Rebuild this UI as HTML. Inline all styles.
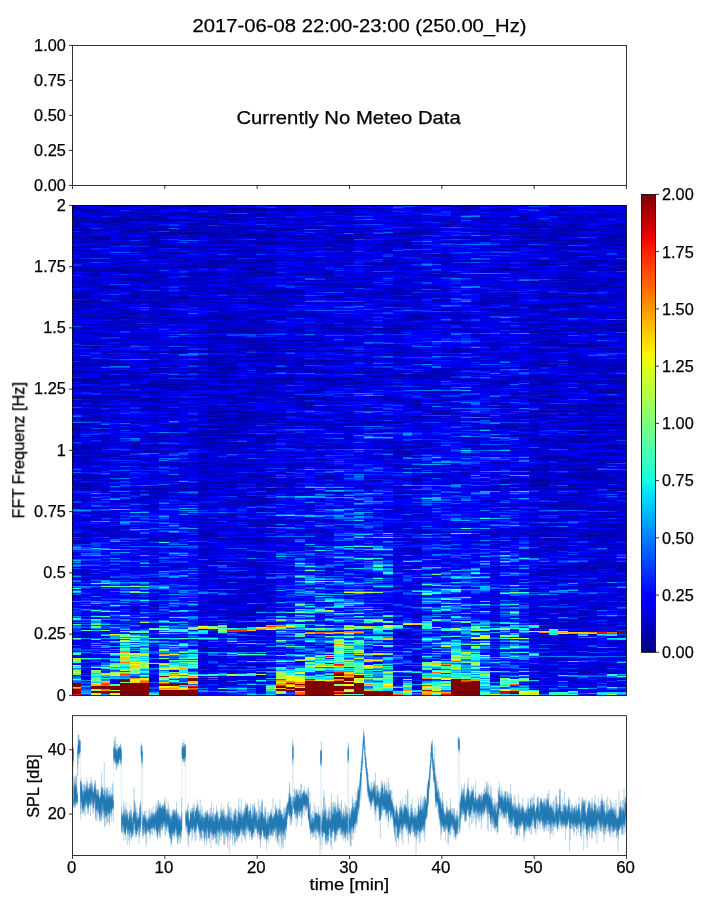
<!DOCTYPE html>
<html><head><meta charset="utf-8"><title>spectrogram</title>
<style>
html,body{margin:0;padding:0;background:#fff}
svg{display:block}
text{font-family:"Liberation Sans",sans-serif;fill:#000;stroke:#000;stroke-width:0.25px}
.ln{stroke:#000;stroke-width:0.8;fill:none}
</style></head><body>

<svg width="720" height="900" viewBox="0 0 720 900">
<rect width="720" height="900" fill="#fff"/>
<rect class="ln" x="72.5" y="45.4" width="554" height="140"/>
<path class="ln" d="M72.5 45.4h-3.5M72.5 80.4h-3.5M72.5 115.4h-3.5M72.5 150.4h-3.5M72.5 185.4h-3.5M72.5 185.4v3.5M164.833 185.4v3.5M257.167 185.4v3.5M349.5 185.4v3.5M441.833 185.4v3.5M534.167 185.4v3.5M626.5 185.4v3.5"/>
<rect x="72.5" y="205.4" width="554" height="490" fill="#0000c5"/>
<g transform="translate(71.5,205.9000) scale(9.73684,1.00000)" fill="none" stroke-width="1" shape-rendering="crispEdges">
<path stroke="#000091" d="M54 219h3M1 174h1M18 174h1M25 173h1M14 172h1M47 172h1M47 170h3M8 164h1M8 36h1M15 36h1"/>
<path stroke="#0000a2" d="M50 335h1M16 334h3M48 334h1M56 334h1M15 333h1M55 332h1M49 331h1M52 331h1M47 330h1M53 330h1M55 330h1M53 329h2M53 327h1M54 326h1M13 325h1M47 325h1M49 324h3M48 322h1M55 322h1M19 297h1M19 296h2M51 296h1M13 294h1M49 293h1M18 291h1M13 290h1M50 290h1M13 289h1M51 289h1M17 288h1M8 287h1M1 284h1M8 284h1M14 284h1M16 284h1M20 284h1M50 284h1M52 284h1M1 283h1M13 283h1M20 283h1M51 283h2M55 283h2M55 282h1M15 281h1M35 281h1M47 281h1M1 280h1M47 280h1M52 280h3M48 279h1M51 279h1M19 278h1M54 278h3M16 277h2M48 277h1M56 277h1M16 276h1M20 276h1M49 276h1M52 276h1M54 276h1M4 275h1M35 275h1M47 275h2M15 274h1M17 274h2M20 274h1M22 274h1M35 274h1M48 274h1M52 273h1M50 272h3M18 271h3M51 271h3M1 270h1M14 270h2M19 270h1M18 269h1M47 269h1M56 268h1M52 265h2M52 263h1M13 262h1M17 262h1M17 258h1M13 257h1M54 257h2M18 255h1M51 255h2M51 254h2M47 253h4M8 252h1M17 252h1M49 252h1M51 252h2M49 251h2M55 249h1M54 248h2M16 247h1M14 244h1M19 244h1M53 244h2M51 243h1M1 242h1M1 241h1M50 241h1M54 241h2M1 240h1M8 240h1M13 240h2M17 240h1M49 240h1M53 240h3M8 239h1M16 237h2M53 236h1M48 235h1M18 234h1M47 234h1M54 234h1M14 233h2M20 233h1M48 233h1M51 233h2M0 232h4M7 232h1M18 232h3M50 232h1M52 232h4M7 231h2M17 231h1M19 231h2M13 230h1M16 230h3M25 230h2M32 230h1M47 230h1M52 230h2M12 229h2M53 228h1M13 227h4M52 227h2M53 226h4M14 225h3M0 224h1M50 224h2M0 223h1M17 223h2M43 223h1M52 223h2M14 222h2M25 222h2M43 222h1M50 222h2M54 222h3M14 221h1M45 221h2M4 220h1M17 220h1M27 220h1M53 220h4M0 219h2M15 219h1M22 219h1M25 219h4M53 219h1M1 218h1M15 218h1M26 218h1M30 218h1M31 217h3M25 216h2M52 216h1M14 215h4M1 214h1M14 214h1M17 214h1M55 214h1M1 213h2M17 213h1M21 213h1M49 213h1M17 212h1M12 211h1M14 211h1M18 211h1M24 211h1M35 211h1M47 211h1M48 210h1M52 210h1M21 209h2M50 209h1M52 209h1M1 208h1M17 208h1M19 208h3M23 208h1M56 208h1M1 207h2M14 207h2M17 207h2M47 207h2M14 206h2M17 206h1M48 206h1M48 205h1M50 205h1M54 205h1M24 204h2M52 203h1M54 202h2M3 201h1M8 201h1M17 201h1M54 201h2M17 200h1M55 200h1M35 199h1M53 199h1M55 199h2M2 197h1M9 197h1M16 197h1M23 197h2M7 196h2M18 196h1M47 196h3M7 195h1M38 195h1M47 195h1M8 194h1M18 194h2M32 194h1M40 194h1M5 193h2M8 193h1M16 193h1M23 193h3M54 193h3M1 192h1M26 192h1M49 192h2M0 191h3M4 191h1M48 191h2M13 190h2M13 189h1M47 189h1M17 188h2M8 187h1M19 187h1M54 187h2M8 186h1M48 186h2M51 186h1M24 185h1M54 185h2M56 184h1M0 183h2M3 183h2M10 183h1M14 183h1M55 183h2M0 182h1M10 182h1M15 182h2M45 182h1M49 182h1M56 182h1M14 181h4M8 180h2M7 179h6M26 179h2M47 179h1M0 178h2M21 178h3M26 178h2M2 177h1M8 177h2M11 177h1M19 177h1M29 177h2M43 177h2M48 177h1M56 177h1M1 176h2M12 176h1M15 176h1M18 176h1M26 176h1M35 176h1M49 176h1M0 175h2M17 175h1M21 175h1M24 175h3M48 175h2M55 175h2M2 174h1M4 174h2M17 174h1M19 174h3M25 174h1M28 174h1M39 174h2M45 174h1M48 174h2M6 173h1M20 173h3M24 173h1M28 173h1M45 173h1M3 172h1M6 172h1M15 172h1M22 172h1M36 172h1M48 172h1M50 172h1M54 172h2M3 171h1M6 171h2M14 171h2M30 171h2M35 171h2M47 171h1M55 171h2M3 170h4M14 170h2M21 170h1M32 170h4M55 170h2M33 169h1M15 168h1M0 167h2M6 167h2M13 167h1M25 167h2M30 167h1M37 167h1M0 166h2M19 166h2M22 166h5M30 166h1M37 166h1M20 165h1M24 165h1M15 164h2M39 164h3M8 163h1M15 163h2M20 163h2M56 163h1M13 162h5M0 160h2M54 160h1M56 160h1M1 159h5M14 159h2M48 159h1M16 158h1M23 158h1M33 158h1M43 158h1M53 158h4M47 157h2M14 156h1M24 156h3M35 156h1M19 155h3M24 155h3M28 155h1M1 154h1M51 154h1M47 152h2M13 151h1M17 151h3M20 150h1M43 150h1M48 150h4M7 147h1M9 147h2M14 147h1M33 147h1M3 146h2M14 146h1M22 146h1M48 146h2M11 145h1M22 145h1M27 145h1M48 145h1M17 144h1M17 143h3M2 141h1M51 141h3M17 140h1M50 140h5M19 139h1M49 139h2M52 139h1M17 137h2M53 137h1M22 136h1M48 136h3M24 135h1M49 135h1M3 134h1M15 134h3M14 133h2M7 130h2M50 129h1M18 127h1M47 127h1M15 126h4M33 126h1M47 126h3M13 125h2M17 125h2M28 125h1M51 125h3M55 125h2M6 124h1M23 124h1M56 124h1M1 123h1M27 123h1M30 123h5M46 123h1M53 123h3M20 122h2M25 121h1M48 121h1M26 120h1M34 120h1M7 119h2M20 119h1M26 119h1M47 119h1M55 119h2M16 118h1M18 118h1M36 118h1M39 118h1M48 118h2M39 117h1M16 116h1M34 115h1M11 114h1M13 114h1M18 114h1M46 114h1M4 113h1M13 113h1M15 113h2M35 113h1M13 112h1M52 112h1M5 111h1M35 111h1M15 110h1M33 110h1M6 109h1M9 109h1M15 109h1M49 109h2M55 108h2M20 107h1M49 107h1M56 107h1M18 106h1M48 102h2M47 101h3M3 100h1M47 100h1M33 99h1M50 99h2M3 98h1M17 98h1M19 98h1M41 98h2M51 98h4M1 97h1M6 97h1M8 97h1M14 97h1M18 97h1M53 97h2M0 96h1M19 95h2M38 95h1M34 94h1M0 93h1M7 93h1M10 93h2M20 93h1M43 93h3M52 93h2M11 92h1M16 92h1M30 92h1M32 92h4M44 92h1M0 91h1M11 91h1M16 91h1M26 91h2M51 91h1M43 90h3M6 89h1M30 89h2M9 88h1M33 88h2M16 87h1M20 87h1M15 86h2M20 86h4M16 85h1M22 85h1M12 84h1M15 84h1M18 84h1M28 84h1M37 83h1M51 83h3M3 82h2M30 82h2M37 82h1M3 81h1M26 81h1M29 81h2M53 81h2M56 81h1M54 80h1M19 79h1M23 79h2M12 78h1M34 78h1M44 78h1M50 78h1M1 77h1M14 77h1M47 77h1M51 77h1M13 76h1M16 76h1M33 76h2M52 76h4M6 75h2M26 75h1M53 75h1M4 74h1M6 74h1M21 74h2M30 74h1M54 74h1M30 73h1M50 73h2M8 72h1M51 72h1M2 70h2M13 70h1M36 70h2M56 70h1M2 69h1M18 69h1M23 69h2M1 68h4M12 68h4M7 67h2M19 67h2M7 66h1M1 65h5M18 64h1M44 64h4M52 64h2M4 63h2M18 63h1M44 63h1M51 62h1M53 62h1M12 61h4M53 61h1M56 61h1M20 60h1M14 59h1M31 59h2M47 59h3M33 58h1M53 58h1M56 58h1M18 57h1M6 56h1M16 56h1M19 56h2M54 56h1M0 55h1M14 55h1M19 55h2M24 55h1M52 55h3M22 52h1M28 52h1M51 52h1M8 51h1M2 50h1M5 50h1M10 48h1M10 47h1M16 46h1M0 45h1M7 45h1M16 45h1M20 44h1M52 44h1M50 43h2M55 43h1M0 42h1M34 42h1M48 42h1M1 41h1M9 41h4M24 41h1M26 41h2M34 41h2M44 41h4M23 40h2M27 40h1M33 40h3M56 40h1M8 39h1M19 39h2M32 39h1M56 39h1M20 38h2M31 38h1M34 38h1M1 37h1M4 37h2M7 37h1M14 37h3M18 37h3M22 37h2M28 37h1M38 37h2M51 37h1M1 36h1M9 36h1M43 36h1M52 36h2M8 35h1M15 35h1M33 35h1M49 35h4M3 34h1M50 34h2M2 33h2M8 33h1M24 33h1M28 33h3M47 33h1M55 33h1M2 32h1M15 32h1M47 32h1M0 31h1M2 31h2M12 31h1M17 31h1M19 31h1M23 31h1M27 31h2M33 31h1M56 31h1M20 30h1M55 30h1M8 29h5M15 29h6M29 29h2M34 29h2M45 29h2M54 29h1M1 28h1M10 28h4M24 28h2M56 28h1M5 27h2M10 27h4M35 27h2M45 27h1M49 27h1M5 26h2M16 26h1M42 26h1M0 25h3M6 25h3M11 25h1M22 25h1M50 25h2M53 25h1M1 24h1M6 24h1M11 24h2M20 24h1M22 24h1M45 24h1M50 24h1M52 24h1M8 23h2M15 23h1M17 23h1M19 23h4M51 23h2M18 22h1M47 22h1M4 21h1M45 21h4M56 21h1M0 20h1M21 20h1M14 19h2M46 19h2M51 19h1M13 18h2M45 18h1M51 18h1M2 17h4M20 17h1M27 17h1M48 17h1M13 16h2M0 15h2M4 15h1M7 15h2M10 15h3M17 15h1M23 15h1M5 14h2M11 14h2M1 13h1M4 13h1M8 13h2M42 13h1M8 12h1M14 12h1M13 11h1M16 11h1M54 11h1M15 10h3M50 10h1M54 10h1M11 9h3M16 9h1M19 9h1M28 9h1M3 8h1M10 8h3M33 8h1M46 8h1M55 8h2M1 5h2M19 5h1M22 5h1M43 5h1M7 4h2M16 4h1M19 4h2M26 4h1M40 4h1M51 4h6M0 3h1M16 3h4M22 3h1M28 3h1M40 3h1M0 2h3M15 2h1M50 2h1M10 1h2M5 0h2"/>
<path stroke="#0000b4" d="M21 489h1M16 473h1M15 472h1M50 472h1M48 470h2M49 468h1M52 467h2M15 466h1M49 441h1M51 441h1M16 440h1M50 438h1M53 438h1M55 438h1M49 437h1M51 434h2M52 433h1M48 432h1M17 431h1M48 431h1M53 430h1M50 429h2M48 419h1M13 418h1M18 418h1M48 414h1M16 413h3M52 413h4M15 412h2M47 412h1M53 412h2M13 410h4M49 410h1M51 410h2M17 409h1M47 409h1M52 409h1M15 408h1M18 408h1M52 408h1M13 407h1M15 407h4M52 407h2M14 406h3M48 406h2M18 405h2M13 404h1M33 404h3M43 404h1M48 404h1M54 404h1M19 403h1M50 403h2M54 403h1M13 402h1M18 402h2M53 402h2M13 401h1M18 401h2M8 400h1M35 400h1M16 399h1M19 399h2M35 399h1M55 399h1M15 398h2M51 398h2M54 398h2M14 397h2M49 396h3M50 395h3M16 394h1M47 394h1M52 394h2M13 392h1M18 392h1M56 389h1M52 382h2M15 381h1M19 381h1M52 381h2M53 380h1M53 379h2M48 378h2M13 377h1M15 376h2M18 376h1M14 375h4M49 375h3M56 375h1M19 374h1M54 374h1M55 373h1M55 372h1M13 371h1M52 371h1M49 370h1M16 369h2M20 369h1M48 369h2M17 368h1M51 368h1M53 368h3M13 367h1M15 367h2M18 367h2M48 367h1M50 367h1M53 367h2M18 366h2M35 366h1M48 366h3M1 365h1M49 365h1M52 365h1M56 365h1M8 364h1M14 364h2M19 364h2M43 364h1M47 364h3M52 364h2M52 363h2M56 363h1M19 362h2M51 362h3M35 361h1M48 361h3M52 361h2M55 361h2M16 360h4M16 359h1M18 359h1M52 359h5M14 358h1M51 358h3M13 357h2M18 357h1M48 357h1M54 357h3M54 354h1M13 352h1M19 352h1M54 352h2M18 351h1M53 351h1M55 351h1M19 350h1M53 350h1M19 349h1M17 348h3M50 348h1M52 348h1M54 347h1M13 345h1M47 345h2M19 344h1M49 343h2M18 342h1M20 342h1M53 342h2M8 340h1M13 339h1M53 339h2M56 339h1M13 338h1M18 338h3M53 338h1M17 337h1M19 337h1M35 337h1M48 337h1M1 336h1M18 336h3M35 336h1M1 335h1M8 335h1M19 335h1M49 335h1M54 335h1M56 335h1M8 334h1M19 334h1M33 334h1M35 334h1M47 334h1M49 334h2M54 334h1M9 333h2M14 333h1M16 333h2M19 333h1M34 333h1M54 333h1M8 332h1M19 332h1M56 332h1M0 331h2M14 331h2M50 331h2M53 331h1M55 331h1M4 330h1M10 330h1M13 330h2M48 330h1M52 330h1M54 330h1M56 330h1M1 329h1M14 329h1M26 329h1M43 329h1M46 329h1M13 328h2M18 328h1M56 328h1M20 327h1M35 327h1M43 327h1M50 327h1M54 327h3M13 326h1M19 326h1M33 326h1M35 326h1M49 326h2M53 326h1M55 326h1M2 325h2M14 325h1M24 325h1M35 325h1M48 325h3M55 325h1M2 324h2M17 324h2M35 324h1M47 324h2M56 324h1M1 323h1M48 323h1M1 322h1M33 322h1M35 322h1M56 322h1M13 321h2M18 321h3M53 321h3M16 320h1M20 320h1M33 320h1M49 320h2M52 320h1M55 320h1M19 319h1M48 319h1M53 319h4M19 317h2M16 316h5M53 316h1M13 315h2M16 315h5M49 315h1M53 315h2M56 315h1M13 314h2M48 314h1M50 313h1M20 312h1M51 312h1M14 311h1M50 311h1M53 311h4M15 310h2M16 309h1M47 309h1M54 307h1M19 305h1M51 304h2M19 303h1M51 303h5M1 302h1M14 302h1M49 302h1M55 302h1M13 301h1M43 301h1M49 301h4M8 300h1M20 300h1M49 300h2M56 300h1M16 299h1M18 299h1M47 299h5M20 298h1M16 297h3M20 297h1M50 297h2M8 296h1M18 296h1M43 296h1M50 296h1M52 296h2M0 295h2M20 295h1M43 295h1M51 295h1M1 294h1M6 294h2M12 294h1M14 294h1M19 294h1M44 294h1M1 293h2M11 293h2M19 293h2M48 293h1M50 293h2M54 293h1M56 293h1M17 292h2M8 291h1M17 291h1M0 290h2M16 290h2M47 290h1M51 290h2M14 289h1M16 289h1M50 289h1M4 288h1M6 288h1M8 288h3M14 288h1M22 288h2M27 288h1M33 288h4M47 288h2M52 288h2M6 287h2M23 287h2M26 287h2M33 287h1M16 286h1M9 285h2M20 285h1M43 285h3M55 285h1M6 284h2M11 284h1M15 284h1M21 284h3M41 284h3M45 284h1M51 284h1M0 283h1M2 283h2M5 283h3M9 283h1M14 283h1M19 283h1M21 283h3M27 283h1M47 283h1M49 283h2M53 283h1M6 282h1M13 282h1M33 282h2M56 282h1M1 281h2M7 281h2M11 281h1M13 281h1M16 281h1M21 281h2M30 281h1M33 281h2M43 281h1M45 281h2M48 281h4M54 281h1M0 280h1M11 280h1M43 280h1M46 280h1M48 280h1M56 280h1M0 279h2M11 279h1M19 279h1M47 279h1M52 279h2M0 278h3M14 278h3M20 278h1M22 278h1M33 278h1M35 278h1M37 278h2M41 278h1M47 278h2M53 278h1M0 277h1M14 277h2M18 277h1M20 277h1M26 277h2M43 277h2M47 277h1M13 276h1M18 276h2M24 276h3M28 276h1M44 276h2M48 276h1M53 276h1M55 276h1M3 275h1M20 275h1M23 275h1M30 275h2M45 275h1M49 275h2M55 275h1M10 274h2M14 274h1M16 274h1M19 274h1M21 274h1M23 274h1M45 274h3M49 274h2M53 274h1M1 273h2M26 273h1M33 273h1M53 273h3M0 272h1M4 272h1M14 272h1M19 272h1M25 272h2M0 271h2M4 271h1M9 271h3M16 271h1M22 271h1M26 271h1M35 271h1M37 271h1M44 271h2M48 271h1M50 271h1M54 271h3M0 270h1M2 270h1M12 270h2M16 270h1M18 270h1M26 270h2M36 270h2M43 270h1M49 270h4M54 270h1M48 269h1M51 269h1M53 269h1M13 268h1M47 268h7M53 267h1M55 267h1M14 266h1M2 265h1M15 265h2M19 265h1M47 265h2M51 265h1M54 265h1M16 264h2M51 264h2M26 263h1M46 263h3M50 263h2M16 262h1M18 262h2M26 262h2M13 261h5M26 261h2M33 261h2M48 261h1M50 261h3M15 260h1M22 260h1M8 259h3M16 259h3M20 259h1M48 259h2M55 259h1M1 258h3M18 258h1M24 258h2M43 258h1M1 257h1M43 257h1M56 257h1M0 256h1M19 256h2M16 255h2M22 255h1M25 255h1M54 255h1M0 254h1M48 254h2M55 254h2M1 253h1M6 253h1M13 253h1M51 253h1M1 252h1M9 252h1M13 252h1M16 252h1M47 252h2M50 252h1M53 252h1M0 251h4M13 251h1M34 251h1M48 251h1M3 250h1M43 250h1M53 250h1M55 250h1M2 249h3M13 249h2M25 249h1M33 249h2M53 249h1M56 249h1M0 248h1M3 248h3M13 248h2M19 248h4M26 248h1M49 248h2M0 247h1M3 247h1M5 247h2M9 247h1M17 247h5M49 247h1M54 247h2M7 246h1M16 246h3M33 246h1M1 245h1M8 245h1M34 245h2M37 245h1M1 244h1M17 244h2M56 244h1M0 243h3M7 243h1M11 243h1M24 243h2M27 243h2M32 243h2M42 243h1M45 243h1M56 243h1M0 242h1M2 242h1M5 242h2M11 242h2M18 242h2M22 242h3M31 242h5M42 242h1M55 242h1M0 241h1M9 241h3M16 241h3M26 241h1M33 241h2M44 241h1M49 241h1M0 240h1M2 240h3M10 240h3M19 240h1M27 240h1M45 240h1M48 240h1M50 240h3M56 240h1M3 239h1M6 239h1M15 239h1M55 239h1M2 238h3M18 238h1M27 238h2M31 238h2M49 238h1M6 237h1M13 237h3M19 237h2M22 237h2M32 237h4M50 237h3M0 236h1M7 236h1M12 236h3M22 236h1M26 236h1M35 236h1M44 236h1M50 236h1M52 236h1M4 235h1M9 235h1M13 235h2M19 235h2M31 235h1M41 235h1M47 235h1M49 235h6M2 234h2M12 234h3M19 234h1M25 234h1M28 234h1M30 234h1M40 234h2M48 234h1M51 234h1M53 234h1M55 234h1M3 233h1M13 233h1M16 233h1M37 233h1M40 233h2M54 233h1M56 233h1M4 232h1M6 232h1M8 232h2M51 232h1M0 231h1M3 231h1M9 231h1M16 231h1M23 231h1M45 231h2M49 231h4M55 231h2M3 230h1M15 230h1M24 230h1M27 230h1M36 230h1M45 230h2M51 230h1M54 230h1M9 229h1M15 229h1M18 229h1M23 229h1M8 228h1M52 228h1M54 228h2M30 227h1M54 227h1M7 226h1M9 226h1M14 226h3M31 226h2M41 226h1M43 226h1M51 226h2M0 225h1M3 225h1M13 225h1M47 225h1M1 224h1M3 224h4M10 224h1M17 224h1M27 224h2M39 224h2M48 224h2M52 224h1M54 224h1M5 223h2M22 223h1M36 223h1M42 223h1M44 223h1M51 223h1M54 223h1M56 223h1M0 222h1M6 222h1M10 222h1M17 222h2M27 222h1M44 222h1M53 222h1M2 221h2M10 221h1M12 221h2M15 221h2M33 221h1M44 221h1M47 221h1M49 221h1M56 221h1M3 220h1M14 220h3M26 220h1M28 220h1M38 220h1M43 220h1M47 220h1M11 219h1M16 219h2M21 219h1M23 219h1M29 219h2M45 219h1M47 219h1M0 218h1M16 218h1M23 218h2M28 218h2M35 218h1M37 218h1M40 218h2M47 218h1M5 217h2M14 217h1M20 217h5M30 217h1M49 217h1M7 216h1M14 216h1M17 216h1M29 216h1M48 216h2M7 215h2M18 215h3M29 215h1M51 215h2M55 215h1M16 214h1M20 214h1M49 214h1M53 214h2M56 214h1M16 213h1M18 213h1M20 213h1M25 213h1M35 213h1M41 213h2M50 213h1M56 213h1M1 212h2M4 212h1M25 212h1M31 212h1M45 212h2M53 212h1M56 212h1M2 211h2M15 211h1M17 211h1M19 211h1M31 211h2M41 211h2M48 211h1M8 210h1M17 210h4M27 210h1M31 210h1M47 210h1M49 210h2M53 210h3M14 209h1M18 209h3M23 209h1M37 209h2M51 209h1M53 209h2M56 209h1M0 208h1M14 208h1M18 208h1M22 208h1M38 208h1M16 207h1M19 207h1M37 207h2M49 207h1M2 206h2M16 206h1M18 206h2M37 206h2M49 206h2M54 206h3M0 205h1M4 205h1M7 205h1M15 205h2M26 205h2M30 205h2M36 205h3M49 205h1M51 205h1M53 205h1M0 204h2M7 204h2M26 204h1M35 204h1M8 203h1M13 203h2M24 203h1M49 203h1M51 203h1M8 202h1M12 202h1M14 202h1M23 202h4M43 202h2M49 202h1M52 202h2M56 202h1M2 201h1M4 201h1M7 201h1M14 201h1M16 201h1M24 201h1M35 201h1M44 201h1M49 201h5M56 201h1M0 200h2M6 200h1M23 200h1M30 200h1M46 200h2M52 200h3M11 199h1M24 199h1M36 199h1M38 199h2M44 199h1M49 199h1M52 199h1M54 199h1M16 198h1M23 198h1M25 198h1M3 197h2M10 197h1M13 197h1M20 197h3M25 197h1M33 197h1M35 197h1M1 196h1M9 196h2M17 196h1M34 196h1M55 196h1M1 195h1M6 195h1M8 195h1M26 195h2M29 195h1M32 195h1M35 195h1M37 195h1M48 195h1M54 195h1M7 194h1M10 194h2M25 194h2M33 194h3M38 194h2M54 194h2M0 193h4M7 193h1M9 193h1M11 193h1M15 193h1M17 193h2M21 193h2M26 193h1M32 193h1M40 193h1M45 193h1M0 192h1M5 192h2M15 192h1M24 192h2M31 192h2M40 192h2M44 192h1M54 192h2M3 191h1M5 191h1M15 191h2M23 191h1M30 191h3M50 191h1M1 190h1M3 190h2M15 190h1M21 190h2M14 189h1M18 189h1M28 189h1M45 189h2M48 189h2M5 188h1M8 188h1M21 188h2M33 188h1M45 188h2M54 188h1M6 187h1M18 187h1M20 187h1M37 187h3M43 187h1M53 187h1M56 187h1M9 186h1M24 186h1M36 186h1M38 186h2M50 186h1M54 186h1M4 185h1M19 185h1M25 185h1M48 185h2M56 185h1M0 184h1M9 184h2M15 184h1M18 184h1M24 184h3M29 184h2M45 184h1M51 184h1M54 184h2M2 183h1M5 183h2M9 183h1M11 183h1M15 183h1M20 183h1M52 183h2M1 182h1M9 182h1M14 182h1M28 182h1M44 182h1M46 182h1M8 181h3M19 181h1M37 181h2M41 181h1M52 181h2M7 180h1M13 180h2M43 180h2M55 180h1M6 179h1M13 179h1M20 179h1M28 179h1M33 179h1M36 179h1M43 179h1M48 179h1M2 178h1M4 178h1M8 178h1M11 178h1M19 178h2M24 178h1M28 178h2M43 178h2M48 178h1M1 177h1M4 177h1M15 177h1M18 177h1M20 177h3M26 177h1M47 177h1M49 177h1M52 177h2M55 177h1M0 176h1M16 176h2M34 176h1M36 176h1M40 176h1M43 176h2M48 176h1M50 176h1M2 175h1M10 175h2M15 175h2M19 175h1M22 175h1M40 175h3M45 175h1M50 175h1M52 175h3M0 174h1M16 174h1M22 174h1M24 174h1M26 174h2M35 174h2M41 174h1M50 174h1M1 173h3M5 173h1M23 173h1M26 173h2M33 173h1M35 173h1M38 173h2M44 173h1M46 173h2M4 172h1M13 172h1M20 172h1M25 172h1M35 172h1M46 172h1M49 172h1M51 172h1M56 172h1M4 171h1M10 171h2M16 171h1M32 171h3M37 171h1M48 171h1M51 171h1M2 170h1M13 170h1M22 170h2M30 170h1M36 170h1M15 169h1M18 169h1M37 169h1M6 168h2M14 168h1M19 168h1M30 168h1M3 167h1M5 167h1M9 167h4M14 167h3M19 167h1M27 167h3M31 167h1M33 167h1M36 167h1M38 167h1M3 166h2M8 166h1M16 166h1M18 166h1M21 166h1M27 166h3M33 166h1M38 166h1M54 166h1M0 165h1M4 165h2M8 165h1M15 165h1M37 165h1M52 165h1M55 165h1M9 164h1M14 164h1M20 164h1M26 164h1M37 164h2M42 164h2M55 164h2M9 163h1M12 163h2M17 163h1M22 163h1M31 163h1M39 163h1M41 163h2M55 163h1M6 162h1M18 162h3M46 162h1M53 162h2M56 162h1M6 161h1M8 161h3M16 161h1M18 161h2M48 161h1M52 161h1M55 161h2M2 160h1M4 160h2M8 160h1M15 160h2M38 160h4M43 160h1M48 160h1M52 160h2M55 160h1M13 159h1M23 159h1M25 159h2M33 159h1M47 159h1M50 159h3M56 159h1M1 158h3M14 158h2M42 158h1M44 158h2M1 157h4M13 157h3M23 157h2M49 157h1M51 157h2M4 156h1M8 156h1M11 156h1M13 156h1M18 156h3M28 156h1M33 156h2M36 156h1M40 156h1M48 156h1M54 156h2M8 155h2M14 155h1M17 155h2M22 155h2M27 155h1M30 155h1M54 155h2M2 154h1M14 154h1M23 154h1M33 154h2M39 154h2M14 153h1M30 153h1M44 153h2M51 153h1M13 152h4M18 152h2M45 152h1M49 152h4M10 151h1M14 151h1M16 151h1M21 151h1M25 151h1M9 150h1M19 150h1M21 150h1M44 150h1M18 149h3M32 149h2M42 149h2M48 149h1M20 148h1M45 148h2M3 147h1M6 147h1M8 147h1M15 147h1M28 147h3M2 146h1M5 146h3M10 146h2M15 146h1M21 146h1M23 146h3M33 146h1M39 146h2M47 146h1M53 146h1M12 145h3M19 145h3M23 145h1M39 145h1M47 145h1M49 145h2M20 144h1M34 144h1M38 144h3M47 144h1M8 143h1M20 143h1M39 143h2M49 143h1M53 143h3M10 142h1M13 142h2M18 142h1M20 142h3M33 142h1M1 141h1M14 141h1M19 141h1M25 141h1M50 141h1M54 141h1M14 140h3M21 140h1M25 140h1M28 140h1M38 140h1M47 140h3M2 139h1M5 139h1M7 139h1M10 139h5M20 139h4M25 139h2M32 139h1M41 139h1M43 139h4M48 139h1M51 139h1M53 139h1M6 138h2M10 138h1M14 138h4M26 138h2M49 138h1M15 137h2M49 137h1M3 136h4M8 136h2M11 136h2M18 136h1M21 136h1M51 136h1M4 135h2M11 135h1M16 135h3M20 135h4M25 135h1M48 135h1M0 134h1M2 134h1M18 134h2M24 134h1M43 134h1M45 134h2M49 134h2M7 133h1M13 133h1M16 133h1M29 133h1M43 133h1M47 133h3M8 132h1M14 132h1M16 132h2M43 132h1M48 132h2M4 131h1M6 131h1M15 131h1M3 130h2M6 130h1M9 130h1M3 129h1M49 129h1M56 129h1M2 128h2M6 128h1M8 128h2M11 128h3M19 128h1M50 128h2M53 128h1M55 128h1M13 127h2M16 127h1M19 127h1M28 127h3M33 127h1M14 126h1M19 126h2M23 126h3M32 126h1M41 126h2M46 126h1M15 125h2M19 125h1M23 125h1M40 125h2M47 125h4M54 125h1M4 124h2M7 124h1M16 124h4M22 124h1M24 124h1M33 124h3M40 124h4M46 124h2M0 123h1M17 123h5M26 123h1M28 123h1M35 123h1M44 123h2M56 123h1M1 122h1M10 122h2M17 122h1M22 122h1M33 122h1M4 121h3M15 121h1M17 121h1M26 121h1M33 121h2M16 120h1M33 120h1M35 120h1M40 120h1M48 120h1M51 120h1M54 120h2M2 119h1M6 119h1M14 119h1M18 119h2M27 119h2M46 119h1M48 119h2M51 119h1M53 119h2M15 118h1M17 118h1M19 118h1M29 118h1M37 118h2M40 118h1M50 118h1M52 118h2M4 117h3M9 117h2M13 117h2M19 117h1M38 117h1M40 117h1M3 116h3M12 116h2M18 116h2M27 116h1M37 116h1M46 116h1M51 116h2M46 115h2M10 114h1M12 114h1M14 114h4M19 114h1M21 114h1M28 114h1M33 114h4M47 114h1M3 113h1M6 113h6M14 113h1M17 113h1M20 113h1M36 113h1M46 113h1M54 113h1M56 113h1M3 112h2M10 112h3M14 112h2M20 112h2M26 112h1M36 112h1M40 112h1M0 111h3M6 111h1M16 111h1M21 111h2M36 111h1M47 111h2M50 111h2M9 110h1M16 110h3M21 110h2M24 110h2M31 110h2M34 110h1M54 110h1M1 109h1M3 109h3M8 109h1M10 109h1M14 109h1M23 109h2M38 109h3M43 109h1M51 109h3M6 108h1M25 108h1M51 108h1M53 108h2M2 107h1M18 107h2M23 107h1M45 107h1M48 107h1M53 107h1M55 107h1M3 106h1M17 106h1M20 106h1M47 106h2M51 106h1M53 106h3M4 105h1M9 105h1M43 105h1M51 105h1M0 104h1M5 104h1M15 104h1M38 104h1M54 104h3M0 103h1M4 103h1M43 103h1M14 102h2M47 102h1M51 102h1M1 101h1M9 101h1M46 101h1M50 101h2M0 100h3M4 100h1M8 100h2M13 100h1M46 100h1M51 100h1M3 99h1M20 99h1M34 99h1M48 99h2M52 99h1M6 98h1M8 98h1M15 98h1M18 98h1M20 98h2M27 98h2M43 98h1M49 98h2M55 98h1M2 97h2M5 97h1M9 97h2M13 97h1M17 97h1M22 97h1M25 97h1M29 97h1M42 97h1M51 97h2M55 97h1M1 96h1M18 96h1M43 96h2M55 96h1M1 95h1M11 95h1M42 95h3M5 94h1M16 94h1M26 94h2M8 93h1M12 93h2M21 93h1M35 93h1M42 93h1M1 92h1M6 92h1M10 92h1M17 92h1M31 92h1M36 92h1M39 92h2M43 92h1M45 92h1M56 92h1M5 91h2M22 91h2M25 91h1M35 91h1M37 91h1M48 91h3M53 91h1M0 90h1M5 90h2M8 90h1M27 90h3M37 90h2M55 90h1M1 89h1M7 89h2M13 89h1M19 89h2M29 89h1M33 89h1M49 89h2M55 89h2M0 88h2M10 88h1M14 88h1M19 88h2M22 88h2M31 88h2M35 88h1M39 88h1M42 88h1M6 87h1M8 87h2M15 87h1M19 87h1M21 87h3M32 87h1M47 87h2M56 87h1M2 86h1M17 86h1M24 86h3M30 86h1M33 86h3M51 86h3M2 85h2M13 85h1M18 85h4M23 85h1M28 85h1M33 85h2M38 85h1M42 85h2M51 85h1M53 85h1M3 84h1M6 84h1M13 84h1M16 84h1M19 84h1M21 84h2M27 84h1M33 84h1M53 84h2M3 83h2M8 83h1M11 83h2M14 83h1M18 83h1M32 83h2M38 83h1M0 82h1M5 82h1M13 82h2M20 82h1M32 82h1M34 82h1M36 82h1M53 82h1M0 81h1M4 81h1M17 81h2M25 81h1M27 81h2M43 81h1M49 81h1M52 81h1M55 81h1M6 80h1M17 80h1M30 80h1M36 80h1M47 80h1M52 80h1M2 79h1M12 79h1M18 79h1M27 79h1M54 79h1M1 78h1M9 78h1M11 78h1M13 78h1M16 78h1M24 78h2M33 78h1M35 78h1M51 78h1M55 78h1M7 77h3M15 77h1M46 77h1M48 77h1M50 77h1M52 77h1M55 77h1M0 76h3M7 76h1M12 76h1M14 76h1M17 76h1M30 76h1M35 76h2M40 76h1M56 76h1M3 75h1M5 75h1M12 75h1M22 75h1M24 75h2M27 75h1M34 75h1M3 74h1M5 74h1M7 74h1M11 74h2M36 74h2M53 74h1M4 73h5M11 73h3M27 73h1M29 73h1M48 73h2M52 73h1M55 73h1M7 72h1M29 72h1M50 72h1M52 72h3M8 71h1M26 71h1M10 70h1M12 70h1M14 70h1M38 70h1M47 70h2M51 70h1M1 69h1M9 69h1M11 69h4M17 69h1M19 69h1M26 69h1M28 69h1M37 69h1M41 69h1M51 69h1M5 68h1M7 68h2M20 68h1M25 68h1M56 68h1M5 67h1M14 67h1M18 67h1M23 67h1M26 67h1M31 67h1M50 67h1M2 66h1M8 66h1M26 66h1M42 66h2M0 65h1M6 65h1M18 65h3M44 65h1M52 65h1M55 65h2M8 64h1M34 64h1M48 64h1M51 64h1M54 64h3M0 63h2M3 63h1M6 63h4M17 63h1M35 63h1M43 63h1M51 63h1M53 63h1M56 63h1M0 62h1M4 62h2M8 62h1M11 62h1M13 62h1M23 62h2M30 62h1M34 62h1M37 62h2M40 62h1M50 62h1M52 62h1M54 62h1M6 61h4M11 61h1M16 61h1M18 61h2M3 60h1M21 60h1M47 60h1M4 59h1M11 59h1M15 59h1M20 59h1M24 59h1M30 59h1M40 59h1M50 59h1M52 59h1M55 59h2M5 58h1M13 58h5M19 58h2M30 58h3M34 58h1M48 58h1M52 58h1M54 58h2M14 57h4M19 57h1M33 57h2M48 57h1M52 57h1M10 56h2M13 56h3M18 56h1M38 56h2M44 56h2M48 56h1M52 56h2M56 56h1M1 55h1M3 55h1M15 55h4M21 55h1M25 55h2M28 55h1M40 55h2M46 55h3M56 55h1M1 54h1M4 54h2M24 54h1M5 53h1M7 53h1M9 53h1M11 53h1M23 53h1M32 53h1M2 52h1M7 52h1M25 52h2M29 52h2M42 52h1M50 52h1M52 52h1M54 52h2M2 51h1M9 51h1M14 51h1M16 51h2M19 51h1M35 51h3M50 51h1M6 50h1M17 50h3M23 50h1M26 50h2M30 50h1M33 50h1M50 50h2M37 49h2M51 49h3M2 48h1M17 48h1M27 48h2M2 47h1M9 47h1M11 47h1M7 46h1M15 46h1M19 46h1M1 45h1M6 45h1M19 45h1M23 45h1M26 45h1M28 45h1M30 45h2M43 45h3M12 44h2M19 44h1M24 44h1M31 44h1M41 44h1M45 44h1M49 44h1M52 43h1M54 43h1M1 42h3M8 42h2M13 42h1M16 42h1M18 42h1M31 42h1M35 42h1M44 42h2M47 42h1M54 42h1M56 42h1M2 41h2M13 41h1M15 41h1M7 40h2M22 40h1M25 40h2M28 40h2M32 40h1M44 40h2M4 39h1M7 39h1M26 39h1M31 39h1M34 39h1M50 39h1M55 39h1M0 38h1M5 38h1M9 38h1M15 38h1M19 38h1M27 38h2M30 38h1M32 38h2M35 38h1M50 38h2M55 38h1M3 37h1M6 37h1M8 37h1M21 37h1M24 37h1M26 37h2M29 37h1M34 37h1M45 37h2M48 37h2M52 37h1M55 37h1M0 36h1M2 36h1M10 36h1M16 36h1M19 36h1M21 36h2M28 36h1M38 36h3M44 36h2M56 36h1M27 35h2M32 35h1M34 35h1M46 35h3M54 35h3M2 34h1M4 34h2M23 34h1M49 34h1M52 34h1M54 34h1M0 33h2M5 33h3M23 33h1M25 33h1M27 33h1M49 33h1M3 32h1M8 32h1M14 32h1M18 32h1M38 32h3M44 32h1M50 32h1M55 32h1M1 31h1M8 31h1M11 31h1M14 31h2M18 31h1M20 31h1M22 31h1M29 31h1M34 31h1M42 31h1M46 31h2M49 31h1M52 31h1M55 31h1M17 30h2M21 30h1M26 30h1M49 30h2M52 30h1M56 30h1M14 29h1M26 29h1M31 29h1M33 29h1M42 29h2M50 29h2M55 29h2M0 28h1M14 28h2M18 28h3M26 28h1M33 28h1M35 28h1M45 28h1M1 27h1M9 27h1M14 27h1M18 27h1M20 27h1M27 27h2M34 27h1M37 27h1M44 27h1M46 27h2M50 27h1M28 26h2M43 26h1M51 26h1M3 25h1M10 25h1M12 25h1M16 25h1M21 25h1M26 25h1M30 25h1M34 25h2M41 25h2M48 25h1M52 25h1M0 24h1M4 24h1M8 24h2M13 24h1M21 24h1M28 24h1M33 24h1M35 24h3M47 24h1M51 24h1M53 24h1M12 23h1M18 23h1M23 23h2M26 23h1M28 23h3M50 23h1M54 23h3M11 22h1M14 22h1M27 22h1M48 22h1M51 22h1M0 21h1M5 21h1M9 21h1M12 21h1M14 21h1M35 21h1M38 21h1M49 21h1M55 21h1M3 19h1M8 19h1M12 19h2M22 19h3M38 19h2M50 19h1M56 19h1M12 18h1M23 18h1M26 18h1M31 18h4M36 18h1M44 18h1M46 18h2M56 18h1M28 17h1M38 17h2M47 17h1M2 16h1M4 16h1M9 16h1M20 16h1M31 16h1M39 16h1M47 16h2M5 15h2M9 15h1M13 15h2M38 15h1M4 14h1M8 14h1M10 14h1M16 14h1M22 14h2M26 14h1M35 14h1M46 14h1M50 14h1M0 13h1M3 13h1M5 13h3M14 13h2M19 13h3M34 13h1M37 13h1M43 13h1M50 13h1M1 12h1M13 12h1M42 12h1M46 12h1M7 11h2M14 11h2M55 11h2M1 10h2M6 10h1M18 10h2M35 10h1M49 10h1M7 9h2M10 9h1M15 9h1M17 9h1M20 9h1M29 9h1M39 9h1M46 9h1M2 8h1M5 8h2M13 8h1M29 8h2M34 8h1M40 8h1M45 8h1M47 8h1M49 8h1M52 8h1M54 8h1M2 7h1M11 7h1M1 6h2M22 6h1M25 6h4M43 6h2M0 5h1M7 5h1M16 5h3M20 5h1M31 5h1M49 5h1M53 5h1M0 4h2M4 4h1M6 4h1M18 4h1M23 4h1M25 4h1M41 4h4M15 3h1M24 3h2M29 3h1M35 3h1M41 3h1M44 3h1M50 3h1M3 2h1M9 2h1M12 2h2M16 2h3M22 2h1M40 2h1M53 2h1M55 2h2M3 1h3M9 1h1M12 1h2M25 1h1M27 1h1M40 1h1M12 0h1M15 0h2M18 0h1M21 0h3"/>
<path stroke="#0000d6" d="M15 489h1M53 489h1M15 488h1M35 487h1M48 487h1M52 487h2M19 486h1M50 486h1M54 486h3M15 485h1M48 485h2M18 482h1M50 482h1M13 481h1M19 481h1M48 481h1M51 481h1M55 481h2M18 480h1M56 480h1M15 479h1M33 479h1M47 479h1M55 479h2M15 478h1M47 478h3M52 478h1M33 477h1M53 477h1M15 476h1M17 476h1M52 476h1M56 476h1M8 475h1M13 475h1M33 475h1M1 474h1M15 474h1M35 474h1M43 474h1M15 473h1M51 473h1M1 472h1M20 472h1M34 472h1M43 472h1M51 472h1M16 471h1M47 471h1M49 471h1M8 470h1M43 470h1M33 469h1M51 469h1M53 469h1M47 468h1M16 467h3M13 466h2M16 466h1M52 466h1M55 466h1M14 465h1M20 465h1M35 465h1M43 465h1M47 465h1M51 465h1M53 465h1M55 465h2M14 464h1M43 464h1M50 464h1M1 463h1M13 463h2M18 463h1M33 463h1M43 463h1M47 463h2M13 462h1M33 462h2M48 462h1M53 462h3M13 461h1M19 461h1M52 461h1M54 461h1M8 460h1M17 460h1M20 459h1M34 459h2M56 459h1M1 458h1M18 458h1M48 458h1M50 458h1M52 458h1M48 457h3M52 457h1M35 456h1M47 456h1M8 455h1M48 455h2M55 455h1M34 454h1M51 454h1M56 454h1M14 453h1M20 453h1M43 453h1M52 453h1M54 453h1M1 452h1M14 452h1M35 452h1M50 452h1M1 451h1M13 451h2M19 451h1M34 451h1M1 450h1M56 450h1M34 448h1M54 448h1M56 448h1M49 447h2M13 446h2M16 446h1M35 446h1M43 446h1M13 445h1M15 445h2M20 445h1M34 445h2M43 445h1M48 445h2M51 445h1M17 444h1M48 444h1M51 444h1M17 443h1M56 443h1M13 442h1M19 442h1M50 442h1M52 442h1M17 440h2M48 440h2M55 440h1M1 439h1M51 439h2M55 439h1M33 438h1M49 438h1M56 438h1M34 437h2M48 437h1M20 436h1M33 436h1M35 436h1M56 436h1M1 435h1M33 435h1M35 435h1M43 435h1M48 435h1M50 435h1M15 434h1M43 434h1M53 434h1M19 433h1M47 432h1M49 432h1M51 432h1M55 432h1M1 431h1M16 431h1M50 431h1M56 431h1M1 430h1M13 430h1M51 430h1M1 429h1M14 429h1M19 429h1M43 429h1M1 428h1M17 428h1M19 428h2M33 428h2M1 427h1M19 427h1M33 427h1M1 426h1M33 426h1M43 425h1M54 423h1M16 421h1M18 421h2M35 421h1M49 421h1M53 421h1M19 420h1M34 420h1M50 420h1M52 420h1M8 419h1M14 419h1M18 419h1M43 419h1M47 419h1M50 419h1M53 419h2M56 419h1M1 418h1M8 418h1M13 417h1M18 417h1M52 417h1M55 417h1M13 416h3M49 416h1M33 415h1M52 415h1M56 415h1M18 414h1M33 414h1M43 414h1M49 414h1M54 414h1M8 413h1M43 413h1M49 413h1M1 412h1M34 412h1M46 412h1M52 412h1M16 411h1M43 411h1M51 411h1M20 410h1M34 410h1M43 410h1M10 409h1M21 409h1M48 409h1M50 409h1M53 409h1M2 408h3M13 408h2M32 408h1M36 408h1M35 407h1M38 407h1M49 407h2M1 406h1M18 406h1M47 406h1M6 405h1M15 405h2M32 405h1M34 405h1M46 405h2M52 405h1M10 404h3M14 404h1M17 404h1M19 404h1M26 404h1M46 404h1M4 403h1M6 403h1M8 403h1M13 403h1M18 403h1M21 403h2M31 403h2M47 403h1M49 403h1M2 402h1M4 402h1M6 402h1M12 402h1M15 402h1M1 401h2M6 401h1M32 401h1M54 401h1M16 400h1M22 400h1M25 400h1M36 400h2M47 400h1M53 400h2M2 399h1M7 399h1M21 399h1M31 399h1M37 399h1M49 399h1M54 399h1M8 398h1M17 398h1M26 398h1M34 398h1M47 398h1M19 397h1M48 397h1M55 397h1M18 396h1M45 396h1M52 396h1M17 395h1M33 395h1M18 394h1M33 394h3M50 394h1M8 393h1M15 393h1M19 393h1M51 393h1M53 393h1M56 393h1M17 392h1M20 392h1M33 392h1M35 392h1M47 392h1M52 392h1M55 392h2M8 391h1M15 391h1M20 391h1M35 391h1M47 391h2M54 391h1M35 390h1M48 390h1M55 390h2M17 389h2M20 389h1M43 389h1M51 389h1M55 389h1M8 388h1M20 388h1M50 388h1M19 387h1M17 386h1M43 386h1M47 386h1M52 386h1M54 386h1M8 385h1M14 385h2M19 385h1M20 384h1M43 384h1M55 384h1M13 383h1M35 383h1M55 383h2M16 382h1M33 382h1M49 382h1M18 381h1M35 381h1M51 381h1M19 380h1M52 380h1M17 379h1M8 378h1M17 378h2M43 378h1M47 378h1M54 378h1M56 378h1M18 377h1M35 377h1M44 376h1M1 375h1M21 375h1M35 375h3M45 375h1M48 375h1M53 375h1M4 374h1M11 374h3M15 374h2M45 374h1M48 374h1M56 374h1M1 373h2M4 373h1M9 373h1M22 373h1M45 373h1M48 373h1M54 373h1M56 373h1M2 372h1M14 372h1M46 372h1M54 372h1M3 371h1M30 371h3M45 371h1M50 371h1M16 370h1M19 370h1M26 370h1M30 370h1M47 370h1M54 370h1M56 370h1M0 369h1M14 369h2M22 369h1M26 369h1M30 369h1M43 369h1M7 368h1M18 368h1M50 368h1M2 367h1M5 367h2M22 367h5M36 367h1M55 367h1M14 366h1M22 366h2M37 366h1M45 366h1M51 366h3M56 366h1M0 365h1M3 365h1M6 365h2M19 365h1M26 365h2M33 365h1M35 365h1M45 365h1M51 365h1M55 365h1M0 364h1M9 364h3M21 364h2M38 364h1M46 364h1M6 363h1M8 363h2M14 363h1M20 363h3M26 363h1M33 363h2M42 363h2M55 363h1M0 362h1M4 362h1M10 362h1M12 362h1M14 362h1M22 362h1M50 362h1M54 362h3M11 361h1M18 361h1M28 361h1M37 361h2M40 361h1M44 361h2M47 361h1M4 360h3M9 360h2M20 360h1M55 360h1M7 359h1M9 359h3M15 359h1M33 359h2M43 359h1M3 358h1M5 358h2M15 358h1M25 358h1M34 358h1M37 358h1M44 358h3M56 358h1M1 357h1M16 357h2M21 357h2M25 357h2M49 357h1M14 356h1M22 356h1M25 356h1M37 356h1M46 356h1M53 356h1M15 355h5M21 355h1M25 355h1M38 355h1M55 355h1M5 354h1M10 354h2M25 354h1M27 354h1M34 354h1M38 354h1M41 354h1M49 354h1M53 354h1M55 354h1M6 353h1M32 353h2M42 353h1M50 353h1M0 352h1M6 352h1M14 352h2M20 352h1M23 352h1M35 352h1M37 352h1M45 352h1M47 352h1M51 352h3M19 351h1M25 351h1M30 351h3M35 351h1M51 351h1M18 350h1M48 350h1M52 350h1M7 349h1M18 349h1M20 349h1M34 349h1M43 349h2M0 348h1M8 348h1M14 348h1M35 348h1M56 348h1M8 347h1M18 347h1M46 347h1M49 347h1M55 347h2M13 346h1M16 346h1M31 346h2M35 346h1M38 346h1M48 346h1M54 346h3M7 345h1M11 345h1M16 345h1M21 345h3M38 345h1M46 345h1M52 345h3M7 344h2M18 344h1M23 344h1M45 344h1M47 344h1M50 344h1M52 344h1M7 343h1M13 343h1M20 343h3M24 343h1M35 343h1M43 343h2M21 342h1M23 342h2M53 341h1M55 341h1M6 340h2M9 340h2M13 340h2M19 340h1M22 340h5M49 340h1M12 339h1M16 339h1M19 339h1M43 339h2M48 339h2M0 338h1M7 338h1M12 338h1M22 338h1M32 338h1M35 338h2M38 338h1M44 338h1M51 338h2M54 338h1M56 338h1M4 337h2M13 337h1M26 337h1M29 337h1M34 337h1M38 337h1M49 337h1M21 336h1M24 336h1M37 336h4M50 336h1M55 336h2M2 335h1M13 335h1M15 335h1M18 335h1M21 335h2M33 335h2M36 335h1M48 335h1M51 335h3M15 334h1M32 334h1M43 334h2M46 334h1M0 333h1M8 333h1M18 333h1M21 333h5M35 333h1M40 333h2M52 333h1M4 332h1M11 332h1M13 332h1M43 332h1M54 332h1M4 331h2M7 331h1M9 331h1M12 331h1M45 331h1M54 331h1M56 331h1M8 330h2M15 330h1M17 330h1M19 330h1M36 330h1M39 330h1M49 330h1M0 329h1M2 329h1M5 329h2M9 329h1M18 329h1M0 328h1M6 328h1M17 328h1M43 328h1M48 328h2M54 328h1M2 327h1M26 327h1M41 327h2M5 326h1M14 326h2M17 326h1M23 326h1M45 326h1M51 326h2M4 325h1M8 325h1M15 325h1M18 325h3M33 325h2M36 325h1M52 325h2M4 324h1M10 324h1M12 324h1M15 324h1M27 324h1M31 324h4M38 324h2M42 324h1M53 324h1M55 324h1M0 323h1M5 323h1M16 323h1M20 323h1M25 323h1M29 323h1M31 323h1M33 323h1M46 323h1M56 323h1M0 322h1M4 322h1M9 322h1M14 322h1M24 322h1M36 322h1M49 322h1M53 322h1M4 321h1M6 321h1M22 321h2M27 321h1M32 321h1M52 321h1M2 320h1M8 320h1M15 320h1M37 320h1M39 320h1M51 320h1M8 319h1M18 319h1M25 319h1M33 319h1M39 319h2M52 319h1M1 318h1M7 318h1M19 318h1M32 318h2M35 318h1M39 318h4M46 318h1M50 318h1M52 318h1M4 317h1M12 317h3M23 317h1M27 317h1M29 317h1M34 317h2M38 317h1M53 317h1M0 316h1M21 316h1M23 316h1M26 316h1M28 316h3M38 316h2M49 316h2M56 316h1M1 315h2M4 315h1M15 315h1M24 315h1M31 315h1M46 315h1M0 314h1M2 314h1M11 314h2M19 314h1M24 314h3M30 314h1M44 314h3M50 314h1M56 314h1M0 313h3M12 313h1M20 313h2M24 313h1M37 313h1M15 312h2M21 312h1M23 312h1M36 312h1M47 312h1M56 312h1M4 311h1M11 311h1M20 311h1M36 311h1M42 311h2M45 311h1M49 311h1M0 310h1M3 310h2M11 310h2M14 310h1M41 310h1M50 310h2M55 310h1M3 309h1M17 309h1M32 309h1M36 309h1M46 309h1M54 309h2M1 308h1M9 308h2M18 308h2M24 308h2M2 307h3M35 307h1M40 307h1M49 307h3M3 306h1M8 306h1M32 306h2M51 306h1M56 306h1M18 305h1M20 305h1M24 305h1M32 305h1M34 305h1M47 305h1M7 304h1M13 304h1M20 304h1M34 304h1M39 304h1M44 304h1M46 304h1M53 304h2M1 303h1M3 303h2M7 303h1M13 303h2M18 303h1M23 303h2M45 303h1M48 303h1M11 302h1M16 302h1M23 302h1M30 302h1M36 302h2M50 302h1M53 302h1M56 302h1M14 301h1M16 301h2M22 301h3M28 301h3M39 301h1M41 301h2M45 301h1M48 301h1M54 301h2M0 300h1M13 300h2M18 300h1M31 300h1M38 300h2M41 300h2M47 300h1M55 300h1M5 299h1M10 299h2M24 299h1M44 299h3M52 299h2M55 299h2M0 298h1M22 298h1M24 298h1M27 298h1M34 298h2M43 298h1M50 298h1M52 298h2M6 297h1M15 297h1M48 297h2M1 296h1M4 296h1M7 296h1M17 296h1M25 296h1M3 295h1M7 295h1M12 295h1M18 295h1M24 295h1M28 295h2M31 295h1M54 295h1M11 294h1M27 294h1M35 294h1M42 294h1M45 294h1M48 294h1M51 294h2M54 294h1M31 293h1M33 293h1M1 292h1M8 292h1M10 292h1M47 292h2M52 292h1M4 291h1M9 291h1M27 291h3M31 291h1M44 291h1M49 291h1M53 291h1M3 290h1M8 290h1M22 290h1M48 290h1M56 290h1M12 289h1M23 289h1M52 289h1M7 288h1M15 288h1M18 288h2M54 288h1M9 287h1M21 287h1M36 287h1M52 287h2M8 286h2M14 286h1M48 286h1M1 285h1M3 285h1M16 285h4M35 285h1M40 285h1M42 285h1M9 284h2M24 284h1M44 284h1M46 284h1M49 284h1M53 284h1M56 284h1M18 283h1M24 283h1M29 283h1M43 283h1M46 283h1M2 282h1M5 282h1M9 282h1M11 282h1M30 282h1M42 282h1M48 282h1M53 282h1M18 281h1M20 281h1M29 281h1M32 281h1M56 281h1M3 280h2M28 280h1M55 280h1M3 279h1M13 279h1M20 279h1M32 279h2M49 279h1M54 279h1M5 278h4M11 278h3M17 278h1M26 278h1M29 278h1M40 278h1M52 278h1M10 277h1M23 277h1M25 277h1M29 277h2M41 277h2M46 277h1M6 276h2M14 276h2M23 276h1M27 276h1M34 276h2M39 276h1M43 276h1M50 276h1M0 275h1M5 275h2M9 275h1M16 275h2M42 275h1M6 274h1M25 274h1M27 274h1M33 274h1M38 274h1M0 273h1M8 273h1M10 273h1M19 273h1M27 273h1M31 273h1M35 273h1M39 273h1M45 273h1M48 273h1M51 273h1M56 273h1M8 272h1M11 272h1M27 272h1M34 272h1M48 272h1M56 272h1M8 271h1M40 271h1M49 271h1M7 270h2M11 270h1M25 270h1M38 270h1M56 270h1M1 269h2M8 269h1M15 269h2M36 269h1M40 269h1M46 269h1M56 269h1M8 268h1M12 268h1M14 268h1M18 268h4M27 268h1M29 268h2M32 268h2M4 267h2M11 267h1M20 267h1M41 267h1M52 267h1M2 266h1M11 266h1M16 266h1M19 266h1M24 266h1M38 266h1M53 266h1M1 265h1M11 265h3M22 265h1M38 265h2M46 265h1M50 265h1M7 264h1M9 264h1M11 264h1M18 264h1M32 264h2M39 264h1M43 264h1M46 264h1M49 264h2M12 263h1M41 263h1M43 263h1M53 263h1M56 263h1M0 262h1M2 262h1M12 262h1M15 262h1M22 262h1M33 262h2M41 262h2M44 262h5M55 262h1M19 261h1M28 261h1M32 261h1M37 261h1M43 261h1M53 261h2M2 260h1M6 260h1M8 260h4M13 260h2M17 260h1M21 260h1M27 260h1M34 260h1M44 260h1M48 260h1M50 260h2M0 259h1M3 259h2M12 259h1M14 259h1M25 259h1M32 259h1M56 259h1M6 258h1M9 258h1M12 258h1M15 258h1M21 258h3M45 258h1M54 258h1M12 257h1M23 257h1M25 257h1M32 257h2M35 257h1M50 257h1M52 257h1M1 256h1M16 256h1M21 256h1M35 256h1M43 256h1M48 256h1M52 256h1M7 255h2M13 255h1M15 255h1M23 255h1M29 255h1M32 255h1M48 255h1M56 255h1M6 254h1M8 254h1M13 254h1M18 254h2M25 254h1M30 254h2M4 253h2M8 253h1M17 253h1M33 253h1M7 252h1M19 252h3M28 252h1M31 252h2M4 251h2M12 251h1M18 251h1M23 251h1M28 251h1M31 251h2M43 251h1M51 251h1M53 251h2M4 250h1M12 250h1M18 250h1M30 250h2M48 250h3M56 250h1M0 249h2M9 249h1M29 249h1M41 249h1M47 249h1M52 249h1M54 249h1M16 248h1M18 248h1M28 248h1M33 248h1M35 248h3M47 248h2M52 248h1M2 247h1M4 247h1M10 247h1M23 247h1M25 247h2M31 247h2M36 247h1M44 247h1M46 247h1M50 247h1M1 246h2M31 246h2M37 246h1M43 246h1M47 246h1M53 246h2M2 245h1M7 245h1M10 245h1M14 245h4M31 245h1M48 245h1M51 245h1M15 244h1M55 244h1M8 243h1M12 243h2M17 243h1M20 243h1M29 243h1M41 243h1M43 243h1M46 243h1M48 243h1M50 243h1M53 243h1M7 242h1M15 242h1M20 242h1M26 242h1M28 242h3M49 242h1M51 242h1M54 242h1M3 241h1M15 241h1M20 241h1M25 241h1M28 241h1M37 241h1M48 241h1M51 241h1M53 241h1M28 240h1M30 240h2M34 240h1M46 240h1M1 239h1M7 239h1M13 239h1M16 239h4M23 239h1M26 239h1M28 239h1M35 239h1M48 239h1M50 239h1M1 238h1M12 238h2M16 238h2M29 238h1M46 238h1M50 238h1M53 238h1M2 237h4M36 237h1M46 237h1M48 237h2M3 236h2M8 236h2M11 236h1M20 236h1M27 236h1M37 236h1M43 236h1M45 236h1M48 236h1M51 236h1M54 236h1M1 235h1M3 235h1M8 235h1M18 235h1M21 235h1M27 235h1M40 235h1M10 234h1M43 234h1M46 234h1M50 234h1M0 233h1M9 233h1M12 233h1M23 233h1M25 233h1M53 233h1M10 232h1M13 232h1M16 232h2M22 232h1M38 232h1M41 232h1M56 232h1M6 231h1M12 231h1M24 231h1M43 231h1M47 231h1M53 231h1M0 230h1M8 230h1M14 230h1M20 230h2M37 230h2M49 230h1M56 230h1M7 229h1M45 229h1M50 229h1M7 228h1M12 228h4M45 228h1M18 227h1M20 227h3M28 227h1M43 227h1M55 227h2M24 226h1M26 226h1M36 226h1M38 226h1M47 226h1M10 225h1M26 225h3M45 225h1M56 225h1M2 224h1M7 224h2M11 224h1M15 224h1M19 224h2M36 224h1M41 224h1M46 224h2M53 224h1M1 223h1M10 223h1M14 223h1M27 223h1M35 223h1M47 223h1M50 223h1M7 222h3M13 222h1M21 222h2M29 222h1M36 222h2M45 222h1M47 222h2M18 221h2M36 221h1M41 221h3M48 221h1M55 221h1M10 220h1M13 220h1M18 220h1M33 220h1M35 220h1M48 220h2M8 219h1M12 219h1M19 219h2M31 219h1M41 219h1M43 219h1M48 219h1M52 219h1M11 218h2M25 218h1M27 218h1M33 218h1M48 218h1M50 218h1M54 218h1M15 217h1M25 217h1M34 217h1M55 217h1M4 216h1M9 216h1M12 216h2M18 216h2M23 216h2M33 216h1M37 216h1M44 216h2M50 216h1M53 216h1M3 215h1M22 215h1M34 215h1M36 215h1M41 215h1M43 215h2M47 215h1M50 215h1M5 214h2M8 214h1M15 214h1M19 214h1M24 214h1M27 214h1M36 214h1M50 214h1M0 213h1M3 213h1M19 213h1M31 213h2M34 213h1M39 213h2M54 213h1M3 212h1M5 212h1M10 212h1M15 212h1M19 212h1M32 212h1M47 212h2M4 211h1M11 211h1M21 211h1M27 211h1M38 211h2M45 211h1M53 211h1M5 210h3M14 210h1M22 210h3M30 210h1M1 209h1M4 209h1M9 209h1M15 209h2M36 209h1M40 209h1M42 209h2M47 209h1M55 209h1M2 208h1M10 208h1M15 208h1M28 208h1M47 208h1M52 208h2M10 207h1M13 207h1M36 207h1M39 207h1M50 207h1M53 207h2M4 206h1M7 206h2M11 206h1M1 205h2M9 205h1M11 205h1M21 205h1M25 205h1M39 205h1M44 205h1M52 205h1M55 205h1M5 204h1M13 204h2M18 204h1M21 204h1M23 204h1M34 204h1M43 204h2M7 203h1M11 203h1M15 203h1M23 203h1M25 203h2M28 203h2M36 203h1M48 203h1M50 203h1M54 203h1M13 202h1M17 202h1M19 202h1M27 202h1M46 202h1M48 202h1M50 202h1M0 201h2M9 201h1M26 201h1M31 201h1M34 201h1M40 201h1M45 201h2M5 200h1M7 200h1M9 200h3M13 200h2M16 200h1M20 200h1M35 200h1M39 200h2M45 200h1M0 199h1M7 199h1M10 199h1M12 199h1M20 199h1M37 199h1M40 199h1M42 199h1M50 199h2M6 198h1M11 198h1M17 198h2M27 198h1M53 198h2M8 197h1M15 197h1M27 197h1M37 197h1M43 197h1M48 197h1M50 197h3M0 196h1M11 196h2M16 196h1M23 196h1M28 196h1M31 196h2M44 196h1M46 196h1M53 196h1M0 195h1M5 195h1M13 195h2M16 195h1M22 195h2M34 195h1M43 195h1M2 194h2M16 194h2M23 194h2M28 194h1M41 194h1M53 194h1M20 193h1M30 193h2M33 193h1M38 193h2M43 193h1M50 193h1M3 192h1M16 192h1M29 192h2M37 192h1M45 192h1M48 192h1M52 192h1M14 191h1M18 191h4M24 191h1M33 191h1M37 191h1M45 191h1M55 191h1M5 190h2M11 190h1M18 190h1M20 190h1M28 190h1M37 190h1M49 190h5M9 189h1M19 189h1M21 189h2M9 188h1M19 188h1M43 188h1M49 188h2M55 188h1M10 187h1M12 187h1M40 187h1M42 187h1M45 187h1M47 187h2M0 186h2M3 186h1M6 186h1M11 186h1M29 186h1M52 186h1M1 185h1M7 185h1M10 185h1M47 185h1M53 185h1M13 184h1M19 184h1M23 184h1M27 184h1M32 184h2M44 184h1M46 184h1M52 184h1M18 183h2M21 183h1M24 183h1M26 183h1M31 183h1M33 183h1M35 183h1M37 183h1M47 183h1M2 182h1M5 182h1M7 182h1M13 182h1M18 182h1M23 182h1M25 182h1M27 182h1M29 182h2M32 182h1M55 182h1M2 181h1M4 181h1M11 181h1M24 181h1M44 181h1M49 181h1M16 180h1M20 180h1M25 180h1M39 180h1M50 180h2M54 180h1M21 179h1M23 179h1M25 179h1M29 179h1M42 179h1M49 179h1M52 179h1M10 178h1M15 178h1M17 178h1M25 178h1M30 178h1M33 178h3M47 178h1M53 178h2M3 177h1M5 177h1M27 177h1M51 177h1M9 176h2M13 176h2M22 176h1M25 176h1M29 176h1M52 176h2M4 175h1M6 175h1M9 175h1M12 175h2M23 175h1M27 175h1M29 175h1M31 175h1M43 175h1M6 174h3M10 174h1M13 174h1M42 174h1M47 174h1M9 173h1M18 173h2M32 173h1M48 173h1M50 173h1M52 173h1M55 173h1M7 172h1M9 172h1M12 172h1M27 172h1M37 172h1M8 171h2M12 171h1M41 171h1M44 171h2M10 170h2M24 170h1M31 170h1M39 170h1M46 170h1M50 170h1M6 169h1M41 169h1M55 169h1M3 168h1M13 168h1M36 168h3M20 167h1M23 167h1M34 167h1M39 167h1M44 167h1M50 167h2M6 166h1M9 166h1M12 166h4M31 166h2M34 166h1M36 166h1M50 166h1M52 166h1M16 165h1M19 165h1M21 165h1M23 165h1M26 165h1M30 165h3M38 165h2M46 165h1M49 165h1M54 165h1M56 165h1M7 164h1M22 164h2M25 164h1M32 164h1M51 164h2M1 163h1M10 163h1M24 163h2M27 163h1M38 163h1M50 163h1M52 163h2M0 162h1M22 162h1M29 162h1M35 162h2M40 162h1M44 162h2M0 161h1M7 161h1M14 161h2M24 161h1M35 161h1M38 161h2M46 161h2M10 160h2M14 160h1M20 160h1M29 160h1M42 160h1M46 160h1M49 160h1M51 160h1M10 159h1M20 159h2M28 159h1M34 159h1M53 159h3M4 158h1M6 158h1M8 158h1M13 158h1M21 158h1M24 158h2M37 158h1M40 158h1M46 158h1M51 158h1M0 157h1M20 157h3M30 157h1M34 157h1M36 157h1M54 157h2M6 156h1M9 156h1M15 156h1M21 156h1M23 156h1M29 156h2M37 156h1M43 156h1M46 156h1M52 156h1M0 155h1M2 155h1M4 155h1M13 155h1M15 155h1M29 155h1M34 155h1M40 155h1M42 155h2M47 155h2M51 155h2M56 155h1M16 154h1M20 154h1M32 154h1M35 154h1M38 154h1M41 154h1M45 154h1M50 154h1M54 154h1M0 153h2M4 153h2M9 153h3M13 153h1M18 153h3M22 153h2M31 153h2M47 153h1M0 152h3M4 152h1M8 152h1M17 152h1M38 152h1M53 152h1M55 152h2M0 151h2M4 151h1M9 151h1M12 151h1M20 151h1M36 151h1M48 151h2M56 151h1M10 150h1M22 150h1M35 150h3M45 150h1M47 150h1M52 150h1M56 150h1M3 149h1M5 149h1M7 149h1M16 149h1M22 149h1M31 149h1M35 149h3M39 149h1M41 149h1M44 149h1M51 149h2M0 148h1M7 148h1M10 148h1M28 148h1M31 148h1M47 148h1M50 148h1M52 148h1M0 147h1M5 147h1M17 147h1M32 147h1M34 147h3M39 147h1M41 147h1M47 147h1M52 147h1M8 146h2M19 146h1M38 146h1M41 146h1M52 146h1M54 146h1M56 146h1M1 145h1M15 145h1M24 145h2M36 145h1M42 145h2M51 145h1M55 145h1M0 144h1M2 144h1M11 144h1M15 144h1M32 144h1M35 144h1M37 144h1M42 144h1M44 144h2M50 144h1M54 144h1M9 143h2M14 143h2M21 143h1M23 143h2M34 143h1M38 143h1M50 143h1M2 142h1M11 142h1M15 142h1M51 142h1M3 141h1M5 141h1M20 141h1M23 141h1M26 141h1M33 141h2M55 141h1M5 140h1M13 140h1M19 140h1M26 140h1M32 140h1M37 140h1M41 140h1M3 139h1M17 139h1M36 139h1M40 139h1M9 138h1M11 138h1M13 138h1M19 138h2M22 138h1M24 138h1M29 138h1M35 138h1M39 138h1M42 138h1M44 138h1M47 138h2M54 138h1M1 137h1M9 137h1M14 137h1M23 137h1M26 137h1M42 137h3M47 137h1M50 137h3M56 137h1M7 136h1M13 136h1M19 136h1M24 136h1M28 136h2M33 136h1M35 136h1M9 135h1M15 135h1M31 135h2M45 135h3M50 135h1M10 134h1M12 134h2M23 134h1M33 134h1M35 134h2M47 134h1M56 134h1M5 133h1M11 133h2M24 133h1M30 133h1M33 133h1M46 133h1M54 133h1M9 132h1M12 132h1M20 132h4M31 132h1M41 132h1M47 132h1M51 132h1M53 132h2M56 132h1M1 131h1M5 131h1M7 131h2M22 131h1M33 131h1M41 131h1M46 131h1M1 130h2M15 130h1M41 130h1M45 130h1M50 130h1M4 129h1M8 129h1M47 129h1M10 128h1M28 128h1M32 128h1M35 128h1M38 128h1M52 128h1M22 127h1M37 127h1M42 127h1M46 127h1M49 127h1M53 127h1M0 126h2M8 126h1M26 126h2M31 126h1M35 126h1M38 126h1M43 126h1M50 126h1M0 125h1M3 125h1M11 125h1M29 125h1M32 125h1M38 125h1M1 124h1M13 124h1M28 124h1M38 124h1M45 124h1M51 124h2M3 123h2M14 123h2M22 123h2M25 123h1M37 123h3M43 123h1M4 122h1M6 122h1M13 122h1M15 122h1M19 122h1M23 122h4M34 122h1M47 122h1M50 122h1M56 122h1M18 121h1M20 121h2M24 121h1M28 121h1M32 121h1M35 121h1M40 121h2M47 121h1M53 121h3M4 120h1M11 120h1M13 120h2M18 120h4M24 120h1M41 120h3M50 120h1M56 120h1M9 119h1M16 119h2M23 119h2M29 119h1M31 119h1M34 119h1M36 119h1M39 119h1M3 118h1M5 118h1M11 118h1M13 118h1M22 118h1M24 118h3M28 118h1M32 118h2M41 118h1M43 118h1M46 118h1M56 118h1M0 117h1M16 117h1M27 117h2M30 117h1M35 117h2M43 117h1M52 117h1M32 116h1M40 116h1M42 116h1M53 116h1M4 115h2M7 115h1M12 115h2M17 115h1M19 115h1M27 115h3M32 115h1M35 115h1M39 115h1M52 115h1M56 115h1M1 114h1M39 114h1M44 114h1M48 114h2M1 113h1M18 113h1M25 113h1M28 113h1M39 113h2M48 113h1M55 113h1M2 112h1M8 112h2M25 112h1M28 112h2M32 112h1M41 112h1M53 112h1M4 111h1M8 111h1M17 111h2M23 111h1M26 111h1M30 111h1M32 111h1M49 111h1M52 111h1M54 111h1M3 110h1M8 110h1M11 110h1M14 110h1M20 110h1M23 110h1M46 110h1M50 110h1M52 110h1M11 109h1M13 109h1M18 109h1M27 109h1M30 109h2M34 109h1M56 109h1M4 108h1M9 108h1M26 108h1M34 108h1M37 108h1M48 108h1M1 107h1M3 107h1M6 107h3M10 107h2M14 107h1M27 107h1M33 107h1M39 107h1M44 107h1M47 107h1M50 107h3M0 106h1M4 106h1M6 106h3M10 106h1M16 106h1M19 106h1M24 106h1M31 106h1M49 106h1M52 106h1M56 106h1M0 105h1M3 105h1M8 105h1M19 105h1M32 105h1M42 105h1M45 105h1M48 105h1M53 105h1M4 104h1M9 104h1M20 104h1M26 104h1M37 104h1M44 104h1M16 103h1M27 103h1M31 103h2M35 103h2M38 103h1M40 103h1M45 103h1M52 103h1M56 103h1M3 102h1M13 102h1M16 102h1M19 102h1M24 102h1M26 102h1M39 102h3M0 101h1M2 101h2M5 101h1M7 101h1M10 101h1M12 101h1M33 101h1M36 101h2M42 101h1M56 101h1M7 100h1M15 100h1M19 100h3M27 100h2M32 100h1M35 100h1M45 100h1M1 99h2M11 99h1M13 99h1M27 99h1M31 99h1M35 99h1M41 99h1M54 99h2M0 98h1M2 98h1M34 98h1M38 98h1M40 98h1M44 98h1M47 98h1M26 97h1M31 97h2M35 97h1M43 97h1M45 97h1M50 97h1M2 96h1M8 96h3M13 96h1M23 96h1M38 96h1M41 96h1M49 96h1M5 95h1M12 95h2M17 95h1M23 95h1M31 95h1M45 95h1M54 95h1M56 95h1M6 94h1M9 94h1M13 94h1M20 94h1M30 94h1M37 94h1M49 94h1M3 93h1M5 93h2M9 93h1M22 93h1M26 93h1M31 93h1M46 93h1M49 93h1M56 93h1M3 92h1M8 92h1M21 92h2M25 92h1M27 92h1M42 92h1M48 92h1M52 92h2M4 91h1M8 91h1M10 91h1M12 91h1M15 91h1M17 91h1M21 91h1M28 91h1M30 91h2M39 91h1M42 91h1M56 91h1M4 90h1M7 90h1M9 90h1M11 90h1M32 90h1M35 90h1M48 90h1M52 90h1M56 90h1M11 89h1M14 89h1M16 89h3M28 89h1M35 89h3M42 89h1M44 89h1M47 89h1M52 89h2M6 88h2M12 88h2M36 88h1M45 88h1M49 88h2M4 87h1M11 87h1M14 87h1M31 87h1M34 87h1M40 87h2M46 87h1M1 86h1M3 86h1M12 86h1M14 86h1M18 86h1M29 86h1M31 86h1M37 86h1M1 85h1M5 85h1M12 85h1M15 85h1M17 85h1M24 85h1M30 85h1M37 85h1M44 85h1M49 85h1M55 85h1M8 84h1M11 84h1M17 84h1M25 84h1M56 84h1M7 83h1M16 83h1M19 83h2M31 83h1M36 83h1M41 83h1M44 83h1M49 83h2M15 82h1M17 82h1M19 82h1M21 82h1M28 82h1M38 82h1M49 82h2M54 82h1M13 81h1M31 81h1M35 81h1M42 81h1M44 81h1M46 81h1M50 81h1M1 80h1M9 80h1M13 80h2M27 80h2M38 80h1M48 80h1M51 80h1M1 79h1M10 79h1M17 79h1M22 79h1M29 79h2M33 79h2M49 79h1M51 79h1M56 79h1M2 78h2M14 78h2M18 78h1M26 78h2M29 78h2M42 78h1M52 78h1M0 77h1M10 77h2M30 77h1M41 77h1M44 77h2M49 77h1M53 77h2M3 76h1M9 76h1M11 76h1M15 76h1M25 76h2M31 76h1M37 76h2M42 76h1M0 75h3M10 75h1M16 75h1M18 75h1M43 75h1M49 75h1M56 75h1M1 74h1M8 74h1M10 74h1M17 74h1M31 74h1M34 74h1M41 74h1M52 74h1M56 74h1M1 73h2M9 73h1M14 73h1M18 73h1M22 73h1M34 73h1M36 73h1M43 73h1M46 73h2M53 73h2M2 72h1M5 72h2M11 72h1M30 72h1M40 72h1M45 72h1M48 72h1M0 71h1M7 71h1M14 71h2M25 71h1M27 71h1M41 71h1M45 71h1M49 71h1M51 71h1M53 71h1M1 70h1M6 70h2M18 70h1M21 70h2M24 70h3M29 70h1M32 70h1M39 70h1M42 70h1M55 70h1M15 69h1M33 69h1M35 69h1M39 69h2M46 69h1M53 69h1M56 69h1M6 68h1M9 68h2M17 68h1M19 68h1M22 68h3M26 68h1M29 68h1M34 68h1M36 68h1M48 68h3M52 68h1M12 67h1M24 67h1M27 67h1M39 67h1M45 67h1M48 67h2M51 67h1M54 67h3M3 66h1M20 66h1M22 66h2M27 66h2M34 66h2M41 66h1M44 66h4M49 66h2M7 65h1M24 65h1M26 65h1M46 65h1M53 65h2M2 64h3M9 64h2M14 64h1M20 64h1M22 64h1M25 64h1M28 64h1M38 64h1M41 64h3M49 64h1M10 63h1M14 63h1M16 63h1M23 63h2M32 63h2M38 63h1M42 63h1M48 63h1M54 63h1M1 62h2M10 62h1M14 62h1M22 62h1M28 62h1M32 62h2M42 62h2M47 62h2M56 62h1M0 61h2M10 61h1M17 61h1M24 61h2M27 61h3M31 61h1M35 61h1M40 61h1M44 61h1M47 61h1M51 61h2M5 60h1M14 60h1M18 60h1M24 60h1M27 60h1M31 60h3M45 60h1M5 59h1M25 59h2M41 59h1M44 59h3M2 58h1M10 58h1M12 58h1M23 58h1M26 58h1M28 58h1M35 58h1M0 57h1M11 57h2M20 57h1M27 57h1M32 57h1M37 57h1M49 57h1M55 57h1M1 56h1M4 56h1M7 56h2M24 56h1M26 56h1M43 56h1M49 56h1M4 55h1M12 55h1M33 55h1M39 55h1M45 55h1M51 55h1M2 54h2M13 54h1M21 54h1M23 54h1M27 54h2M32 54h1M38 54h1M44 54h1M47 54h1M50 54h1M14 53h1M26 53h2M33 53h1M36 53h1M46 53h1M3 52h1M13 52h2M17 52h1M21 52h1M36 52h1M40 52h1M45 52h2M53 52h1M4 51h1M10 51h1M13 51h1M20 51h2M30 51h1M41 51h1M46 51h4M51 51h1M54 51h1M12 50h1M16 50h1M22 50h1M25 50h1M36 50h4M53 50h1M56 50h1M1 49h3M9 49h2M14 49h1M29 49h1M33 49h4M43 49h1M45 49h1M54 49h1M1 48h1M3 48h2M8 48h1M11 48h1M16 48h1M29 48h1M32 48h2M35 48h1M47 48h1M51 48h1M1 47h1M16 47h1M19 47h2M27 47h1M33 47h1M36 47h1M47 47h1M49 47h1M54 47h1M0 46h2M6 46h1M20 46h1M32 46h3M36 46h1M56 46h1M10 45h1M14 45h1M20 45h1M22 45h1M24 45h1M49 45h1M4 44h1M7 44h2M18 44h1M28 44h1M30 44h1M38 44h1M42 44h1M51 44h1M6 43h1M8 43h1M11 43h1M14 43h1M17 43h1M19 43h1M25 43h2M28 43h1M31 43h2M34 43h2M38 43h2M43 43h1M4 42h1M7 42h1M20 42h1M23 42h1M28 42h1M39 42h1M41 42h1M43 42h1M51 42h2M8 41h1M14 41h1M17 41h2M32 41h1M54 41h1M56 41h1M2 40h1M13 40h1M17 40h1M30 40h1M43 40h1M46 40h1M53 40h1M2 39h1M6 39h1M10 39h2M14 39h1M22 39h2M33 39h1M45 39h1M53 39h2M3 38h1M13 38h1M29 38h1M44 38h3M49 38h1M54 38h1M56 38h1M30 37h1M33 37h1M35 37h1M40 37h1M44 37h1M56 37h1M3 36h2M7 36h1M12 36h1M33 36h1M41 36h1M46 36h1M49 36h1M0 35h1M3 35h1M17 35h1M19 35h1M45 35h1M53 35h1M0 34h1M8 34h1M12 34h2M19 34h1M22 34h1M25 34h1M45 34h1M48 34h1M55 34h1M9 33h1M12 33h1M15 33h1M22 33h1M39 33h1M42 33h1M46 33h1M48 33h1M6 32h2M23 32h1M25 32h1M43 32h1M4 31h2M9 31h1M13 31h1M16 31h1M21 31h1M26 31h1M31 31h1M35 31h1M40 31h1M44 31h1M51 31h1M1 30h1M4 30h2M9 30h1M13 30h1M16 30h1M19 30h1M22 30h1M28 30h1M32 30h1M48 30h1M53 30h1M1 29h1M3 29h1M6 29h2M22 29h1M37 29h1M4 28h1M6 28h2M16 28h1M22 28h1M39 28h1M42 28h1M46 28h1M52 28h2M0 27h1M2 27h1M4 27h1M7 27h1M42 27h2M48 27h1M51 27h1M7 26h1M11 26h1M27 26h1M41 26h1M47 26h2M50 26h1M27 25h2M37 25h1M40 25h1M43 25h2M55 25h1M2 24h1M5 24h1M7 24h1M29 24h1M40 24h1M42 24h1M46 24h1M54 24h2M4 23h2M27 23h1M0 22h1M7 22h1M9 22h2M13 22h1M16 22h2M21 22h2M42 22h1M45 22h1M49 22h1M56 22h1M1 21h1M7 21h2M11 21h1M15 21h2M33 21h1M52 21h1M8 20h1M12 20h1M43 20h1M53 20h1M5 19h2M21 19h1M26 19h1M33 19h1M43 19h1M6 18h1M8 18h1M11 18h1M28 18h1M30 18h1M35 18h1M48 18h1M13 17h1M21 17h1M29 17h1M32 17h1M43 17h1M46 17h1M3 16h1M5 16h1M7 16h2M12 16h1M17 16h1M30 16h1M33 16h2M46 16h1M54 16h2M16 15h1M22 15h1M28 15h1M37 15h1M41 15h1M50 15h2M56 15h1M13 14h1M15 14h1M18 14h1M21 14h1M36 14h1M41 14h1M43 14h1M2 13h1M24 13h3M32 13h1M35 13h1M38 13h2M51 13h1M56 13h1M0 12h1M7 12h1M12 12h1M15 12h1M18 12h1M31 12h1M35 12h1M39 12h1M45 12h1M47 12h1M53 12h2M0 11h1M19 11h2M25 11h1M27 11h1M32 11h1M34 11h1M51 11h1M3 10h1M7 10h1M9 10h5M20 10h1M22 10h2M34 10h1M44 10h2M1 9h1M4 9h1M26 9h1M40 9h1M42 9h1M44 9h1M49 9h1M56 9h1M22 8h1M25 8h2M31 8h1M42 8h1M4 7h2M8 7h1M17 7h2M28 7h1M36 7h1M40 7h1M48 7h2M0 6h1M8 6h1M12 6h1M15 6h1M18 6h1M21 6h1M24 6h1M29 6h1M40 6h1M49 6h1M53 6h1M55 6h2M6 5h1M14 5h2M35 5h3M39 5h2M44 5h1M13 4h2M48 4h2M2 3h2M12 3h1M14 3h1M20 3h1M23 3h1M26 3h1M36 3h1M39 3h1M45 3h1M47 3h1M5 2h1M7 2h1M10 2h2M25 2h1M45 2h1M6 1h1M8 1h1M22 1h2M28 1h1M32 1h1M37 1h2M45 1h1M55 1h1M0 0h1M4 0h1M8 0h1M13 0h1M35 0h1M46 0h2"/>
<path stroke="#0000e8" d="M13 489h1M19 487h1M49 486h1M53 486h1M50 485h1M55 485h1M8 484h1M13 484h1M18 484h1M51 484h1M35 483h1M19 482h1M49 482h1M52 482h1M8 481h1M35 481h1M47 481h1M52 480h1M55 480h1M8 479h1M46 479h1M48 479h1M54 479h1M55 478h2M15 477h1M46 477h1M54 477h2M4 476h1M8 476h1M18 476h1M43 476h1M49 476h1M16 475h1M53 475h2M55 474h1M18 473h1M34 473h1M50 473h1M19 472h1M49 472h1M53 472h1M1 471h1M17 471h1M47 470h1M48 469h1M54 469h1M45 468h1M52 468h1M13 467h1M56 467h1M1 466h1M51 466h1M1 465h1M15 465h1M19 465h1M45 465h1M48 465h1M50 465h1M33 464h2M51 464h1M54 464h1M44 463h1M52 463h1M19 462h1M46 462h1M50 462h1M34 461h1M46 461h1M48 461h1M50 461h1M56 461h1M1 460h1M47 460h2M54 460h3M8 459h1M16 459h1M46 458h1M49 458h1M55 458h1M13 457h1M51 457h1M53 457h1M8 456h1M13 456h1M16 456h1M49 456h1M1 455h1M15 455h1M51 455h1M13 454h2M17 454h1M16 453h1M34 453h2M47 453h1M50 453h1M8 452h1M20 451h1M43 451h1M13 450h1M35 450h1M52 450h1M1 449h1M56 449h1M19 448h1M35 448h1M48 448h2M33 447h1M51 447h1M1 446h1M15 446h1M18 446h1M51 446h1M54 446h1M47 445h1M13 444h2M18 444h1M20 444h1M33 444h1M50 444h1M1 443h1M8 443h1M15 443h2M20 443h1M33 443h1M52 443h1M17 442h2M34 442h1M47 442h2M0 441h2M14 441h1M19 441h1M48 441h1M54 441h1M14 440h1M26 440h1M43 440h1M51 440h1M2 439h1M13 439h1M17 439h1M34 439h1M50 439h1M53 439h1M0 438h1M34 438h1M43 438h2M46 438h1M13 437h1M15 437h1M20 437h1M33 437h1M43 437h1M54 437h1M34 436h1M52 436h1M54 436h1M52 435h1M55 435h1M17 434h1M20 434h1M49 434h1M48 433h1M16 432h1M34 432h1M0 431h1M3 431h1M8 431h1M15 431h1M18 431h1M49 431h1M51 431h1M53 431h1M55 431h1M35 430h1M43 430h1M46 430h1M49 430h1M56 430h1M0 428h1M18 428h1M47 428h1M16 427h1M20 427h1M34 427h2M51 426h1M55 426h1M20 425h1M51 425h1M1 424h1M1 423h1M49 423h3M53 423h1M53 422h1M56 422h1M56 421h1M14 420h1M16 420h1M53 420h3M44 419h1M51 419h1M0 418h1M26 418h1M55 418h2M48 417h1M54 417h1M46 416h1M35 415h1M49 415h1M55 415h1M51 414h1M56 414h1M13 413h2M19 413h1M35 413h1M26 412h1M43 412h1M26 411h1M46 411h1M49 411h1M53 411h1M56 411h1M1 410h1M8 410h3M12 410h1M19 410h1M21 410h1M31 410h1M38 410h2M41 410h2M53 410h1M1 409h1M24 409h2M31 409h1M33 409h2M36 409h1M40 409h1M46 409h1M5 408h1M16 408h2M19 408h1M31 408h1M50 408h1M10 407h1M12 407h1M28 407h1M33 407h1M39 407h1M47 407h2M54 407h1M6 406h1M13 406h1M17 406h1M29 406h1M50 406h1M52 406h2M55 406h1M14 405h1M21 405h2M31 405h1M33 405h1M41 405h2M51 405h1M53 405h1M4 404h1M6 404h1M44 404h1M55 404h1M2 403h1M5 403h1M10 403h1M14 403h3M28 403h1M33 403h2M52 403h1M3 402h1M5 402h1M7 402h1M10 402h2M32 402h1M41 402h1M17 401h1M9 400h1M51 400h2M55 400h1M0 399h2M3 399h1M6 399h1M15 399h1M17 399h1M36 399h1M38 399h1M48 399h1M51 399h1M7 398h1M50 398h1M8 397h1M12 397h1M18 397h1M24 397h3M32 397h2M35 397h1M41 397h3M19 396h2M30 396h3M34 396h1M46 396h1M48 396h1M21 395h2M24 395h1M43 395h1M2 394h1M13 394h1M19 394h1M21 394h1M24 394h1M44 394h2M54 394h1M56 394h1M16 393h1M18 393h1M44 393h3M54 393h2M0 392h6M7 392h1M9 392h1M31 392h2M43 392h3M49 392h1M54 392h1M0 391h2M4 391h1M34 391h1M38 391h1M44 391h2M52 391h1M0 390h1M18 390h1M26 390h1M34 390h1M47 390h1M49 390h3M53 390h1M2 389h1M8 389h1M33 389h1M50 389h1M53 389h1M4 388h1M10 388h1M43 387h1M56 387h1M14 386h1M16 386h1M18 386h2M26 386h1M48 386h1M3 385h1M13 385h1M26 385h1M46 385h1M48 385h1M1 384h4M34 384h1M44 384h1M48 384h2M14 383h1M17 383h1M20 383h1M31 383h1M50 383h4M14 382h1M34 382h1M37 382h1M44 382h2M13 381h1M17 381h1M23 381h2M34 381h1M36 381h2M44 381h1M47 381h1M55 381h1M13 380h1M15 380h2M55 380h1M13 379h1M15 379h1M20 379h1M33 379h2M47 379h3M9 378h3M13 378h3M20 378h1M32 378h1M44 378h2M1 377h1M10 377h2M14 377h1M17 377h1M21 377h2M45 377h1M50 377h1M5 376h1M9 376h1M11 376h1M33 376h1M36 376h1M38 376h2M45 376h1M50 376h2M8 375h1M10 375h1M38 375h1M1 374h1M7 374h2M17 374h1M21 374h2M28 374h2M42 374h2M49 374h1M3 373h1M5 373h1M7 373h1M13 373h1M46 373h1M11 372h2M15 372h1M27 372h1M45 372h1M48 372h1M53 372h1M56 372h1M12 371h1M14 371h1M29 371h1M36 371h1M47 371h1M54 371h1M13 370h1M32 370h1M41 370h2M53 370h1M2 369h1M13 369h1M31 369h1M42 369h1M50 369h1M1 368h1M14 368h1M29 368h1M48 368h1M3 367h2M7 367h1M20 367h2M37 367h1M43 367h1M8 366h1M21 366h1M29 366h1M36 366h1M38 366h3M42 366h1M46 366h1M2 365h1M14 365h1M18 365h1M43 365h1M46 365h1M54 365h1M5 364h1M7 364h1M16 364h1M37 364h1M42 364h1M44 364h1M51 364h1M2 363h1M10 363h1M13 363h1M17 363h1M19 363h1M27 363h1M50 363h1M5 362h4M11 362h1M27 362h1M44 362h1M4 361h1M10 361h1M17 361h1M22 361h1M36 361h1M43 361h1M7 360h1M38 360h4M47 360h1M50 360h1M8 359h1M35 359h1M38 359h1M9 358h1M13 358h1M16 358h1M19 358h1M21 358h1M33 358h1M35 358h2M40 358h1M47 358h1M49 358h1M3 357h3M28 357h2M34 357h1M46 357h1M52 357h1M13 356h1M39 356h1M8 355h1M31 355h1M33 355h1M37 355h1M39 355h1M41 355h1M53 355h1M4 354h1M6 354h1M8 354h2M14 354h1M16 354h2M26 354h1M33 354h1M39 354h2M13 353h2M20 353h1M26 353h1M36 353h3M41 353h1M49 353h1M1 352h2M7 352h1M12 352h1M16 352h1M22 352h1M24 352h1M32 352h3M36 352h1M42 352h1M49 352h1M6 351h1M8 351h1M11 351h1M14 351h1M17 351h1M50 351h1M56 351h1M13 350h1M22 350h2M46 350h1M6 349h1M9 349h1M27 349h2M33 349h1M41 349h1M48 349h1M54 349h2M3 348h1M7 348h1M16 348h1M20 348h1M37 348h1M48 348h1M51 348h1M0 347h1M16 347h1M24 347h2M29 347h3M34 347h1M36 347h3M45 347h1M50 347h1M53 347h1M8 346h1M12 346h1M25 346h1M37 346h1M39 346h3M47 346h1M49 346h1M51 346h1M6 345h1M8 345h1M10 345h1M12 345h1M17 345h1M20 345h1M28 345h1M41 345h1M45 345h1M55 345h2M9 344h1M15 344h1M22 344h1M33 344h1M8 343h3M14 343h1M18 343h1M23 343h1M6 342h1M14 342h4M34 342h1M39 342h2M16 341h3M39 341h5M47 341h1M5 340h1M16 340h1M27 340h1M40 340h2M43 340h1M54 340h1M4 339h1M20 339h1M22 339h2M26 339h1M30 339h1M50 339h1M9 338h1M23 338h1M37 338h1M40 338h1M6 337h1M15 337h2M31 337h1M39 337h1M44 337h1M47 337h1M50 337h1M55 337h1M16 336h2M28 336h2M41 336h1M44 336h1M49 336h1M53 336h1M16 335h1M20 335h1M31 335h1M47 335h1M1 334h1M7 334h1M13 334h1M34 334h1M55 334h1M1 333h1M4 333h1M11 333h1M30 333h1M37 333h1M50 333h2M56 333h1M6 332h2M21 332h1M42 332h1M2 331h1M10 331h1M16 331h1M25 331h1M33 331h2M40 331h2M46 331h1M3 330h1M11 330h2M16 330h1M23 330h1M25 330h1M37 330h1M43 330h1M51 330h1M16 329h1M19 329h2M25 329h1M38 329h1M44 329h1M56 329h1M8 328h2M15 328h1M19 328h1M23 328h2M44 328h1M52 328h1M9 327h1M17 327h1M30 327h1M32 327h1M39 327h2M49 327h1M2 326h1M22 326h1M26 326h1M46 326h1M48 326h1M12 325h1M17 325h1M21 325h1M32 325h1M1 324h1M19 324h1M25 324h1M28 324h1M37 324h1M45 324h1M3 323h1M7 323h1M28 323h1M13 322h1M25 322h1M28 322h1M40 322h1M43 322h1M45 322h1M50 322h1M11 321h1M17 321h1M33 321h1M38 321h2M41 321h1M17 320h1M19 320h1M22 320h1M32 320h1M36 320h1M40 320h1M13 319h1M20 319h1M38 319h1M46 319h1M3 318h1M16 318h1M20 318h1M34 318h1M49 318h1M11 317h1M43 317h1M52 317h1M8 316h1M12 316h1M47 316h2M6 315h2M32 315h1M36 315h2M52 315h1M37 314h1M43 314h1M51 314h2M11 313h1M13 313h1M16 313h1M34 313h1M46 313h2M0 312h4M6 312h1M10 312h2M24 312h1M53 312h2M10 311h1M31 311h1M37 311h1M41 311h1M10 310h1M13 310h1M17 310h2M32 310h2M47 310h1M2 309h1M19 309h1M31 309h1M44 309h1M49 309h1M2 308h1M6 308h1M11 308h1M23 308h1M31 308h4M37 308h2M41 308h2M54 308h2M24 307h1M32 307h1M34 307h1M36 307h1M39 307h1M42 307h1M52 307h1M56 307h1M2 306h1M4 306h1M10 306h1M14 306h1M16 306h1M19 306h1M31 306h1M45 306h1M50 306h1M5 305h1M8 304h1M21 304h1M33 304h1M35 304h2M45 304h1M56 304h1M5 303h1M8 303h1M25 303h1M27 303h1M34 303h1M39 303h1M44 303h1M0 302h1M3 302h2M9 302h1M12 302h1M15 302h1M26 302h2M29 302h1M34 302h2M51 302h2M12 301h1M31 301h2M36 301h2M40 301h1M7 300h1M16 300h2M19 300h1M24 300h1M28 300h1M30 300h1M33 300h1M43 300h1M48 300h1M51 300h1M3 299h1M25 299h1M28 299h1M1 298h2M4 298h1M15 298h3M23 298h1M33 298h1M37 298h1M42 298h1M44 298h1M46 298h2M51 298h1M54 298h3M4 297h2M8 297h1M27 297h1M53 297h1M55 297h1M11 296h2M16 296h1M21 296h1M39 296h1M42 296h1M56 296h1M4 295h1M8 295h1M11 295h1M14 295h1M22 295h1M35 295h1M46 295h1M50 295h1M52 295h2M0 294h1M15 294h3M24 294h2M31 294h1M39 294h1M10 293h1M13 293h2M27 293h1M44 293h1M7 292h1M15 292h2M19 292h1M42 292h1M46 292h1M1 291h1M30 291h1M35 291h1M4 290h1M35 290h1M43 290h2M3 289h1M8 289h1M20 289h1M22 289h1M11 288h1M13 288h1M38 288h1M5 287h1M13 287h2M16 287h2M22 287h1M28 287h1M44 287h1M47 287h3M54 287h3M25 286h1M35 286h1M49 286h1M0 285h1M2 285h1M48 285h1M4 284h1M19 284h1M26 284h2M30 284h1M47 284h2M4 283h1M10 283h1M28 283h1M44 283h1M1 282h1M8 282h1M12 282h1M29 282h1M37 282h2M41 282h1M3 281h1M12 281h1M31 281h1M52 281h1M55 281h1M9 280h1M12 280h1M19 280h3M24 280h2M30 280h1M6 279h1M10 279h1M15 279h1M38 279h1M56 279h1M3 278h1M27 278h1M34 278h1M43 278h1M50 278h2M9 277h1M11 277h1M22 277h1M28 277h1M35 277h1M37 277h1M45 277h1M50 277h1M54 277h1M0 276h1M4 276h1M8 276h1M22 276h1M33 276h1M37 276h1M46 276h1M56 276h1M10 275h1M18 275h1M21 275h1M39 275h1M41 275h1M56 275h1M8 274h1M13 274h1M39 274h2M44 274h1M56 274h1M3 273h1M6 273h2M14 273h2M22 273h1M49 273h2M3 272h1M12 272h1M15 272h1M18 272h1M5 271h1M17 271h1M32 271h1M42 271h1M6 270h1M9 270h1M17 270h1M20 270h1M47 270h1M11 269h3M20 269h1M23 269h2M27 269h1M43 269h1M1 268h1M16 268h1M36 268h3M44 268h1M8 267h1M10 267h1M16 267h1M43 267h1M46 267h1M48 267h1M51 267h1M0 266h1M12 266h1M17 266h2M33 266h1M48 266h1M55 266h1M3 265h1M10 265h1M14 265h1M17 265h2M20 265h1M23 265h1M25 265h1M33 265h3M37 265h1M41 265h1M3 264h1M12 264h1M21 264h1M34 264h1M53 264h1M1 263h4M16 263h1M18 263h2M33 263h1M38 263h3M45 263h1M20 262h2M35 262h1M43 262h1M10 261h1M20 261h1M24 261h2M36 261h1M40 261h1M44 261h1M12 260h1M18 260h1M26 260h1M33 260h1M38 260h3M45 260h2M49 260h1M13 259h1M26 259h1M34 259h1M42 259h1M44 259h1M47 259h1M50 259h2M7 258h1M11 258h1M47 258h1M49 258h1M4 257h1M16 257h1M18 257h2M28 257h1M34 257h1M42 257h1M53 257h1M2 256h1M5 256h1M14 256h1M29 256h1M31 256h2M34 256h1M47 256h1M53 256h1M2 255h1M12 255h1M24 255h1M33 255h2M5 254h1M7 254h1M15 254h2M21 254h3M33 254h1M35 254h1M2 253h2M15 253h1M21 253h2M25 253h2M32 253h1M46 253h1M3 252h1M6 252h1M11 252h2M29 252h1M35 252h1M56 252h1M6 251h1M11 251h1M21 251h1M29 251h1M42 251h1M47 251h1M52 251h1M2 250h1M17 250h1M19 250h1M23 250h1M34 250h1M38 250h1M45 250h2M51 250h1M5 249h1M24 249h1M30 249h1M35 249h1M46 249h1M48 249h3M17 248h1M24 247h1M38 247h1M42 247h1M47 247h1M51 247h2M4 246h1M15 246h1M20 246h1M36 246h1M52 246h1M4 245h1M11 245h1M19 245h1M6 244h2M11 244h1M13 244h1M36 244h1M51 244h1M23 243h1M38 243h1M44 243h1M49 243h1M54 243h1M3 242h1M8 242h1M16 242h1M27 242h1M43 242h1M48 242h1M2 241h1M7 241h1M30 241h1M32 241h1M42 241h1M45 241h1M24 240h1M26 240h1M32 240h1M37 240h1M42 240h1M9 239h1M22 239h1M29 239h1M31 239h1M37 239h1M46 239h1M49 239h1M53 239h2M22 238h1M33 238h1M41 238h1M43 238h1M8 237h1M12 237h1M31 237h1M40 237h1M54 237h1M1 236h1M15 236h1M23 236h1M33 236h1M38 236h1M46 236h2M49 236h1M15 235h1M22 235h1M24 235h1M28 235h1M35 235h2M46 235h1M1 234h1M7 234h1M17 234h1M26 234h1M33 234h1M10 233h1M17 233h1M28 233h1M33 233h2M50 233h1M11 232h1M34 232h1M40 232h1M47 232h1M13 231h1M15 231h1M22 231h1M27 231h1M32 231h1M38 231h1M44 231h1M48 231h1M54 231h1M22 230h2M50 230h1M0 229h1M3 229h1M25 229h2M28 229h1M41 229h1M56 229h1M1 228h1M9 228h1M23 228h1M29 228h1M47 228h1M51 228h1M17 227h1M19 227h1M27 227h1M31 227h1M1 226h1M4 226h1M11 226h1M20 226h1M37 226h1M44 226h1M50 226h1M4 225h1M7 225h1M12 225h1M19 225h1M33 225h1M54 225h1M31 224h1M43 224h1M45 224h1M11 223h1M15 223h1M21 223h1M25 223h1M37 223h1M40 223h1M4 222h2M24 222h1M40 222h1M0 221h1M17 221h1M26 221h1M34 221h1M0 220h1M2 220h1M12 220h1M22 220h2M25 220h1M29 220h1M39 220h1M42 220h1M44 220h1M2 219h1M35 219h2M46 219h1M49 219h2M7 218h1M13 218h2M32 218h1M36 218h1M52 218h1M55 218h2M11 217h1M16 217h1M26 217h1M39 217h1M47 217h1M53 217h1M3 216h1M5 216h1M22 216h1M31 216h1M54 216h1M56 216h1M9 215h1M23 215h1M46 215h1M3 214h1M10 214h1M21 214h2M33 214h1M35 214h1M41 214h2M12 213h1M22 213h1M26 213h1M33 213h1M43 213h2M47 213h1M51 213h1M55 213h1M21 212h1M51 212h1M10 211h1M16 211h1M30 211h1M37 211h1M43 211h2M52 211h1M4 210h1M10 210h1M13 210h1M15 210h1M28 210h1M33 210h1M41 210h2M3 209h1M24 209h1M29 209h2M33 209h2M46 209h1M9 208h1M11 208h1M13 208h1M35 208h1M39 208h1M46 208h1M50 208h1M0 207h1M21 207h1M51 207h1M0 206h1M9 206h1M20 206h1M6 205h1M13 205h1M28 205h2M33 205h1M35 205h1M40 205h1M56 205h1M6 204h1M9 204h1M19 204h2M30 204h2M53 204h2M16 203h1M20 203h1M35 203h1M3 202h1M7 202h1M9 202h1M15 202h1M33 202h2M11 201h1M28 201h1M3 200h2M12 200h1M19 200h1M29 200h1M34 200h1M38 200h1M49 200h1M1 199h1M8 199h1M18 199h1M22 199h1M34 199h1M2 198h1M9 198h1M19 198h3M38 198h1M55 198h1M0 197h1M6 197h2M14 197h1M31 197h1M49 197h1M53 197h1M55 197h2M5 196h1M27 196h1M37 196h1M56 196h1M9 195h2M12 195h1M20 195h2M30 195h2M36 195h1M39 195h1M42 195h1M49 195h1M56 195h1M15 194h1M29 194h1M31 194h1M37 194h1M46 194h1M13 193h1M27 193h1M34 193h1M41 193h1M13 192h1M17 192h1M33 192h1M43 192h1M51 192h1M53 192h1M17 191h1M40 191h2M44 191h1M46 191h1M52 191h3M7 190h2M19 190h1M23 190h2M33 190h1M54 190h1M15 189h1M20 189h1M27 189h1M33 189h1M38 189h1M10 188h1M24 188h1M35 188h1M44 188h1M56 188h1M11 187h1M17 187h1M46 187h1M7 186h1M23 186h1M25 186h1M30 186h2M56 186h1M3 185h1M5 185h1M8 185h1M13 185h1M16 185h1M33 185h1M44 185h2M3 184h1M8 184h1M12 184h1M17 184h1M21 184h1M34 184h2M47 184h1M50 184h1M7 183h1M16 183h2M22 183h1M42 183h2M54 183h1M4 182h1M17 182h1M20 182h2M24 182h1M33 182h2M50 182h1M52 182h3M20 181h1M23 181h1M36 181h1M39 181h1M47 181h1M6 180h1M10 180h1M12 180h1M19 180h1M36 180h1M45 180h1M52 180h1M14 179h1M18 179h1M22 179h1M24 179h1M37 179h1M50 179h1M7 178h1M13 178h1M18 178h1M31 178h1M36 178h2M14 177h1M25 177h1M36 177h1M39 177h1M45 177h1M50 177h1M7 176h1M21 176h1M30 176h1M32 176h1M39 176h1M42 176h1M45 176h1M56 176h1M5 175h1M8 175h1M14 175h1M30 175h1M35 175h1M39 175h1M9 174h1M11 174h1M14 174h1M23 174h1M34 174h1M52 174h2M7 173h1M14 173h2M51 173h1M2 172h1M8 172h1M11 172h1M23 172h2M28 172h1M32 172h1M1 171h1M17 171h1M23 171h1M25 171h1M27 171h1M46 171h1M53 171h1M7 170h1M9 170h1M37 170h1M51 170h1M53 170h2M0 169h1M3 169h1M13 169h1M16 169h2M22 169h1M34 169h1M51 169h1M56 169h1M11 168h1M31 168h1M35 168h1M40 168h1M24 167h1M40 167h1M52 167h1M55 167h1M43 166h1M47 166h1M56 166h1M1 165h1M6 165h1M28 165h2M34 165h1M43 165h1M50 165h1M53 165h1M0 164h1M11 164h1M27 164h1M30 164h2M36 164h1M48 164h1M50 164h1M54 164h1M0 163h1M3 163h3M18 163h1M26 163h1M35 163h1M37 163h1M45 163h1M1 162h1M12 162h1M23 162h2M27 162h2M41 162h1M43 162h1M47 162h1M49 162h2M55 162h1M1 161h2M7 160h1M9 160h1M17 160h1M22 160h1M27 160h1M31 160h1M37 160h1M44 160h1M47 160h1M6 159h1M8 159h1M31 159h1M40 159h1M46 159h1M9 158h1M12 158h1M17 158h3M28 158h1M5 157h2M11 157h1M17 157h1M19 157h1M27 157h2M40 157h1M45 157h1M1 156h2M10 156h1M32 156h1M47 156h1M49 156h1M7 155h1M10 155h3M32 155h1M45 155h1M9 154h1M15 154h1M21 154h1M28 154h1M31 154h1M37 154h1M44 154h1M49 154h1M27 153h1M38 153h1M42 153h2M49 153h1M56 153h1M5 152h1M7 152h1M9 152h2M26 152h2M30 152h1M2 151h1M5 151h1M11 151h1M22 151h1M27 151h1M30 151h1M35 151h1M45 151h1M47 151h1M4 150h1M7 150h1M14 150h1M26 150h1M30 150h1M33 150h1M41 150h1M46 150h1M1 149h2M6 149h1M15 149h1M17 149h1M25 149h1M40 149h1M49 149h1M18 148h1M29 148h2M33 148h2M36 148h1M53 148h1M16 147h1M20 147h1M23 147h2M27 147h1M31 147h1M37 147h1M40 147h1M42 147h1M44 147h1M56 147h1M27 146h2M30 146h2M35 146h1M46 146h1M0 145h1M5 145h3M16 145h1M29 145h1M31 145h3M37 145h1M53 145h2M3 144h1M10 144h1M31 144h1M48 144h1M51 144h1M55 144h2M25 143h1M35 143h1M37 143h1M41 143h1M46 143h1M48 143h1M51 143h1M1 142h1M17 142h1M35 142h1M39 142h1M52 142h1M15 141h1M17 141h1M21 141h2M39 141h1M42 141h1M44 141h1M49 141h1M11 140h2M36 140h1M16 139h1M24 139h1M30 139h1M55 139h2M18 138h1M21 138h1M38 138h1M41 138h1M55 138h1M0 137h1M3 137h1M8 137h1M13 137h1M20 137h3M33 137h1M16 136h1M31 136h1M34 136h1M43 136h2M54 136h1M56 136h1M10 135h1M14 135h1M29 135h2M33 135h1M42 135h1M51 135h1M56 135h1M5 134h1M11 134h1M20 134h3M30 134h1M34 134h1M44 134h1M51 134h1M0 133h2M26 133h1M42 133h1M52 133h2M10 132h1M19 132h1M24 132h2M32 132h1M35 132h1M37 132h2M40 132h1M44 132h1M50 132h1M55 132h1M0 131h1M2 131h1M25 131h1M30 131h1M36 131h1M42 131h1M47 131h3M51 131h1M53 131h1M5 130h1M13 130h1M21 130h2M32 130h1M36 130h3M48 130h2M53 130h1M1 129h1M5 129h1M22 129h1M38 129h1M51 129h1M55 129h1M0 128h1M4 128h1M14 128h1M24 128h1M27 128h1M0 127h1M3 127h1M20 127h1M40 127h1M54 127h1M7 126h1M13 126h1M36 126h1M39 126h1M44 126h2M52 126h1M1 125h1M6 125h1M8 125h1M10 125h1M12 125h1M26 125h1M31 125h1M35 125h1M8 124h1M15 124h1M36 124h1M49 124h2M53 124h1M40 123h1M35 122h2M44 122h1M51 122h1M55 122h1M3 121h1M10 121h1M29 121h1M49 121h1M1 120h1M6 120h2M23 120h1M27 120h1M32 120h1M36 120h1M44 120h1M53 120h1M21 119h1M25 119h1M32 119h1M42 119h2M4 118h1M20 118h1M30 118h1M35 118h1M42 118h1M54 118h1M2 117h1M8 117h1M23 117h1M26 117h1M34 117h1M48 117h2M55 117h1M0 116h1M2 116h1M6 116h1M8 116h1M29 116h1M43 116h1M54 116h2M6 115h1M9 115h1M15 115h1M21 115h3M4 114h1M6 114h1M8 114h1M26 114h1M43 114h1M27 113h1M29 113h1M31 113h1M42 113h1M44 113h1M6 112h1M23 112h1M38 112h1M42 112h1M9 111h1M13 111h1M29 111h1M38 111h1M46 111h1M56 111h1M27 110h2M41 110h4M48 110h1M2 109h1M37 109h1M45 109h1M54 109h2M0 108h1M3 108h1M7 108h2M14 108h1M16 108h1M20 108h3M35 108h1M38 108h2M45 108h1M15 107h1M34 107h1M38 107h1M41 107h1M15 106h1M23 106h1M28 106h1M30 106h1M43 106h2M46 106h1M2 105h1M6 105h1M14 105h1M18 105h1M20 105h2M30 105h1M46 105h1M50 105h1M8 104h1M12 104h1M19 104h1M32 104h1M47 104h1M51 104h2M5 103h1M8 103h1M33 103h1M39 103h1M51 103h1M2 102h1M8 102h1M17 102h2M22 102h1M31 102h1M38 102h1M53 102h1M56 102h1M6 101h1M15 101h1M19 101h1M6 100h1M10 100h1M17 100h2M22 100h1M42 100h1M49 100h1M52 100h1M55 100h2M4 99h1M14 99h1M19 99h1M28 99h1M36 99h1M40 99h1M43 99h1M53 99h1M56 99h1M1 98h1M7 98h1M10 98h1M24 98h1M26 98h1M32 98h1M45 98h2M48 98h1M11 97h1M20 97h1M40 97h1M46 97h1M49 97h1M56 97h1M15 96h1M17 96h1M21 96h1M31 96h1M34 96h3M48 96h1M52 96h1M6 95h1M14 95h1M16 95h1M22 95h1M28 95h1M30 95h1M34 95h1M48 95h1M51 95h1M53 95h1M55 95h1M2 94h1M12 94h1M19 94h1M21 94h2M24 94h2M29 94h1M42 94h2M48 94h1M52 94h1M55 94h1M23 93h1M32 93h1M5 92h1M13 92h2M18 92h1M47 92h1M49 92h2M54 92h1M14 91h1M24 91h1M29 91h1M43 91h1M47 91h1M21 90h2M26 90h1M30 90h1M54 90h1M21 89h2M25 89h1M38 89h1M46 89h1M54 89h1M17 88h1M27 88h1M29 88h1M38 88h1M40 88h1M0 87h1M13 87h1M42 87h1M55 87h1M4 86h1M11 86h1M27 86h1M32 86h1M40 86h1M42 86h1M50 86h1M6 85h1M31 85h1M39 85h1M41 85h1M54 85h1M9 84h1M26 84h1M29 84h1M42 84h1M45 84h1M48 84h1M50 84h1M17 83h1M25 83h2M34 83h1M39 83h1M45 83h1M47 83h2M55 83h2M2 82h1M23 82h4M35 82h1M43 82h1M45 82h2M55 82h1M1 81h1M12 81h1M14 81h1M32 81h1M34 81h1M3 80h1M11 80h1M16 80h1M18 80h2M25 80h2M31 80h1M46 80h1M50 80h1M6 79h1M11 79h1M16 79h1M20 79h1M35 79h1M38 79h2M47 79h1M52 79h1M4 78h1M17 78h1M28 78h1M31 78h1M40 78h1M53 78h1M4 77h2M12 77h1M23 77h1M28 77h1M40 77h1M43 77h1M56 77h1M4 76h1M8 76h1M24 76h1M44 76h1M46 76h2M51 76h1M14 75h1M19 75h2M37 75h1M42 75h1M48 75h1M54 75h1M14 74h1M19 74h1M23 74h1M28 74h2M35 74h1M42 74h1M50 74h1M3 73h1M15 73h1M20 73h1M31 73h1M37 73h1M41 73h1M44 73h2M9 72h1M13 72h3M22 72h1M24 72h2M27 72h1M31 72h1M36 72h1M55 72h1M1 71h1M4 71h1M6 71h1M12 71h2M21 71h1M31 71h1M33 71h1M37 71h1M40 71h1M44 71h1M52 71h1M55 71h2M17 70h1M19 70h1M23 70h1M28 70h1M31 70h1M40 70h2M3 69h1M27 69h1M31 69h2M45 69h1M54 69h1M30 68h3M39 68h1M46 68h1M51 68h1M55 68h1M9 67h1M16 67h1M25 67h1M34 67h1M42 67h1M53 67h1M0 66h1M13 66h2M17 66h2M24 66h2M33 66h1M36 66h1M48 66h1M51 66h1M14 65h1M17 65h1M21 65h1M34 65h1M51 65h1M5 64h2M19 64h1M21 64h1M30 64h1M39 64h2M20 63h2M25 63h1M28 63h1M30 63h1M6 62h1M16 62h1M20 62h1M25 62h1M27 62h1M55 62h1M2 61h2M22 61h1M30 61h1M34 61h1M45 61h2M8 60h1M26 60h1M38 60h1M52 60h2M1 59h2M8 59h1M17 59h3M23 59h1M29 59h1M42 59h1M21 58h1M24 58h2M51 58h1M7 57h1M9 57h1M24 57h1M26 57h1M28 57h1M50 57h1M2 56h1M23 56h1M28 56h1M32 56h4M6 55h1M13 55h1M22 55h1M34 55h1M16 54h3M26 54h1M33 54h2M36 54h1M45 54h2M49 54h1M52 54h1M55 54h2M15 53h1M21 53h1M25 53h1M29 53h1M37 53h1M44 53h2M52 53h2M0 52h1M6 52h1M11 52h2M20 52h1M5 51h2M22 51h1M28 51h2M42 51h1M14 50h1M35 50h1M45 50h1M48 50h2M8 49h1M18 49h1M23 49h1M26 49h3M30 49h1M39 49h2M44 49h1M48 49h2M5 48h2M23 48h1M26 48h1M41 48h1M44 48h1M48 48h1M52 48h3M26 47h1M30 47h1M37 47h1M55 47h2M17 46h1M23 46h1M28 46h1M40 46h1M46 46h1M3 45h1M5 45h1M9 45h1M12 45h1M35 45h1M37 45h2M48 45h1M50 45h1M53 45h2M56 45h1M0 44h1M21 44h1M23 44h1M27 44h1M29 44h1M39 44h2M46 44h1M5 43h1M15 43h2M24 43h1M30 43h1M44 43h2M47 43h1M6 42h1M19 42h1M24 42h1M30 42h1M32 42h1M20 41h1M29 41h1M31 41h1M33 41h1M42 41h2M49 41h1M51 41h2M55 41h1M4 40h1M12 40h1M15 40h1M47 40h1M49 40h2M16 39h1M21 39h1M24 39h1M28 39h1M49 39h1M51 39h1M1 38h1M6 38h1M11 38h2M22 38h1M36 38h1M52 38h1M31 37h1M47 37h1M5 36h1M11 36h1M31 36h2M34 36h1M37 36h1M48 36h1M4 35h2M9 35h1M14 35h1M21 35h2M25 35h1M31 35h1M40 35h1M43 35h2M14 34h1M20 34h1M26 34h1M37 34h1M42 34h1M10 33h1M14 33h1M17 33h1M33 33h5M43 33h1M0 32h1M4 32h1M10 32h1M12 32h1M17 32h1M30 32h1M36 32h2M42 32h1M45 32h1M30 31h1M32 31h1M36 31h1M41 31h1M43 31h1M50 31h1M53 31h2M3 30h1M12 30h1M29 30h1M47 30h1M2 29h1M41 29h1M5 28h1M17 28h1M36 28h1M40 28h1M44 28h1M48 28h1M3 27h1M8 27h1M21 27h1M26 27h1M53 27h2M2 26h1M10 26h1M14 26h1M18 26h1M20 26h1M25 26h2M31 26h1M33 26h1M36 26h2M44 26h1M46 26h1M54 26h1M32 25h1M46 25h1M56 25h1M15 24h2M18 24h2M26 24h2M30 24h1M38 24h2M0 23h1M33 23h1M43 23h1M2 22h1M4 22h1M6 22h1M36 22h1M41 22h1M50 22h1M55 22h1M23 21h2M26 21h1M3 20h1M6 20h1M20 20h1M24 20h1M28 20h3M37 20h1M42 20h1M45 20h1M47 20h2M11 19h1M27 19h1M41 19h1M49 19h1M0 18h1M4 18h1M10 18h1M15 18h1M18 18h1M20 18h2M49 18h1M55 18h1M9 17h1M17 17h1M26 17h1M30 17h1M34 17h1M44 17h1M53 17h3M6 16h1M11 16h1M19 16h1M35 16h1M38 16h1M41 16h1M43 16h2M18 15h1M21 15h1M30 15h1M39 15h1M43 15h1M14 14h1M28 14h1M32 14h2M38 14h1M10 13h1M17 13h2M27 13h2M36 13h1M40 13h1M47 13h1M49 13h1M3 12h1M16 12h1M29 12h2M32 12h2M37 12h1M41 12h1M44 12h1M50 12h3M1 11h2M10 11h1M31 11h1M36 11h3M44 11h1M47 11h1M50 11h1M4 10h1M28 10h1M39 10h1M43 10h1M52 10h1M0 9h1M2 9h1M21 9h1M25 9h1M30 9h2M41 9h1M43 9h1M45 9h1M47 9h1M15 8h1M18 8h1M21 8h1M23 8h1M39 8h1M44 8h1M51 8h1M53 8h1M1 7h1M3 7h1M10 7h1M12 7h1M14 7h2M19 7h1M22 7h1M31 7h1M39 7h1M52 7h1M54 7h3M3 6h1M7 6h1M19 6h1M31 6h1M41 6h1M54 6h1M4 5h1M12 5h2M24 5h2M30 5h1M38 5h1M45 5h1M51 5h1M56 5h1M29 4h1M36 4h1M38 4h1M1 3h1M7 3h1M10 3h2M32 3h1M34 3h1M43 3h1M48 3h1M52 3h4M6 2h1M21 2h1M24 2h1M29 2h1M2 1h1M7 1h1M15 1h1M17 1h1M21 1h1M24 1h1M29 1h1M31 1h1M36 1h1M42 1h2M50 1h1M56 1h1M30 0h2M49 0h1M56 0h1"/>
<path stroke="#0000f9" d="M14 489h1M17 487h1M16 485h1M54 485h1M14 484h2M50 484h1M56 484h1M19 483h1M15 482h1M14 481h1M18 481h1M15 480h2M49 479h1M52 479h1M4 478h1M14 478h1M16 478h1M19 478h1M43 478h1M4 477h1M19 477h1M50 477h1M56 477h1M4 475h1M50 475h1M52 475h1M19 474h1M54 474h1M1 473h1M17 473h1M19 473h1M33 473h1M18 472h1M33 472h1M45 472h2M54 472h1M8 471h1M18 471h1M48 471h1M43 469h1M19 468h1M33 468h1M53 468h1M3 466h1M49 466h1M10 465h1M44 465h1M2 464h1M44 464h3M52 464h1M55 464h1M56 463h1M8 462h1M8 461h1M20 461h1M49 461h1M53 461h1M55 461h1M14 460h1M20 460h1M49 460h2M1 459h1M45 459h1M47 459h1M50 459h1M2 458h1M13 458h1M17 458h1M31 458h1M45 458h1M2 457h1M15 457h1M22 457h1M47 457h1M36 456h1M3 455h1M13 455h1M36 455h1M45 455h2M54 455h1M56 455h1M36 454h1M48 454h1M53 454h1M17 453h3M53 453h1M2 452h2M13 452h1M54 452h1M0 451h1M2 451h2M16 451h1M0 450h1M8 450h1M13 449h1M15 449h1M26 449h1M46 449h1M49 449h2M55 449h1M13 448h1M46 448h1M55 448h1M52 447h1M19 446h1M53 446h1M8 445h1M21 445h1M26 445h1M32 445h2M37 445h1M44 445h3M53 445h2M22 444h1M34 444h1M43 444h1M45 444h3M2 443h1M4 443h1M19 443h1M32 443h1M49 443h1M51 443h1M0 442h1M12 442h1M15 442h2M20 442h2M24 442h2M35 442h1M37 442h1M43 442h1M51 442h1M53 442h1M12 441h1M15 441h1M31 441h1M35 441h1M52 441h1M55 441h2M4 440h1M8 440h1M24 440h2M35 440h1M54 440h1M3 439h1M14 439h1M24 439h1M32 439h1M36 439h1M46 439h2M56 439h1M9 438h1M23 438h2M51 438h1M54 438h1M14 437h1M16 437h1M52 437h1M1 436h1M13 436h1M47 436h1M2 435h2M10 435h1M30 435h1M49 435h1M44 434h1M47 434h2M50 434h1M20 433h1M2 432h1M10 432h2M21 432h1M24 432h1M50 432h1M13 431h1M43 431h1M2 430h1M20 430h1M26 430h1M30 430h1M32 430h1M36 430h2M0 429h1M2 429h1M13 429h1M15 429h1M18 429h1M36 429h1M3 428h2M14 428h1M8 427h1M38 427h1M3 426h1M19 426h1M26 426h1M37 426h1M52 426h3M8 425h1M55 424h1M8 422h1M43 422h1M8 421h1M34 421h1M1 420h1M4 420h1M8 420h1M31 420h1M43 420h2M9 419h1M12 419h1M15 419h1M37 419h1M5 418h2M9 418h1M12 418h1M14 418h1M23 418h2M31 418h2M37 418h1M40 418h1M16 417h2M21 417h1M25 417h2M35 417h1M37 417h1M0 416h1M4 416h1M12 416h1M25 416h2M43 416h1M51 416h1M10 415h2M11 414h1M15 414h2M32 414h1M1 413h1M7 413h1M10 413h1M24 413h1M30 413h1M37 413h2M9 412h1M18 412h1M25 411h1M27 411h1M34 411h1M42 411h1M47 411h1M28 410h2M2 409h2M13 409h1M22 409h1M32 409h1M6 408h1M8 408h1M10 408h1M12 408h1M21 408h1M34 408h1M53 408h1M1 407h1M3 407h1M11 407h1M27 407h1M55 407h1M8 406h1M43 406h1M5 405h1M7 405h1M13 405h1M20 405h1M27 405h1M35 405h1M48 405h1M56 405h1M3 404h1M21 404h1M27 404h1M32 404h1M42 404h1M45 404h1M53 404h1M3 403h1M7 403h1M9 403h1M11 403h1M42 403h1M55 403h1M47 402h2M52 402h1M55 402h1M11 401h1M14 401h1M21 401h1M31 401h1M35 401h1M45 401h1M47 401h1M14 400h1M21 400h1M30 400h2M50 400h1M56 400h1M14 399h1M22 399h1M32 399h1M46 399h1M20 398h1M48 398h1M20 397h1M40 397h1M47 397h1M51 397h2M10 396h1M13 396h1M35 396h1M41 396h1M2 395h1M4 395h1M12 395h1M19 395h1M23 395h1M32 395h1M34 395h2M40 395h2M54 395h2M0 394h1M22 394h2M41 394h2M46 394h1M51 394h1M0 393h1M6 393h2M14 393h1M32 393h1M41 393h2M48 393h1M6 392h1M16 392h1M21 392h1M24 392h1M28 392h1M42 392h1M50 392h1M3 391h1M5 391h1M9 391h1M24 391h1M33 391h1M36 391h1M39 391h1M41 391h1M51 391h1M1 390h1M6 390h2M9 390h1M15 390h1M25 390h1M28 390h5M38 390h1M40 390h3M54 390h1M3 389h1M38 389h5M7 388h1M9 388h1M17 388h1M19 388h1M33 388h1M40 388h1M43 388h1M49 388h1M3 387h1M21 387h1M25 387h2M9 386h1M15 386h1M21 386h2M46 386h1M55 386h1M1 385h2M4 385h1M7 385h1M9 385h1M31 385h1M55 385h1M0 384h1M11 384h1M24 384h1M31 384h2M46 384h1M50 384h1M53 384h1M2 383h1M12 383h1M15 383h1M27 383h1M32 383h1M54 383h1M11 382h1M17 382h1M21 382h1M27 382h1M39 382h3M46 382h1M50 382h2M26 381h1M48 381h2M54 381h1M2 380h1M20 380h1M24 380h1M35 380h1M12 379h1M39 379h1M46 379h1M56 379h1M12 378h1M31 378h1M34 378h2M42 378h1M12 377h1M26 377h1M44 377h1M52 377h1M6 376h2M12 376h1M22 376h1M42 376h1M49 376h1M53 376h1M7 375h1M11 375h1M13 375h1M22 375h1M26 375h1M42 375h1M46 375h1M52 375h1M3 374h1M10 374h1M20 374h1M33 374h1M36 374h1M39 374h1M41 374h1M47 374h1M14 373h1M16 373h2M23 373h1M35 373h1M44 373h1M47 373h1M3 372h1M33 372h1M44 372h1M52 372h1M35 371h1M44 371h1M49 371h1M2 370h1M14 370h1M29 370h1M31 370h1M33 370h1M38 370h1M43 370h1M50 370h1M4 369h1M10 369h1M21 369h1M25 369h1M54 369h2M6 368h1M10 368h2M19 368h1M26 368h1M30 368h1M34 368h1M47 368h1M49 368h1M52 368h1M29 367h1M56 367h1M0 366h2M7 366h1M25 366h2M28 366h1M55 366h1M9 365h1M13 365h1M28 365h1M36 365h1M42 365h1M44 365h1M47 365h1M1 364h1M17 364h2M25 364h1M27 364h1M33 364h1M39 364h1M3 363h1M7 363h1M16 363h1M39 363h1M44 363h1M23 362h1M34 362h1M1 361h1M21 361h1M29 361h1M33 361h1M13 360h1M29 360h1M48 360h2M14 359h1M20 359h1M22 359h1M25 359h1M29 359h1M45 359h1M2 358h1M10 358h2M28 358h1M39 358h1M54 358h1M35 357h3M39 357h2M43 357h1M47 357h1M12 356h1M17 356h1M24 356h1M33 356h1M36 356h1M38 356h1M40 356h1M54 356h1M3 355h1M11 355h1M13 355h1M20 355h1M46 355h1M3 354h1M12 354h1M15 354h1M18 354h1M24 354h1M42 354h1M51 354h1M1 353h1M7 353h1M11 353h1M22 353h1M25 353h1M3 352h1M5 352h1M8 352h1M18 352h1M41 352h1M4 351h2M12 351h1M15 351h1M38 351h1M40 351h1M5 350h1M9 350h1M41 350h1M51 350h1M55 350h1M0 349h1M16 349h1M36 349h1M42 349h1M53 349h1M5 348h2M15 348h1M32 348h1M36 348h1M39 348h1M43 348h1M46 348h1M1 347h1M20 347h1M28 347h1M40 347h1M3 346h1M6 346h1M10 346h2M14 346h1M18 346h1M21 346h1M28 346h1M34 346h1M46 346h1M4 345h2M15 345h1M27 345h1M39 345h2M44 345h1M10 344h1M21 344h1M34 344h1M46 344h1M48 344h2M56 344h1M5 343h2M51 343h1M3 342h1M5 342h1M26 342h1M35 342h1M48 342h1M15 341h1M20 341h2M52 341h1M54 341h1M56 341h1M1 340h1M11 340h1M28 340h1M34 340h1M44 340h1M50 340h1M6 339h1M8 339h1M17 339h2M45 339h1M25 338h1M45 338h1M48 338h1M55 338h1M7 337h1M24 337h1M27 337h2M36 337h1M45 337h1M53 337h1M14 336h1M43 336h1M5 335h1M14 335h1M17 335h1M25 335h1M30 335h1M20 334h1M24 334h2M31 334h1M26 333h1M31 333h2M36 333h1M42 333h1M5 332h1M9 332h2M12 332h1M14 332h1M17 332h2M26 332h1M53 332h1M3 331h1M11 331h1M18 331h1M44 331h1M40 330h2M46 330h1M7 329h2M11 329h1M21 329h1M33 329h1M40 329h1M50 329h2M3 328h3M35 328h1M51 328h1M1 327h1M18 327h1M21 327h1M4 326h1M6 326h1M12 326h1M38 326h3M1 325h1M16 325h1M23 325h1M26 325h1M28 325h1M30 325h1M45 325h1M9 324h1M22 324h1M29 324h2M54 324h1M14 323h1M44 323h1M51 323h1M2 322h1M5 322h1M8 322h1M15 322h1M31 322h1M51 322h1M0 321h1M8 321h1M42 321h2M47 321h1M51 321h1M3 320h1M7 320h1M27 320h1M53 320h1M2 319h1M12 319h1M14 319h1M22 319h1M24 319h1M32 319h1M36 319h1M41 319h1M45 319h1M6 318h1M12 318h1M18 318h1M21 318h1M31 318h1M37 318h1M47 318h1M3 317h1M10 317h1M32 317h1M37 317h1M1 316h1M14 316h1M25 316h1M27 316h1M33 316h1M3 315h1M8 315h1M11 315h1M27 315h1M30 315h1M34 315h1M50 315h2M10 314h1M16 314h3M21 314h3M31 314h1M34 314h3M41 314h1M55 314h1M15 313h1M23 313h1M35 313h2M48 313h2M53 313h1M5 312h1M12 312h2M18 312h1M25 312h1M33 312h1M0 311h1M18 311h1M22 311h1M32 311h2M2 310h1M28 310h4M36 310h2M42 310h1M54 310h1M56 310h1M0 309h1M4 309h1M35 309h1M45 309h1M53 309h1M4 308h2M7 308h1M26 308h1M30 308h1M46 308h1M50 308h1M56 308h1M8 307h2M18 307h1M21 307h1M25 307h1M33 307h1M38 307h1M41 307h1M5 306h1M11 306h1M15 306h1M18 306h1M20 306h1M23 306h1M28 306h1M39 306h1M42 306h1M4 305h1M6 305h1M9 305h1M16 305h1M35 305h1M37 305h3M43 305h1M14 304h1M16 304h1M18 304h1M29 304h2M40 304h1M42 304h1M47 304h1M6 303h1M16 303h1M22 303h1M32 303h1M36 303h1M41 303h1M6 302h1M22 302h1M24 302h1M28 302h1M41 302h1M48 302h1M1 301h1M15 301h1M34 301h1M1 300h1M6 300h1M23 300h1M32 300h1M34 300h2M37 300h1M44 300h1M53 300h1M12 299h1M40 299h1M43 299h1M8 298h1M14 298h1M25 298h1M32 298h1M41 298h1M49 298h1M1 297h1M7 297h1M22 297h1M26 297h1M33 297h1M42 297h1M56 297h1M22 296h1M26 296h1M29 296h1M37 296h1M41 296h1M2 295h1M15 295h1M27 295h1M45 295h1M49 295h1M2 294h1M5 294h1M8 294h3M33 294h1M43 294h1M55 294h1M16 293h1M25 293h1M38 293h1M41 293h1M55 293h1M0 292h1M13 292h1M41 292h1M11 291h1M14 291h1M26 291h1M32 291h1M43 291h1M47 291h2M50 291h1M5 290h1M21 290h1M24 290h1M33 290h2M36 290h2M40 290h1M45 290h1M54 290h1M4 289h1M6 289h1M11 289h1M40 289h1M43 289h1M53 289h1M0 288h1M26 288h1M28 288h1M43 288h2M15 287h1M29 287h1M32 287h1M10 286h1M13 286h1M21 286h1M30 286h1M33 286h2M52 286h2M55 286h1M15 285h1M21 285h3M30 285h1M34 285h1M36 285h1M38 285h2M41 285h1M53 285h1M18 284h1M33 284h1M16 283h1M33 283h1M37 283h1M39 283h2M32 282h1M46 282h2M49 282h1M52 282h1M28 281h1M40 281h3M53 281h1M17 280h2M26 280h1M14 279h1M23 279h1M25 279h1M27 279h1M29 279h1M35 279h1M42 279h1M46 279h1M25 278h1M42 278h1M44 278h1M49 278h1M3 277h1M6 277h2M24 277h1M52 277h1M29 276h1M14 275h2M19 275h1M24 275h1M33 275h1M37 275h2M40 275h1M51 275h1M1 274h1M3 274h1M5 274h1M37 274h1M42 274h1M51 274h1M9 273h1M21 273h1M24 273h1M42 273h2M46 273h1M5 272h1M7 272h1M10 272h1M16 272h1M30 272h1M32 272h2M36 272h1M40 272h1M6 271h1M12 271h1M23 271h1M31 271h1M33 271h1M41 271h1M4 270h2M31 270h2M39 270h1M42 270h1M55 270h1M4 269h1M9 269h1M39 269h1M42 269h1M45 269h1M55 269h1M0 268h1M4 268h1M17 268h1M22 268h1M24 268h1M31 268h1M35 268h1M39 268h2M43 268h1M12 267h1M24 267h1M28 267h2M42 267h1M44 267h2M47 267h1M49 267h1M4 266h1M21 266h1M23 266h1M25 266h1M34 266h1M36 266h1M47 266h1M54 266h1M0 265h1M21 265h1M24 265h1M26 265h1M42 265h2M56 265h1M1 264h1M6 264h1M8 264h1M40 264h1M6 263h1M14 263h2M24 263h2M28 263h2M36 263h1M3 262h2M6 262h1M25 262h1M37 262h1M49 262h1M51 262h2M3 261h1M8 261h1M31 261h1M42 261h1M56 261h1M5 260h1M20 260h1M32 260h1M37 260h1M53 260h1M56 260h1M31 259h1M39 259h1M43 259h1M0 258h1M30 258h2M46 258h1M48 258h1M50 258h1M0 257h1M8 257h1M11 257h1M22 257h1M29 257h3M15 256h1M56 256h1M14 255h1M28 255h1M30 255h2M40 255h1M42 255h2M4 254h1M12 254h1M24 254h1M28 254h2M0 253h1M12 253h1M27 253h1M38 253h1M53 253h3M2 252h1M30 252h1M40 252h1M8 251h1M10 251h1M14 251h1M24 251h1M30 251h1M38 251h1M44 251h1M55 251h2M1 250h1M8 250h1M15 250h1M20 250h1M33 250h1M41 250h1M8 249h1M12 249h1M15 249h1M26 249h1M42 249h1M12 248h1M27 248h1M39 248h1M45 248h2M14 247h1M29 247h1M43 247h1M56 247h1M11 246h1M21 246h2M27 246h2M30 246h1M42 246h1M48 246h2M51 246h1M26 245h2M38 245h1M46 245h1M50 245h1M52 245h1M54 245h1M56 245h1M10 244h1M20 244h1M35 244h1M37 244h2M46 244h1M5 243h1M10 243h1M19 243h1M30 243h1M35 243h1M37 243h1M4 242h1M36 242h1M40 242h2M4 241h1M21 241h1M38 241h1M43 241h1M46 241h1M21 240h2M29 240h1M43 240h1M0 239h1M5 239h1M32 239h1M6 238h1M20 238h1M23 238h2M37 238h1M40 238h1M45 238h1M52 238h1M54 238h2M1 237h1M24 237h2M27 237h2M44 237h1M18 236h1M29 236h1M39 236h2M7 235h1M11 235h1M16 235h1M33 235h1M37 235h1M39 235h1M0 234h1M4 234h1M9 234h1M11 234h1M22 234h3M56 234h1M1 233h2M11 233h1M24 233h1M35 233h1M38 233h1M5 232h1M12 232h1M27 232h1M33 232h1M35 232h2M39 232h1M48 232h2M4 231h1M26 231h1M36 231h1M1 230h1M5 230h1M31 230h1M33 230h1M35 230h1M41 230h1M43 230h1M55 230h1M6 229h1M19 229h1M31 229h1M40 229h1M51 229h1M53 229h1M5 228h2M10 228h1M28 228h1M37 228h1M48 228h1M1 227h2M7 227h1M25 227h1M36 227h1M41 227h2M45 227h1M47 227h3M3 226h1M19 226h1M25 226h1M6 225h1M29 225h1M36 225h2M9 224h1M29 224h2M7 223h1M23 223h1M2 222h1M30 222h2M34 222h1M1 221h1M6 221h1M8 221h1M21 221h1M27 221h1M37 221h2M54 221h1M8 220h2M11 220h1M41 220h1M45 220h1M4 219h1M38 219h2M42 219h1M51 219h1M10 218h1M19 218h1M44 218h1M51 218h1M8 217h2M29 217h1M35 217h1M38 217h1M54 217h1M56 217h1M21 216h1M30 216h1M35 216h1M39 216h1M6 215h1M21 215h1M24 215h2M33 215h1M37 215h2M11 214h1M23 214h1M28 214h4M34 214h1M44 214h1M52 214h1M11 213h1M13 213h1M29 213h1M11 212h2M14 212h1M34 212h1M44 212h1M49 212h1M55 212h1M5 211h1M7 211h2M29 211h1M1 210h1M3 210h1M9 210h1M11 210h2M29 210h1M34 210h2M40 210h1M46 210h1M11 209h1M31 209h1M35 209h1M44 209h1M3 208h2M6 208h1M30 208h1M33 208h1M55 208h1M3 207h1M20 207h1M23 207h1M27 207h1M32 207h1M43 207h1M45 207h2M12 206h1M27 206h1M34 206h1M44 206h1M12 205h1M19 205h1M22 205h2M4 204h1M10 204h2M16 204h1M27 204h2M37 204h1M48 204h1M56 204h1M0 203h2M5 203h1M27 203h1M31 203h1M56 203h1M4 202h1M16 202h1M39 202h1M47 202h1M51 202h1M13 201h1M20 201h2M25 201h1M32 201h1M47 201h1M36 200h1M3 199h1M6 199h1M14 199h1M16 199h1M19 199h1M21 199h1M28 199h1M8 198h1M12 198h1M14 198h2M22 198h1M30 198h1M35 198h1M39 198h1M48 198h1M52 198h1M19 197h1M32 197h1M36 197h1M54 197h1M3 196h1M6 196h1M14 196h2M20 196h1M22 196h1M26 196h1M36 196h1M45 196h1M4 195h1M11 195h1M15 195h1M25 195h1M44 195h1M46 195h1M52 195h2M14 194h1M21 194h1M30 194h1M36 194h1M43 194h1M50 194h1M29 193h1M37 193h1M48 193h2M51 193h1M9 192h2M18 192h1M21 192h1M36 192h1M42 192h1M8 191h1M26 191h1M29 191h1M51 191h1M56 191h1M9 190h1M25 190h1M32 190h1M34 190h1M0 189h2M3 189h1M31 189h1M35 189h1M42 189h2M50 189h1M52 189h1M56 189h1M3 188h1M11 188h1M14 188h3M23 188h1M25 188h1M39 188h1M51 188h1M2 187h1M13 187h3M28 187h2M50 187h1M52 187h1M4 186h1M16 186h1M19 186h1M21 186h1M28 186h1M35 186h1M40 186h1M45 186h1M9 185h1M12 185h1M26 185h2M30 185h1M32 185h1M41 185h2M46 185h1M51 185h1M16 184h1M22 184h1M28 184h1M36 184h1M40 184h4M8 183h1M23 183h1M30 183h1M34 183h1M38 183h3M3 182h1M19 182h1M26 182h1M0 181h1M3 181h1M21 181h1M26 181h1M30 181h2M43 181h1M45 181h1M48 181h1M56 181h1M1 180h1M3 180h2M18 180h1M24 180h1M46 180h1M53 180h1M0 179h1M17 179h1M34 179h1M46 179h1M51 179h1M55 179h1M6 178h1M9 178h1M14 178h1M16 178h1M41 178h1M52 178h1M6 177h1M24 177h1M35 177h1M38 177h1M40 177h1M20 176h1M28 176h1M47 176h1M7 175h1M37 175h1M46 175h1M31 174h1M44 174h1M51 174h1M56 174h1M8 173h1M13 173h1M16 173h1M30 173h1M40 173h2M43 173h1M49 173h1M53 173h1M1 172h1M10 172h1M29 172h1M52 172h2M2 171h1M18 171h1M20 171h2M24 171h1M26 171h1M28 171h1M52 171h1M25 170h1M28 170h2M40 170h1M1 169h2M8 169h1M20 169h2M30 169h2M43 169h1M47 169h1M49 169h1M16 168h2M27 168h1M29 168h1M33 168h1M48 168h4M39 166h1M46 166h1M49 166h1M3 165h1M10 165h2M13 165h2M33 165h1M35 165h2M42 165h1M48 165h1M1 164h1M28 164h1M49 164h1M53 164h1M36 163h1M49 163h1M21 162h1M25 162h1M51 162h1M17 161h1M20 161h1M22 161h1M40 161h1M50 161h2M6 160h1M34 160h1M45 160h1M7 159h1M9 159h1M11 159h1M18 159h1M38 159h2M5 158h1M11 158h1M33 157h1M39 157h1M42 157h2M16 156h1M22 156h1M39 156h1M50 156h1M41 155h1M49 155h1M3 154h1M18 154h1M22 154h1M25 154h1M47 154h1M16 153h2M40 153h1M46 153h1M50 153h1M6 152h1M11 152h1M21 152h1M24 152h2M29 152h1M41 152h1M43 152h1M6 151h1M24 151h1M33 151h1M43 151h1M52 151h1M54 151h2M15 150h2M27 150h1M31 150h1M23 149h1M28 149h1M46 149h1M1 148h1M11 148h1M17 148h1M21 148h1M23 148h1M27 148h1M41 148h1M48 147h1M53 147h2M12 146h1M17 146h1M37 146h1M51 146h1M2 145h2M8 145h1M44 145h1M46 145h1M52 145h1M8 144h1M18 144h1M23 144h2M3 143h1M11 143h1M26 143h1M36 143h1M42 143h1M44 143h1M52 143h1M4 142h1M8 142h1M12 142h1M44 142h1M46 142h1M53 142h1M27 141h2M46 141h2M56 141h1M4 140h1M7 140h2M10 140h1M24 140h1M27 140h1M33 140h1M45 140h2M15 139h1M38 139h2M3 138h1M36 138h1M7 137h1M11 137h2M29 137h1M38 137h1M41 137h1M30 136h1M47 136h1M6 135h2M34 135h2M43 135h2M52 135h2M6 134h1M26 134h1M28 134h1M31 134h1M48 134h1M53 134h2M32 133h1M34 133h1M39 133h1M44 133h1M50 133h1M0 132h1M2 132h1M5 132h1M26 132h1M33 132h1M36 132h1M46 132h1M21 131h1M27 131h2M31 131h1M34 131h1M38 131h1M45 131h1M52 131h1M56 131h1M11 130h1M20 130h1M25 130h1M30 130h2M55 130h1M0 129h1M26 129h1M35 129h1M43 129h1M46 129h1M15 128h1M6 127h2M10 127h1M21 127h1M35 127h2M45 127h1M2 126h1M4 126h1M12 126h1M29 126h1M53 126h1M7 125h1M46 125h1M21 124h1M29 124h1M37 124h1M44 124h1M11 123h1M24 123h1M41 123h2M0 122h1M7 122h2M27 122h2M32 122h1M40 122h1M46 122h1M49 122h1M2 121h1M9 121h1M19 121h1M22 121h1M36 121h1M42 121h3M46 121h1M52 121h1M5 120h1M9 120h2M22 120h1M30 120h2M49 120h1M22 119h1M41 119h1M2 118h1M21 118h1M31 118h1M34 118h1M44 118h1M55 118h1M17 117h1M20 117h1M25 117h1M31 117h1M33 117h1M46 117h1M54 117h1M20 116h1M22 116h1M33 116h1M36 116h1M0 115h1M36 115h2M43 115h2M53 115h1M22 114h2M25 114h1M31 114h2M52 114h2M0 113h1M30 113h1M33 113h1M38 113h1M17 112h2M33 112h1M47 112h1M10 111h1M12 111h1M27 111h1M31 111h1M37 111h1M41 111h2M55 111h1M2 110h1M4 110h3M12 110h1M47 110h1M19 109h3M26 109h1M48 109h1M2 108h1M10 108h1M29 108h1M33 108h1M44 108h1M47 108h1M4 107h1M13 107h1M25 107h2M28 107h1M30 107h1M37 107h1M40 107h1M43 107h1M25 106h1M27 106h1M34 106h1M45 106h1M1 105h1M10 105h2M13 105h1M16 105h1M29 105h1M54 105h3M21 104h2M25 104h1M28 104h1M36 104h1M41 104h1M46 104h1M13 103h1M17 103h1M20 103h2M24 103h1M28 103h2M41 103h1M46 103h1M53 103h3M10 102h2M21 102h1M25 102h1M30 102h1M35 102h2M54 102h1M11 101h1M14 101h1M16 101h1M23 101h1M25 101h2M31 101h2M25 100h2M29 100h2M41 100h1M43 100h1M53 100h1M5 99h2M10 99h1M16 99h1M18 99h1M26 99h1M29 99h1M37 99h2M44 99h1M13 98h2M29 98h1M31 98h1M35 98h1M37 98h1M27 97h1M36 97h1M38 97h1M4 96h1M7 96h1M12 96h1M16 96h1M20 96h1M46 96h2M50 96h2M53 96h1M15 95h1M27 95h1M29 95h1M35 95h1M41 95h1M49 95h2M52 95h1M1 94h1M3 94h1M7 94h2M11 94h1M32 94h1M51 94h1M54 94h1M19 93h1M28 93h3M34 93h1M41 93h1M47 93h1M4 92h1M12 92h1M15 92h1M19 92h2M23 92h2M29 92h1M46 92h1M51 92h1M7 91h1M13 91h1M40 91h2M46 91h1M2 90h1M13 90h1M20 90h1M39 90h1M50 90h1M2 89h1M5 89h1M10 89h1M15 89h1M26 89h1M24 88h1M26 88h1M41 88h1M47 88h1M2 87h2M12 87h1M30 87h1M38 87h2M43 87h1M50 87h1M52 87h1M8 86h2M36 86h1M47 86h1M54 86h1M56 86h1M9 85h1M25 85h1M29 85h1M32 85h1M40 85h1M48 85h1M34 84h2M38 84h1M47 84h1M51 84h1M2 83h1M22 83h1M27 83h1M46 83h1M16 82h1M5 81h1M7 81h1M15 81h1M20 81h1M24 81h1M33 81h1M0 80h1M7 80h1M10 80h1M15 80h1M34 80h1M40 80h2M43 80h1M55 80h1M8 79h1M15 79h1M21 79h1M31 79h1M42 79h1M45 79h1M53 79h1M0 78h1M7 78h1M22 78h1M37 78h1M46 78h2M6 77h1M18 77h1M20 77h1M25 77h3M32 77h1M34 77h1M37 77h1M42 77h1M10 76h1M21 76h1M27 76h1M29 76h1M39 76h1M43 76h1M48 76h1M4 75h1M15 75h1M30 75h1M40 75h2M9 74h1M16 74h1M18 74h1M26 74h2M33 74h1M44 74h1M51 74h1M0 73h1M19 73h1M23 73h1M28 73h1M1 72h1M4 72h1M12 72h1M33 72h1M35 72h1M37 72h1M43 72h1M49 72h1M56 72h1M3 71h1M28 71h1M36 71h1M46 71h1M54 71h1M34 70h1M45 70h1M7 69h1M29 69h2M44 69h1M48 69h1M55 69h1M0 68h1M21 68h1M45 68h1M53 68h1M1 67h1M3 67h2M22 67h1M29 67h1M35 67h1M44 67h1M52 67h1M9 66h2M12 66h1M15 66h2M37 66h2M52 66h1M54 66h1M10 65h1M12 65h1M15 65h1M22 65h2M33 65h1M39 65h2M47 65h2M50 65h1M12 64h1M16 64h1M27 64h1M29 64h1M31 64h1M50 64h1M40 63h2M3 62h1M7 62h1M17 62h1M46 62h1M49 62h1M33 61h1M36 61h1M38 61h2M43 61h1M48 61h1M1 60h1M6 60h1M13 60h1M22 60h1M34 60h1M41 60h4M46 60h1M49 60h1M56 60h1M3 59h1M6 59h2M34 59h1M54 59h1M1 58h1M6 58h1M8 58h1M11 58h1M22 58h1M39 58h1M49 58h1M4 57h1M10 57h1M22 57h1M22 56h1M27 56h1M36 56h1M41 56h1M35 55h1M37 55h1M7 54h2M15 54h1M39 54h1M43 54h1M51 54h1M0 53h1M40 53h1M49 53h1M54 53h1M5 52h1M10 52h1M38 52h1M49 52h1M7 51h1M11 51h1M27 51h1M31 51h1M33 51h1M39 51h1M43 51h1M45 51h1M10 50h2M13 50h1M40 50h2M54 50h1M0 49h1M7 49h1M11 49h1M13 49h1M25 49h1M31 49h1M41 49h2M47 49h1M14 48h1M19 48h1M22 48h1M25 48h1M38 48h1M43 48h1M45 48h1M49 48h1M0 47h1M7 47h1M14 47h1M52 47h1M13 46h1M24 46h1M30 46h1M38 46h1M47 46h1M53 46h1M55 46h1M2 45h1M4 45h1M25 45h1M41 45h1M51 45h1M5 44h2M10 44h2M14 44h1M16 44h1M22 44h1M33 44h1M48 44h1M50 44h1M54 44h2M0 43h1M20 43h1M23 43h1M29 43h1M40 43h1M42 43h1M21 42h2M37 42h1M46 42h1M21 41h1M41 41h1M1 40h1M3 40h1M14 40h1M40 40h1M13 39h1M15 39h1M18 39h1M52 39h1M17 38h2M26 38h1M41 38h1M47 38h1M53 38h1M25 37h1M37 37h1M17 36h1M29 36h2M50 36h1M24 35h1M29 35h1M39 35h1M7 34h1M11 34h1M21 34h1M28 34h1M35 34h1M41 34h1M53 34h1M56 34h1M21 33h1M26 33h1M45 33h1M50 33h4M1 32h1M11 32h1M26 32h1M29 32h1M34 32h1M51 32h1M10 31h1M0 30h1M2 30h1M6 30h1M10 30h1M33 30h1M0 29h1M24 29h1M28 29h1M38 29h1M8 28h1M43 28h1M47 28h1M33 27h1M38 27h1M52 27h1M4 26h1M23 26h2M52 26h2M18 25h1M29 25h1M39 25h1M41 24h1M43 24h1M31 23h1M37 23h3M42 23h1M46 23h1M3 22h1M29 22h1M31 22h2M53 22h1M2 21h1M22 21h1M27 21h2M31 21h1M36 21h1M53 21h1M4 20h1M9 20h1M13 20h1M17 20h2M31 20h1M33 20h2M36 20h1M2 19h1M18 19h1M28 19h1M37 19h1M42 19h1M54 19h1M7 18h1M19 18h1M40 18h1M54 18h1M6 17h1M22 17h2M40 17h2M50 17h1M15 16h1M22 16h1M29 16h1M37 16h1M50 16h1M19 15h2M27 15h1M31 15h2M36 15h1M47 15h1M49 15h1M54 15h2M0 14h1M39 14h2M12 13h1M31 13h1M54 13h1M28 12h1M34 12h1M48 12h1M21 11h1M28 11h1M42 11h1M8 10h1M24 10h1M29 10h3M33 10h1M23 9h2M53 9h1M0 8h1M20 8h1M24 8h1M13 7h1M21 7h1M24 7h2M34 7h2M44 7h1M47 7h1M51 7h1M4 6h1M6 6h1M9 6h1M11 6h1M20 6h1M32 6h1M35 6h3M46 6h1M50 6h1M52 6h1M33 5h2M52 5h1M55 5h1M9 4h4M35 4h1M4 3h3M56 3h1M26 2h2M44 2h1M0 1h1M16 1h1M30 1h1M44 1h1M46 1h1M54 1h1M3 0h1M14 0h1M20 0h1M24 0h4M51 0h2M55 0h1"/>
<path stroke="#00f" d="M14 488h1M16 488h1M14 487h1M22 486h1M51 485h2M14 482h1M48 482h1M49 481h1M52 481h1M17 480h1M1 479h1M13 479h1M51 479h1M8 478h1M20 478h1M17 477h1M20 477h1M48 475h2M55 475h1M20 474h1M35 473h1M49 473h1M53 473h1M44 472h1M47 472h1M20 471h1M44 469h1M13 468h1M35 468h1M44 468h1M46 467h1M10 466h1M25 466h1M48 466h1M56 466h1M18 465h1M1 464h1M3 464h1M20 464h1M37 464h1M2 463h1M14 461h1M21 461h1M33 461h1M35 461h1M13 460h1M21 460h1M33 460h1M42 460h1M0 459h1M2 459h1M13 459h1M30 459h1M52 459h1M0 458h1M30 458h1M9 457h1M16 457h2M23 457h1M31 457h1M55 457h1M3 456h1M9 456h1M23 456h1M9 455h1M14 455h1M16 455h1M44 455h1M47 455h1M8 454h1M18 454h1M45 454h1M21 453h1M23 453h1M55 453h1M0 452h1M4 452h1M21 452h1M34 452h1M37 452h2M8 451h1M21 451h1M31 451h1M38 451h1M2 450h2M38 450h1M43 450h1M2 449h1M21 449h1M36 449h1M42 449h2M54 449h1M21 448h3M33 448h1M42 448h2M2 447h1M4 447h1M35 447h3M43 447h1M56 447h1M3 445h1M36 445h1M50 445h1M8 444h1M26 444h1M30 444h2M36 444h2M49 444h1M12 443h1M21 443h1M26 443h1M4 442h1M31 442h1M33 442h1M56 442h1M2 441h1M16 441h1M30 441h1M47 441h1M1 440h1M15 440h1M23 440h1M0 439h1M4 439h1M20 439h1M31 439h1M10 438h1M21 438h2M0 437h2M36 437h1M47 437h1M51 437h1M2 436h1M32 436h1M48 436h4M0 435h1M4 435h1M9 435h1M17 435h1M51 435h1M53 435h1M1 434h1M3 434h2M9 434h1M40 434h2M34 433h1M54 433h1M1 432h1M3 432h1M15 432h1M22 432h2M25 432h1M39 432h1M2 431h1M20 431h1M46 431h1M52 431h1M10 430h1M15 430h1M34 430h1M38 430h1M48 430h1M11 429h1M21 429h2M25 429h1M2 428h1M6 428h2M39 428h1M43 428h1M46 428h1M2 427h2M37 427h1M45 427h1M2 426h1M14 426h1M24 426h2M34 426h1M36 426h1M38 426h1M41 426h3M19 425h1M23 425h1M45 425h1M50 425h1M54 425h1M3 424h1M33 424h2M52 424h1M54 424h1M52 423h1M35 422h1M38 422h1M52 422h1M7 421h1M7 420h1M30 420h1M37 420h2M40 420h1M7 419h1M26 419h2M29 419h4M38 419h1M40 419h1M10 418h1M27 418h2M4 417h1M23 417h1M41 417h1M47 417h1M53 417h1M3 416h1M5 416h1M45 416h1M52 416h1M54 416h1M3 415h2M13 415h1M17 415h2M39 415h2M53 415h1M7 414h1M42 414h1M45 414h1M50 414h1M2 413h1M20 413h1M22 413h1M29 413h1M33 413h1M42 413h1M2 412h1M17 412h1M19 412h1M25 412h1M42 412h1M45 412h1M49 412h1M8 411h1M13 411h1M19 411h1M45 411h1M48 411h1M54 411h1M0 410h1M7 410h1M11 410h1M22 410h1M47 410h1M9 409h1M14 409h2M41 409h1M43 409h1M49 409h1M56 409h1M20 408h1M22 408h1M38 408h1M48 408h1M5 407h2M36 407h1M41 407h1M43 407h1M7 406h1M20 406h1M28 406h1M35 406h1M46 406h1M56 406h1M40 405h1M8 404h1M16 404h1M20 404h1M36 404h1M51 404h1M12 403h1M17 403h1M26 403h2M16 402h2M43 402h1M51 402h1M0 401h1M7 401h1M15 401h1M29 401h1M33 401h1M40 401h2M43 401h1M52 401h1M55 401h1M11 400h1M13 400h1M26 400h1M32 400h1M48 400h1M5 399h1M13 399h1M18 399h1M30 399h1M53 399h1M0 398h1M13 398h1M25 398h1M41 398h2M1 397h1M9 397h1M34 397h1M56 397h1M9 396h1M40 396h1M47 396h1M54 396h1M0 395h1M11 395h1M38 395h1M46 395h1M49 395h1M30 394h1M32 394h1M40 394h1M55 394h1M2 393h1M13 393h1M21 393h1M23 393h1M29 393h3M33 393h1M35 393h1M50 393h1M34 392h1M41 392h1M10 391h3M23 391h1M28 391h1M42 391h1M2 390h1M4 390h1M10 390h1M27 390h1M37 390h1M39 390h1M52 390h1M1 389h1M13 389h2M21 389h1M30 389h3M2 388h1M5 388h2M22 388h1M27 388h1M32 388h1M42 388h1M56 388h1M4 387h1M9 387h1M18 387h1M33 387h1M35 387h1M40 387h1M1 386h3M27 386h1M34 386h1M44 386h1M6 385h1M27 385h1M32 385h1M53 385h1M54 384h1M11 383h1M16 383h1M22 383h2M29 383h2M40 383h2M49 383h1M13 382h1M18 382h1M30 382h1M36 382h1M38 382h1M47 382h1M25 381h1M27 381h1M43 381h1M46 381h1M50 381h1M0 380h1M5 380h1M34 380h1M56 380h1M0 379h1M6 379h1M8 379h1M14 379h1M21 379h1M38 379h1M45 379h1M51 379h1M21 378h1M33 378h1M46 378h1M52 378h1M0 377h1M33 377h2M37 377h1M43 377h1M53 377h1M10 376h1M37 376h1M41 376h1M52 376h1M55 376h1M6 375h1M29 375h1M33 375h1M0 374h1M6 374h1M14 374h1M35 374h1M37 374h1M44 374h1M53 374h1M0 373h1M10 373h1M18 373h2M28 373h1M37 373h1M8 372h2M19 372h1M49 372h2M2 371h1M7 371h1M17 371h1M43 371h1M46 371h1M1 370h1M3 370h1M18 370h1M27 370h2M3 369h1M6 369h1M18 369h1M24 369h1M33 369h2M39 369h1M52 369h2M3 368h2M8 368h1M15 368h1M27 368h1M12 367h1M35 367h1M39 367h1M46 367h1M4 366h3M12 366h1M33 366h1M43 366h2M5 365h1M22 365h1M38 365h1M23 364h1M28 364h2M5 363h1M18 363h1M23 363h2M47 363h1M21 362h1M32 362h1M35 362h1M40 362h1M45 362h1M2 361h1M12 361h1M16 361h1M27 361h1M41 361h1M11 360h2M35 360h1M54 360h1M12 359h1M37 359h1M41 359h1M1 358h1M17 358h1M20 358h1M55 358h1M6 357h1M12 357h1M27 357h1M33 357h1M42 357h1M45 357h1M1 356h1M7 356h1M18 356h1M23 356h1M26 356h1M12 355h1M27 355h1M30 355h1M40 355h1M19 354h2M32 354h1M35 354h1M43 354h1M50 354h1M0 353h1M35 353h1M39 353h1M54 353h2M4 352h1M21 352h1M40 352h1M29 351h1M0 350h1M4 350h1M14 350h1M17 350h1M35 350h1M3 349h1M5 349h1M25 349h1M29 349h2M46 349h1M49 349h1M44 348h1M3 347h1M7 347h1M12 347h1M14 347h2M32 347h1M43 347h1M48 347h1M4 346h2M30 346h1M36 346h1M42 346h1M37 345h1M42 345h2M17 344h1M24 344h1M37 344h1M41 344h1M44 344h1M55 344h1M4 343h1M15 343h1M25 343h1M30 343h1M52 343h1M7 342h2M13 342h1M28 342h2M38 342h1M42 342h1M3 341h1M14 341h1M19 341h1M51 341h1M4 340h1M15 340h1M32 340h2M47 340h1M3 339h1M7 339h1M15 339h1M27 339h3M31 339h1M34 339h1M36 339h1M40 339h1M46 339h1M27 338h1M29 338h1M31 338h1M39 338h1M47 338h1M12 337h1M30 337h1M40 337h1M7 336h1M48 336h1M29 335h1M32 335h1M37 335h1M39 335h2M45 335h1M2 334h2M10 334h1M12 334h1M14 334h1M21 334h1M26 334h1M37 334h2M2 333h1M12 333h1M39 333h1M46 333h1M1 332h1M16 332h1M28 332h1M47 332h1M52 332h1M19 331h1M28 331h1M39 331h1M30 330h1M34 330h1M44 330h2M23 329h1M31 329h1M12 328h1M21 328h1M50 328h1M27 327h1M1 326h1M29 326h1M22 325h1M36 324h1M46 324h1M6 323h1M13 323h1M19 323h1M35 323h1M47 323h1M53 323h2M7 322h1M10 322h1M16 322h2M37 322h1M42 322h1M52 322h1M2 321h2M7 321h1M24 321h1M28 321h1M34 321h2M1 320h1M6 320h1M11 320h1M13 320h1M28 320h1M1 319h1M4 319h1M9 319h1M15 319h2M30 319h1M35 319h1M37 319h1M51 319h1M0 318h1M11 318h1M22 318h3M44 318h1M2 317h1M15 317h1M24 317h2M39 317h1M42 317h1M46 317h1M56 317h1M13 316h1M40 316h1M42 316h2M5 315h1M33 315h1M35 315h1M38 315h1M6 314h1M53 314h1M10 313h1M17 313h1M33 313h1M52 313h1M54 313h1M56 313h1M19 312h1M32 312h1M43 312h1M1 311h1M19 311h1M38 311h2M46 311h2M40 310h1M43 310h1M46 310h1M53 310h1M1 309h1M5 309h1M7 309h1M9 309h2M13 309h2M20 309h1M41 309h1M43 309h1M50 309h2M56 309h1M3 308h1M14 308h1M16 308h2M20 308h2M43 308h2M47 308h1M51 308h1M10 307h1M23 307h1M47 307h1M9 306h1M21 306h1M29 306h1M43 306h2M52 306h1M25 305h1M31 305h1M40 305h2M53 305h2M12 304h1M22 304h1M24 304h1M38 304h1M41 304h1M48 304h2M38 303h1M43 303h1M40 302h1M42 302h1M6 301h1M11 301h1M21 301h1M26 301h1M46 301h2M10 300h1M15 300h1M21 300h1M29 300h1M52 300h1M9 299h1M22 299h1M27 299h1M33 299h1M39 299h1M41 299h1M3 298h1M7 298h1M11 298h1M13 298h1M28 298h1M38 298h1M40 298h1M48 298h1M10 297h2M21 297h1M28 297h1M32 297h1M34 297h1M46 297h1M13 296h1M33 296h2M38 296h1M21 295h1M23 295h1M34 295h1M22 294h1M26 294h1M32 294h1M50 294h1M3 293h1M15 293h1M17 293h1M22 293h1M24 293h1M32 293h1M34 293h1M42 293h2M47 293h1M6 292h1M14 292h1M56 292h1M0 291h1M12 291h1M36 291h1M41 291h1M45 291h1M51 291h1M42 290h1M0 289h1M18 289h1M27 289h1M38 289h1M56 289h1M1 288h1M21 288h1M40 288h1M51 288h1M2 287h1M19 287h1M31 287h1M43 287h1M3 286h1M6 286h1M22 286h1M24 286h1M36 286h2M40 286h1M44 286h1M54 286h1M5 285h2M32 285h1M49 285h1M31 284h1M38 284h2M34 283h2M45 283h1M14 282h2M22 282h1M31 282h1M51 282h1M6 281h1M23 281h1M36 281h2M27 280h1M31 280h2M40 280h1M4 279h1M7 279h1M28 279h1M30 279h2M36 279h2M28 278h1M2 277h1M31 277h1M33 277h1M51 277h1M53 277h1M2 276h2M9 276h1M31 276h2M7 275h2M25 275h1M27 275h1M2 274h1M12 274h1M24 274h1M41 274h1M11 273h1M13 273h1M16 273h1M38 273h1M40 273h1M9 272h1M17 272h1M39 272h1M43 272h1M46 272h1M30 271h1M10 270h1M24 270h1M40 270h1M44 270h1M21 269h1M41 269h1M5 268h1M19 267h1M30 267h2M39 267h1M10 266h1M22 266h1M35 266h1M51 266h2M56 266h1M32 265h1M38 264h1M41 264h2M5 263h1M11 263h1M17 263h1M30 263h1M5 262h1M7 262h1M11 262h1M29 262h1M36 262h1M50 262h1M0 261h2M4 261h1M21 261h1M49 261h1M4 260h1M30 260h1M35 260h1M42 260h1M54 260h2M28 259h1M45 259h2M29 258h1M32 258h1M38 258h1M51 258h1M17 257h1M27 257h1M46 257h1M6 256h4M22 256h1M28 256h1M30 256h1M36 256h1M54 256h2M10 255h1M20 255h2M27 255h1M37 255h1M44 255h1M47 255h1M2 254h1M17 254h1M39 254h1M45 254h1M20 253h1M15 252h1M18 252h1M7 251h1M9 251h1M16 251h2M25 251h1M27 251h1M39 251h1M45 251h1M21 250h2M24 250h2M40 250h1M19 249h3M23 249h1M27 249h1M38 249h2M45 249h1M24 248h1M13 247h1M39 247h1M14 246h1M35 246h1M38 246h1M55 246h2M3 245h1M18 245h1M22 245h1M24 245h1M29 245h1M45 245h1M49 245h1M24 244h1M45 244h1M48 244h1M52 244h1M52 242h1M29 241h1M47 241h1M52 241h1M11 239h2M30 239h1M33 239h1M39 239h1M51 239h2M34 238h2M39 238h1M10 237h2M30 237h1M42 237h1M55 237h1M21 236h1M28 236h1M34 236h1M55 236h2M23 235h1M29 235h1M42 235h1M45 235h1M15 234h1M27 234h1M38 234h1M4 233h1M7 233h1M21 233h1M46 233h1M49 233h1M21 232h1M24 232h1M46 232h1M14 231h1M25 231h1M33 231h3M4 230h1M28 230h1M39 230h1M44 230h1M48 230h1M20 229h1M27 229h1M36 229h1M39 229h1M55 229h1M4 228h1M11 228h1M17 228h1M21 228h1M25 228h1M36 228h1M43 228h2M46 228h1M50 228h1M4 227h1M24 227h1M26 227h1M38 227h1M44 227h1M51 227h1M5 226h1M12 226h1M18 226h1M22 226h1M27 226h1M46 226h1M8 225h1M11 225h1M24 225h2M35 225h1M39 225h1M44 225h1M53 225h1M13 224h1M18 224h1M32 224h2M38 224h1M44 224h1M55 224h1M4 223h1M8 223h1M13 223h1M24 223h1M29 223h1M34 223h1M39 223h1M46 223h1M1 222h1M23 222h1M35 222h1M4 221h1M1 220h1M6 220h1M21 220h1M24 220h1M40 220h1M7 219h1M14 219h1M32 219h1M37 219h1M6 218h1M4 217h1M7 217h1M28 217h1M52 217h1M36 216h1M43 216h1M4 215h2M10 215h2M13 215h1M48 215h1M9 214h1M26 214h1M37 214h1M43 214h1M45 214h1M47 214h1M51 214h1M7 213h1M24 213h1M30 213h1M30 212h1M33 212h1M6 211h1M49 211h1M55 211h2M25 210h1M44 210h2M2 209h1M6 209h2M25 209h2M7 208h2M16 208h1M24 208h1M26 208h2M31 208h1M34 208h1M40 208h1M8 207h1M11 207h1M25 207h1M31 207h1M33 207h1M40 207h1M21 206h1M26 206h1M28 206h1M33 206h1M52 206h1M5 205h1M15 204h1M17 204h1M29 204h1M38 204h1M50 204h2M55 204h1M2 203h1M19 203h1M21 203h2M33 203h2M38 203h1M2 202h1M5 202h1M11 202h1M29 202h1M37 202h2M41 202h2M10 201h1M36 201h1M39 201h1M41 201h2M15 200h1M24 200h1M37 200h1M44 200h1M50 200h1M4 199h2M9 199h1M13 199h1M25 199h3M31 199h1M45 199h1M3 198h1M7 198h1M10 198h1M32 198h1M42 198h1M5 197h1M38 197h2M42 197h1M29 196h2M43 196h1M51 196h1M45 195h1M51 195h1M1 194h1M6 194h1M44 194h1M49 194h1M35 193h1M20 192h1M28 192h1M38 192h2M9 191h1M12 191h1M42 191h1M17 190h1M36 190h1M40 190h2M45 190h1M56 190h1M6 189h1M10 189h1M32 189h1M39 189h1M53 189h1M13 188h1M38 188h1M42 188h1M32 187h3M15 186h1M17 186h1M0 185h1M21 185h1M23 185h1M43 185h1M2 184h1M20 184h1M48 184h2M41 183h1M35 182h4M41 182h1M27 181h1M40 181h1M55 181h1M0 180h1M2 180h1M21 180h1M29 180h1M32 180h1M35 180h1M4 179h1M39 179h1M53 179h1M40 178h1M45 178h1M32 177h1M34 177h1M3 176h1M3 175h1M34 175h1M29 174h2M54 173h1M33 172h2M44 172h1M19 171h1M42 171h1M0 170h1M12 170h1M16 170h1M18 170h1M26 170h1M45 170h1M5 169h1M7 169h1M26 169h2M44 169h1M48 169h1M4 168h1M25 168h2M28 168h1M39 168h1M44 168h2M17 167h1M32 167h1M7 166h1M10 166h2M44 166h2M48 166h1M2 165h1M17 165h1M27 165h1M47 165h1M2 164h2M12 164h1M18 164h1M47 164h1M6 163h1M34 163h1M2 162h1M7 162h2M10 162h1M30 162h1M33 162h1M13 161h1M28 161h1M42 161h1M26 160h1M30 159h1M7 158h1M10 158h1M30 158h1M38 158h1M48 158h1M9 157h2M37 157h1M38 156h1M6 155h1M39 155h1M44 155h1M46 155h1M13 154h1M17 154h1M27 154h1M36 154h1M43 154h1M46 154h1M6 153h2M12 153h1M35 153h1M54 153h1M22 152h2M54 152h1M28 151h2M34 151h1M42 151h1M46 151h1M2 150h2M6 150h1M13 150h1M25 150h1M32 150h1M0 149h1M9 149h1M14 149h1M24 149h1M50 149h1M56 149h1M3 148h1M25 148h1M32 148h1M12 147h1M25 147h1M43 147h1M45 146h1M30 145h1M14 144h1M21 144h1M26 144h1M28 144h1M30 144h1M36 144h1M6 143h1M30 143h1M32 143h1M45 143h1M0 142h1M16 142h1M23 142h3M37 142h1M47 142h1M8 141h1M12 141h1M16 141h1M40 141h1M0 140h1M9 140h1M34 140h1M56 140h1M34 139h1M52 138h1M5 137h1M10 137h1M25 137h1M36 137h1M45 137h2M20 136h1M27 136h1M45 136h1M12 135h2M26 135h1M28 135h1M41 134h1M52 134h1M2 133h1M10 133h1M23 133h1M45 133h1M51 133h1M55 133h2M1 132h1M27 132h1M45 132h1M9 131h1M16 131h1M26 131h1M29 131h1M32 131h1M35 131h1M37 131h1M12 130h1M19 130h1M34 130h1M56 130h1M9 129h1M27 129h1M29 129h1M36 129h2M53 129h1M17 128h1M20 128h1M22 128h1M36 128h1M44 128h1M9 127h1M39 127h1M44 127h1M50 127h1M3 126h1M6 126h1M51 126h1M54 126h2M5 125h1M9 125h1M25 125h1M34 125h1M43 125h1M10 124h1M20 124h1M54 124h1M8 123h1M10 123h1M12 123h2M49 123h1M52 122h1M1 121h1M7 121h2M12 121h1M27 121h1M38 121h1M8 120h1M12 120h1M28 120h1M38 120h1M46 120h1M11 119h3M37 119h2M1 118h1M45 118h1M1 117h1M22 117h1M1 116h1M23 116h2M34 116h1M45 116h1M48 116h1M1 115h2M14 115h1M24 115h1M26 115h1M42 115h1M50 115h1M54 115h1M2 114h2M9 114h1M30 114h1M37 114h1M42 114h1M50 114h1M24 113h1M49 113h1M53 113h1M22 112h1M24 112h1M30 112h1M11 111h1M28 111h1M53 111h1M0 110h2M10 110h1M13 110h1M29 110h1M36 110h2M32 109h1M1 108h1M11 108h1M15 108h1M30 108h1M42 108h2M0 107h1M29 107h1M35 107h2M42 107h1M12 106h1M22 106h1M26 106h1M29 106h1M32 106h1M7 105h1M40 105h2M3 104h1M17 104h1M24 104h1M33 104h1M35 104h1M40 104h1M48 104h1M6 103h2M11 103h1M30 103h1M50 103h1M5 102h1M44 102h2M4 101h1M18 101h1M24 101h1M30 101h1M41 101h1M52 101h1M54 101h1M23 99h3M39 99h1M12 98h1M56 98h1M47 97h2M3 96h1M46 95h1M2 93h1M18 93h1M24 93h1M32 91h1M14 90h1M16 90h2M41 90h1M24 89h1M27 89h1M39 89h1M18 88h1M37 88h1M55 88h1M5 87h1M24 87h1M0 86h1M5 86h1M28 86h1M38 86h1M48 86h1M55 86h1M14 85h1M46 85h1M1 84h1M7 84h1M41 84h1M44 84h1M52 84h1M1 83h1M6 83h1M24 83h1M28 83h1M43 83h1M1 82h1M9 81h1M38 81h1M45 81h1M20 80h1M49 80h1M0 79h1M3 79h1M37 79h1M40 79h1M44 79h1M46 79h1M48 79h1M8 78h1M48 78h1M3 77h1M19 77h1M21 77h2M38 77h1M5 76h1M19 76h1M28 76h1M32 76h1M45 76h1M50 76h1M29 75h1M31 75h1M2 74h1M38 74h1M43 74h1M10 73h1M21 73h1M33 73h1M0 72h1M3 72h1M16 72h1M18 72h1M23 72h1M28 72h1M39 72h1M41 72h2M10 71h1M22 71h1M24 71h1M29 71h1M32 71h1M35 71h1M43 71h1M30 70h1M46 70h1M54 70h1M0 69h1M49 69h1M28 68h1M35 68h1M15 67h1M28 67h1M40 67h2M43 67h1M30 66h1M55 66h1M8 65h1M11 65h1M16 65h1M28 65h1M32 65h1M35 65h1M49 65h1M11 64h1M32 64h1M13 63h1M15 63h1M31 63h1M49 63h1M15 62h1M44 62h1M4 61h1M23 61h1M26 61h1M37 61h1M41 61h1M50 61h1M55 61h1M7 60h1M9 60h2M17 60h1M23 60h1M51 60h1M55 60h1M9 59h1M22 59h1M0 58h1M37 58h1M44 58h1M46 58h1M25 57h1M43 57h2M50 56h1M5 55h1M8 55h2M29 55h1M36 55h1M6 54h1M9 54h1M11 54h1M30 54h1M40 54h1M19 53h1M30 53h1M47 53h1M55 53h1M0 51h1M12 51h1M24 51h1M26 51h1M40 51h1M7 50h1M31 50h1M46 50h2M55 50h1M21 49h1M24 49h1M12 48h2M15 48h1M34 48h1M42 48h1M3 47h1M15 47h1M23 47h1M25 47h1M31 47h1M38 47h1M46 47h1M53 47h1M9 46h1M21 46h2M37 46h1M41 46h1M49 46h2M54 46h1M11 45h1M29 45h1M36 45h1M39 45h2M52 45h1M55 45h1M3 44h1M37 44h1M1 43h1M4 43h1M5 42h1M25 42h1M36 42h1M40 42h1M22 41h1M37 41h1M39 41h1M6 40h1M16 40h1M20 40h1M41 40h2M48 40h1M1 39h1M12 39h1M27 39h1M29 39h1M44 39h1M46 39h1M2 38h1M48 38h1M10 37h1M12 37h1M6 36h1M7 35h1M35 35h1M27 34h1M32 34h1M47 34h1M4 33h1M11 33h1M13 33h1M18 33h1M31 33h2M44 33h1M13 32h1M21 32h1M31 32h2M7 31h1M38 31h1M7 30h1M43 30h1M46 30h1M27 29h1M29 28h1M37 28h2M22 27h2M25 27h1M30 27h1M55 27h1M3 26h1M12 26h1M19 26h1M21 26h1M40 26h1M4 25h1M38 25h1M45 25h1M32 24h1M3 23h1M11 23h1M34 23h2M30 22h1M35 22h1M37 22h1M44 22h1M29 21h2M32 21h1M2 20h1M11 20h1M32 20h1M40 20h2M50 20h1M1 19h1M32 19h1M2 18h1M9 18h1M37 18h1M39 18h1M41 18h2M53 18h1M8 17h1M10 17h1M15 17h1M24 17h1M35 17h1M45 17h1M56 17h1M18 16h1M25 16h2M45 16h1M33 15h1M27 14h1M29 13h2M55 13h1M6 12h1M20 12h1M23 12h5M36 12h1M49 12h1M55 12h2M11 11h1M23 11h1M43 11h1M48 11h1M14 10h1M21 10h1M25 10h1M32 10h1M56 10h1M32 9h2M35 9h1M43 8h1M0 7h1M9 7h1M20 7h1M37 7h1M41 7h1M43 7h1M45 7h2M5 6h1M10 6h1M14 6h1M30 6h1M39 6h1M47 6h1M51 6h1M9 5h2M29 5h1M48 5h1M33 4h1M38 3h1M46 3h1M49 3h1M28 2h1M34 2h1M36 2h1M43 2h1M46 2h1M48 2h1M1 1h1M18 1h1M49 1h1M53 1h1M32 0h1M34 0h1M36 0h1M44 0h1"/>
<path stroke="#000aff" d="M13 488h1M52 486h1M53 485h1M33 484h1M48 484h1M14 483h1M33 483h1M48 483h1M54 483h1M13 482h1M15 481h1M17 481h1M14 480h1M35 480h1M50 480h1M35 478h1M50 478h1M13 476h2M53 476h2M38 475h1M10 474h1M33 474h1M52 474h1M43 473h1M45 473h1M34 470h1M8 469h1M24 469h1M45 469h3M14 468h1M16 468h1M34 468h1M46 468h1M50 467h1M17 466h1M50 466h1M12 465h1M16 465h1M15 463h1M16 460h1M15 459h1M23 459h1M43 459h1M46 459h1M48 459h1M15 458h1M23 458h1M44 458h1M19 457h2M1 456h1M54 456h1M33 455h1M37 455h1M43 455h1M10 454h1M37 454h1M47 454h1M22 453h1M51 453h1M15 452h1M19 452h1M51 452h1M48 450h4M3 449h1M8 449h1M1 448h1M18 448h1M24 448h1M3 447h1M6 447h1M21 447h3M30 447h2M55 447h1M6 446h1M30 446h1M44 446h1M48 446h1M4 445h1M22 445h1M30 445h2M55 445h1M23 444h1M41 444h2M3 443h1M11 443h1M31 443h1M40 443h1M1 442h1M6 442h1M18 441h1M33 441h2M19 440h2M40 440h1M52 440h1M26 439h1M1 438h1M4 438h1M15 438h1M11 437h1M22 437h2M44 437h1M0 436h1M11 436h1M23 436h1M37 436h1M11 435h2M14 435h2M38 435h1M41 435h1M54 435h1M12 434h1M28 434h1M22 433h1M35 433h1M39 433h1M0 432h1M8 432h1M46 432h1M9 431h1M31 430h1M24 429h1M27 429h1M37 429h1M39 429h1M47 429h2M5 428h1M35 428h1M38 428h1M0 427h1M23 427h1M30 427h1M4 426h1M8 426h1M20 426h1M27 426h1M39 426h1M56 426h1M4 425h2M12 425h1M28 425h2M32 425h3M55 425h1M2 424h1M13 424h1M30 424h1M6 423h2M35 423h1M37 423h1M55 423h1M6 422h2M26 422h1M34 422h1M55 422h1M24 421h1M26 421h2M38 421h1M3 420h1M5 420h1M24 420h1M29 420h1M49 420h1M6 419h1M10 419h1M28 419h1M39 419h1M4 418h1M7 418h1M11 418h1M21 418h1M29 418h1M38 418h1M22 417h1M24 417h1M38 417h1M46 417h1M6 416h1M16 416h1M44 415h1M6 414h1M9 414h1M17 414h1M34 414h2M44 414h1M5 413h2M9 413h1M21 413h1M23 413h1M25 413h1M47 413h1M4 412h1M32 412h1M37 412h2M41 412h1M44 412h1M6 411h1M9 411h1M17 411h1M22 411h1M41 411h1M25 410h1M30 410h1M40 410h1M6 409h2M11 409h2M54 409h1M11 408h1M37 408h1M44 408h1M51 408h1M54 408h1M4 407h1M30 407h1M40 407h1M51 407h1M9 406h1M22 406h1M31 406h1M36 406h1M40 406h1M8 405h1M22 404h1M40 404h1M1 403h1M23 403h2M0 402h1M20 402h1M5 401h1M12 401h1M16 401h1M20 401h1M37 401h1M44 401h1M3 400h1M49 400h1M39 399h1M52 399h1M4 398h1M9 398h1M33 398h1M35 398h1M0 397h1M6 397h1M31 397h1M8 396h1M11 396h1M21 396h1M43 396h1M56 396h1M3 395h1M42 395h1M47 395h2M53 395h1M1 394h1M11 394h1M5 393h1M11 393h2M22 393h1M28 393h1M43 393h1M49 393h1M26 392h1M30 392h1M3 390h1M5 390h1M20 390h2M44 390h1M3 388h1M21 388h1M47 388h1M54 388h2M2 387h1M55 387h1M8 386h1M51 386h1M25 385h1M30 385h1M43 385h1M52 385h1M54 385h1M13 384h1M17 384h1M21 384h1M33 384h1M10 383h1M28 383h1M48 383h1M12 382h1M20 382h1M22 382h1M26 382h1M28 382h1M54 382h1M14 381h1M22 381h1M30 381h1M40 381h1M14 380h1M28 380h1M1 379h1M3 379h1M22 379h1M25 379h1M30 379h1M22 378h2M53 378h1M9 377h1M47 377h1M51 377h1M1 376h2M21 376h1M29 376h1M32 376h1M46 376h1M56 376h1M9 375h1M28 375h1M39 375h1M43 375h2M5 374h1M9 374h1M40 374h1M50 374h3M11 373h1M38 373h1M49 373h2M22 372h1M30 372h1M32 372h1M15 371h1M19 371h2M28 371h1M37 371h1M4 370h1M8 370h1M25 370h1M11 369h2M23 369h1M35 369h1M51 369h1M0 368h1M24 368h1M31 368h1M43 368h1M8 367h1M11 367h1M27 367h2M30 367h1M34 367h1M2 366h1M15 366h1M41 366h1M4 365h1M37 365h1M3 364h1M12 364h1M54 364h2M1 363h1M11 363h1M15 363h1M35 363h1M38 363h1M9 362h1M28 362h2M39 362h1M39 361h1M3 360h1M28 360h1M53 360h1M6 359h1M13 359h1M36 359h1M40 359h1M46 359h1M48 359h1M50 359h1M12 358h1M26 358h1M2 357h1M24 357h1M43 356h1M47 356h1M49 356h1M55 356h1M6 355h1M10 355h1M24 355h1M26 355h1M44 355h1M49 355h1M56 355h1M7 354h1M21 354h1M48 354h1M52 354h1M5 353h1M12 353h1M16 353h1M34 353h1M43 353h1M51 353h1M56 353h1M17 352h1M44 352h1M1 351h1M7 351h1M9 351h2M16 351h1M20 351h1M24 351h1M36 351h1M41 351h1M46 351h1M15 350h2M33 350h1M26 349h1M50 349h1M52 349h1M9 348h1M12 348h1M29 348h1M6 347h1M33 347h1M39 347h1M52 347h1M9 346h1M26 346h1M52 346h2M3 345h1M29 345h1M11 344h2M26 344h1M39 344h1M40 343h1M45 343h1M47 343h1M2 342h1M4 342h1M41 342h1M45 342h1M1 341h1M13 341h1M22 341h2M37 341h1M45 341h1M3 340h1M17 340h2M52 340h1M9 339h1M21 339h1M35 339h1M5 338h2M11 338h1M24 338h1M28 338h1M42 338h1M49 338h1M37 337h1M8 336h1M22 336h1M31 336h1M47 336h1M51 336h1M3 335h1M12 335h1M9 334h1M30 334h1M36 334h1M40 334h1M29 333h1M44 333h1M45 332h1M51 332h1M17 331h1M27 331h1M30 331h1M42 331h1M24 330h1M31 330h1M35 330h1M15 329h1M32 329h1M16 328h1M25 328h1M36 328h1M47 328h1M53 328h1M8 327h1M15 327h2M31 327h1M18 326h1M30 326h1M0 325h1M7 325h1M27 325h1M37 325h1M42 325h1M0 324h1M5 324h1M11 324h1M21 324h1M18 323h1M24 323h1M43 323h1M55 323h1M12 322h1M19 322h1M41 322h1M46 322h1M37 321h1M40 321h1M48 321h1M0 320h1M5 320h1M9 320h1M24 320h1M0 319h1M7 319h1M23 319h1M4 318h1M8 318h1M26 318h3M36 318h1M0 317h1M16 317h1M30 317h1M36 317h1M44 317h1M54 317h1M34 316h1M37 316h1M9 315h2M12 315h1M4 314h2M27 314h1M42 314h1M54 314h1M4 313h1M6 313h1M8 313h1M25 313h1M45 313h1M7 312h2M26 312h1M41 312h1M46 312h1M48 311h1M19 310h1M52 310h1M25 309h1M30 309h1M33 309h1M37 309h1M40 309h1M42 309h1M12 308h2M15 308h1M22 308h1M27 308h1M36 308h1M52 308h2M46 307h1M6 306h1M13 306h1M17 306h1M22 306h1M24 306h1M30 306h1M34 306h1M36 306h1M47 306h1M7 305h1M14 305h1M22 305h1M36 305h1M46 305h1M11 304h1M17 303h1M21 303h1M30 303h1M35 303h1M47 303h1M17 302h1M25 302h1M39 302h1M45 302h1M4 301h1M25 301h1M38 301h1M4 300h1M9 300h1M1 299h2M20 299h1M23 299h1M31 299h2M34 299h2M38 299h1M45 298h1M23 297h1M29 297h1M39 297h1M43 297h1M45 297h1M10 296h1M15 296h1M35 296h1M45 296h2M33 295h1M47 295h1M28 294h1M6 293h1M39 293h1M4 292h1M11 292h2M54 292h1M2 291h1M5 291h1M10 291h1M37 291h2M46 291h1M54 291h1M56 291h1M6 290h1M19 290h1M30 290h1M38 290h1M41 290h1M53 290h1M1 289h2M24 289h1M32 289h1M44 289h2M32 288h1M49 288h1M30 287h1M37 287h1M40 287h1M50 287h2M7 286h1M18 286h1M41 286h1M14 285h1M25 285h1M46 285h1M51 285h1M34 284h1M55 284h1M26 283h1M31 283h2M38 283h1M7 282h1M19 282h1M40 282h1M44 282h1M50 282h1M41 279h1M4 278h1M9 278h1M32 278h1M46 278h1M1 277h1M8 277h1M36 277h1M30 276h1M40 276h1M28 275h1M43 275h1M0 274h1M4 274h1M26 274h1M30 274h1M32 274h1M12 273h1M36 273h1M20 272h1M22 272h1M28 272h1M44 272h2M7 271h1M24 271h1M28 271h1M34 271h1M28 270h1M30 270h1M6 269h2M34 269h2M6 268h1M9 268h2M15 268h1M34 268h1M3 267h1M7 267h1M9 267h1M27 267h1M29 266h1M41 266h1M31 265h1M29 264h1M37 264h1M8 263h1M32 263h1M37 263h1M42 263h1M55 263h1M8 262h1M10 262h1M28 262h1M29 261h2M46 261h1M19 260h1M36 260h1M41 259h1M26 258h1M34 258h1M36 258h1M42 258h1M52 258h1M6 257h1M20 257h1M26 257h1M48 257h1M23 256h1M26 256h1M33 256h1M44 256h1M35 255h1M41 255h1M45 255h1M3 254h1M11 254h1M26 254h1M34 254h1M41 254h1M50 254h1M39 253h1M41 253h1M45 253h1M56 253h1M4 252h1M26 251h1M36 251h1M6 250h2M11 250h1M29 250h1M32 250h1M39 250h1M17 249h1M22 249h1M37 249h1M51 249h1M9 248h1M42 248h3M27 247h2M37 247h1M3 246h1M13 246h1M23 246h2M50 246h1M6 245h1M12 245h2M21 245h1M25 245h1M28 245h1M32 245h1M53 245h1M55 245h1M9 244h1M21 244h1M32 244h2M40 244h1M42 244h2M9 243h1M39 243h1M37 242h2M44 242h1M46 242h1M39 241h1M23 240h1M35 240h1M39 240h1M10 239h1M40 239h2M45 239h1M47 239h1M11 238h1M42 238h1M44 238h1M51 238h1M21 237h1M6 236h1M24 236h1M42 236h1M16 234h1M39 234h1M18 233h1M22 233h1M29 233h1M25 232h2M29 232h1M37 231h1M10 230h1M5 229h1M29 229h2M33 229h1M49 229h1M16 228h1M39 228h1M42 228h1M3 227h1M2 226h1M49 226h1M9 225h1M18 225h1M20 225h2M34 225h1M38 225h1M55 225h1M56 224h1M9 223h1M12 223h1M33 223h1M49 223h1M12 222h1M7 221h1M22 221h1M24 221h1M32 221h1M20 220h1M5 219h1M33 219h2M21 218h1M45 218h2M11 216h1M0 215h1M31 215h1M49 215h1M25 214h1M38 214h2M23 213h1M27 213h1M23 212h1M27 212h1M39 212h1M1 211h1M9 211h1M22 211h1M50 211h2M0 209h1M5 209h1M29 208h1M42 208h1M48 208h1M4 207h2M9 207h1M12 207h1M5 206h1M39 206h1M43 206h1M18 205h1M43 205h1M3 204h1M12 204h1M39 204h2M46 204h1M49 204h1M4 203h1M37 203h1M45 203h1M1 202h1M30 202h1M12 201h1M19 201h1M22 201h1M29 201h1M33 201h1M26 200h1M42 200h1M17 199h1M33 199h1M46 199h1M4 198h1M40 198h1M45 198h1M12 197h1M28 197h3M46 197h2M4 196h1M13 196h1M24 196h2M38 196h1M50 195h1M5 194h1M7 192h1M34 192h1M46 192h2M10 191h1M28 191h1M34 191h1M27 190h1M35 190h1M42 190h1M47 190h1M4 189h2M7 189h1M11 189h1M44 189h1M0 188h1M12 188h1M26 188h1M32 188h1M36 188h2M0 187h1M16 187h1M27 187h1M30 187h1M35 187h1M44 187h1M51 187h1M10 186h1M12 186h3M32 186h1M14 185h1M17 185h1M28 185h1M52 185h1M38 184h1M27 183h1M29 183h1M46 183h1M50 183h1M12 181h1M2 179h1M15 179h2M5 178h1M42 178h1M50 178h1M0 177h1M7 177h1M23 177h1M41 177h1M23 176h1M46 176h1M32 175h2M36 175h1M38 175h1M12 174h1M32 174h2M43 174h1M54 174h2M17 173h1M30 172h1M43 172h1M8 170h1M41 170h1M43 170h1M9 169h1M24 169h1M45 169h1M42 168h1M47 168h1M52 168h1M18 167h1M43 167h1M49 167h1M56 167h1M7 165h1M6 164h1M13 164h1M28 163h1M26 162h1M11 161h1M25 161h2M29 161h2M34 161h1M43 161h1M13 160h1M28 160h1M35 160h2M19 159h1M29 159h1M31 157h2M38 157h1M31 156h1M45 156h1M5 155h1M36 155h1M10 154h1M24 154h1M26 154h1M8 153h1M25 153h1M34 153h1M37 153h1M33 152h1M39 152h1M42 152h1M53 151h1M0 150h1M23 150h1M28 150h1M55 150h1M26 149h1M30 149h1M6 148h1M8 148h1M16 148h1M24 148h1M1 147h1M19 147h1M21 147h1M26 147h1M49 147h1M36 146h1M42 146h3M9 145h1M45 145h1M4 144h2M25 144h1M52 144h2M4 143h2M7 143h1M27 143h1M3 142h1M26 142h4M36 142h1M50 142h1M54 142h3M9 141h1M38 141h1M45 141h1M35 139h1M0 138h1M4 138h1M12 138h1M45 138h1M6 137h1M34 137h1M42 136h1M46 136h1M36 135h2M55 134h1M9 133h1M21 133h2M27 133h1M31 133h1M35 133h1M37 133h1M41 133h1M18 132h1M52 132h1M11 131h1M13 131h1M17 131h1M39 131h1M43 131h2M33 130h1M35 130h1M39 130h2M43 130h1M54 130h1M13 129h1M15 129h1M25 129h1M28 129h1M52 129h1M16 128h1M23 128h1M30 128h1M34 128h1M47 128h1M4 127h1M51 127h1M55 127h1M9 126h1M11 126h1M2 125h1M21 125h1M36 125h2M11 124h1M48 123h1M29 122h2M38 122h1M42 122h1M45 122h1M13 121h1M30 121h1M37 121h1M45 121h1M29 120h1M37 120h1M39 120h1M6 118h1M8 118h1M23 118h1M47 117h1M7 116h1M31 116h1M41 116h1M47 116h1M56 116h1M3 115h1M51 115h1M5 114h1M24 114h1M40 114h1M41 113h1M7 112h1M46 112h1M7 110h1M12 109h1M29 109h1M33 109h1M46 109h1M13 108h1M40 108h1M12 107h1M31 107h1M13 106h1M35 106h1M39 106h1M42 106h1M17 105h1M23 105h1M2 104h1M6 104h1M18 104h1M23 104h1M27 104h1M34 104h1M49 104h1M19 103h1M22 103h2M25 103h1M34 103h1M49 103h1M23 102h1M37 102h1M43 101h1M11 100h1M24 100h1M36 100h1M40 100h1M17 99h1M11 98h1M30 98h1M36 98h1M39 97h1M19 96h1M32 96h1M4 95h1M26 95h1M32 95h1M39 95h1M41 94h1M46 94h2M16 93h1M25 93h1M36 93h1M38 93h1M40 93h1M41 92h1M44 91h1M10 90h1M19 90h1M23 90h1M33 90h1M51 90h1M4 88h1M53 88h1M36 87h2M49 87h1M51 87h1M53 87h1M10 86h1M44 86h1M4 85h1M11 85h1M10 84h1M46 84h1M49 84h1M0 83h1M10 83h1M23 83h1M30 83h1M40 83h1M9 82h1M39 81h1M22 80h3M56 80h1M7 79h1M14 79h1M36 79h1M41 79h1M43 79h1M24 77h1M22 76h1M49 76h1M38 75h1M15 74h1M32 74h1M45 74h1M19 72h2M26 72h1M32 72h1M34 72h1M46 72h1M34 71h1M42 71h1M48 71h1M33 70h1M4 69h1M6 69h1M27 68h1M38 68h1M54 68h1M0 67h1M10 67h1M21 66h1M40 66h1M13 65h1M29 65h1M38 65h1M26 64h1M36 64h1M37 63h1M39 63h1M26 62h1M42 61h1M49 61h1M16 60h1M37 60h1M21 59h1M7 58h1M29 58h1M50 58h1M23 57h1M36 57h1M46 57h1M25 56h1M51 56h1M30 55h2M10 54h1M22 54h1M29 54h1M35 54h1M48 54h1M34 53h2M43 53h1M47 52h1M23 51h1M44 51h1M0 50h1M44 50h1M4 49h2M16 49h1M20 49h1M46 49h1M30 48h1M46 48h1M21 47h1M41 47h1M4 46h1M10 46h1M12 46h1M31 46h1M42 46h1M45 46h1M21 45h1M47 45h1M2 44h1M9 44h1M15 44h1M47 44h1M22 43h1M33 43h1M36 43h2M46 43h1M29 42h1M30 41h1M38 41h1M40 41h1M0 40h1M18 40h2M38 40h1M0 39h1M35 39h1M37 39h1M37 38h1M39 38h2M36 37h1M10 35h1M23 35h1M30 35h1M37 35h2M16 34h1M36 34h1M46 34h1M33 32h1M6 31h1M25 31h1M30 30h1M34 30h2M38 30h1M40 30h1M40 29h1M2 28h2M27 28h1M30 28h1M32 28h1M32 26h1M23 24h1M40 23h2M44 23h1M54 22h1M21 21h1M15 20h1M27 20h1M39 20h1M44 20h1M49 20h1M44 19h1M53 19h1M1 18h1M17 18h1M38 18h1M7 17h1M12 17h1M18 17h1M32 16h1M36 16h1M40 16h1M49 16h1M56 16h1M48 15h1M31 14h1M48 14h1M11 13h1M13 13h1M11 12h1M4 11h1M24 11h1M39 11h1M26 10h2M42 10h1M34 9h1M38 9h1M48 9h1M35 8h1M23 7h1M29 7h2M50 7h1M53 7h1M41 5h1M46 5h1M32 4h1M34 4h1M37 3h1M42 3h1M19 2h1M30 2h1M32 2h1M37 2h2M47 2h1M20 1h1M1 0h1M28 0h1M50 0h1M54 0h1"/>
<path stroke="#0019ff" d="M52 489h1M19 488h1M13 487h1M14 485h1M56 485h1M54 484h1M53 482h1M16 481h1M45 481h1M47 480h1M49 480h1M54 480h1M17 478h1M1 476h1M18 475h1M13 474h1M36 474h1M33 470h1M1 468h1M25 468h1M8 467h1M14 467h2M26 467h1M49 467h1M18 466h1M36 466h1M8 465h1M33 465h1M46 465h1M12 464h1M19 464h1M56 464h1M42 463h1M1 461h1M17 461h1M44 461h1M43 460h1M46 460h1M22 459h1M51 459h1M26 458h1M35 457h1M33 456h1M45 456h2M53 456h1M55 456h1M2 455h1M17 455h1M20 455h1M38 455h1M52 455h1M9 454h1M26 453h1M38 453h1M22 452h2M4 451h1M32 451h1M32 450h1M25 449h1M33 449h1M35 449h1M20 447h1M32 447h1M0 446h1M2 446h1M22 446h1M26 446h1M36 446h1M47 446h1M49 446h2M56 446h1M42 445h1M6 444h1M25 441h1M34 440h1M47 440h1M15 439h1M18 439h1M21 439h1M23 439h1M54 439h1M12 438h1M31 438h1M2 437h2M20 435h1M32 435h1M40 435h1M34 434h1M42 434h1M45 434h1M54 434h1M17 433h1M38 433h1M47 433h1M40 432h1M56 432h1M10 431h2M19 431h1M24 431h1M41 431h1M54 431h1M19 430h1M29 430h1M8 429h1M26 429h1M35 429h1M46 429h1M30 428h1M9 427h2M39 427h1M47 427h1M18 426h1M32 426h1M35 426h1M22 425h1M27 425h1M6 424h1M45 424h1M47 424h1M51 424h1M24 422h1M46 422h1M54 422h1M37 421h1M46 419h1M25 418h1M54 418h1M5 417h1M12 417h1M56 417h1M1 416h1M33 416h1M35 416h1M44 416h1M53 416h1M16 415h1M20 415h1M32 415h1M36 415h1M45 415h1M10 414h1M25 414h1M46 414h1M28 413h1M41 413h1M46 413h1M51 412h1M15 411h1M18 411h1M38 411h1M52 411h1M3 410h1M37 410h1M0 409h1M23 409h1M29 409h1M42 409h1M55 409h1M55 408h1M0 407h1M34 407h1M46 407h1M19 406h1M33 406h1M38 406h1M51 406h1M54 406h1M0 405h1M30 405h1M44 405h2M30 403h1M8 402h1M49 402h1M22 401h1M28 401h1M30 401h1M36 401h1M42 401h1M2 400h1M6 400h1M24 400h1M34 400h1M45 400h1M25 399h1M43 399h1M5 398h1M21 398h2M24 398h1M11 397h1M30 397h1M46 397h1M39 396h1M44 396h1M53 396h1M30 395h1M9 394h1M12 394h1M31 394h1M48 394h1M3 393h1M9 393h1M24 393h1M34 393h1M22 392h2M27 392h1M37 392h1M46 392h1M6 391h1M29 391h1M31 391h2M40 391h1M46 391h1M4 389h1M6 389h1M44 389h1M52 389h1M0 388h1M16 388h1M18 388h1M28 388h1M31 388h1M39 388h1M1 387h1M15 387h1M42 387h1M12 386h1M40 386h1M5 385h1M20 385h1M22 385h1M28 385h1M8 384h2M12 384h1M45 384h1M1 383h1M4 383h1M2 382h2M10 382h1M29 382h1M55 382h1M3 380h1M7 380h1M25 380h1M27 380h1M47 380h3M5 379h1M9 379h1M11 379h1M19 379h1M35 379h1M40 379h1M42 379h1M44 379h1M0 378h1M26 378h1M50 378h1M2 377h1M32 377h1M54 377h1M25 375h1M2 374h1M23 374h1M32 374h1M38 374h1M6 373h1M21 373h1M29 373h1M33 373h1M51 373h2M0 372h1M16 372h1M25 372h2M37 372h1M1 371h1M16 371h1M48 371h1M12 370h1M15 370h1M35 370h1M37 370h1M46 370h1M5 369h1M7 369h1M44 369h1M13 368h1M23 368h1M36 368h1M56 368h1M31 367h1M40 367h1M42 367h1M11 366h1M54 366h1M20 365h2M30 365h1M4 363h1M25 363h1M48 363h2M17 362h1M41 362h2M47 362h1M6 361h1M14 361h1M46 361h1M21 360h1M33 360h1M36 360h1M42 360h2M3 359h1M5 359h1M21 359h1M28 359h1M30 359h1M44 359h1M47 359h1M49 359h1M0 358h1M4 358h1M22 358h1M27 358h1M32 358h1M38 358h1M41 358h1M30 357h1M2 356h1M29 356h1M22 355h1M29 355h1M36 355h1M42 355h2M47 355h2M31 354h1M2 353h1M8 353h1M15 353h1M17 353h1M52 353h1M25 352h1M30 352h2M38 352h1M2 351h2M23 351h1M37 351h1M49 351h1M6 350h1M21 350h1M27 350h4M36 350h1M12 349h1M17 349h1M39 349h1M22 348h1M25 348h1M28 348h1M38 348h1M21 347h1M23 347h1M26 347h1M41 347h1M7 346h1M24 346h1M45 346h1M0 345h1M9 345h1M36 345h1M25 344h1M40 344h1M53 344h1M11 343h1M42 343h1M30 342h1M33 342h1M4 341h1M33 341h1M35 341h2M44 341h1M12 340h1M35 340h1M39 340h1M46 340h1M48 340h1M25 339h1M32 339h1M38 339h1M41 338h1M43 338h1M3 337h1M11 337h1M14 337h1M23 337h1M33 337h1M51 337h1M6 336h1M9 336h3M34 336h1M42 336h1M46 336h1M11 335h1M26 335h1M41 335h1M0 334h1M22 334h1M39 334h1M43 333h1M2 332h1M27 332h1M34 332h1M39 332h1M32 331h1M36 331h2M22 330h1M29 330h1M33 330h1M34 329h1M39 329h1M2 328h1M22 328h1M33 328h2M28 327h2M0 326h1M7 326h2M27 326h2M31 326h1M5 325h1M11 325h1M8 324h1M26 323h2M52 323h1M23 322h1M26 322h2M26 321h1M44 321h1M4 320h1M12 320h1M42 320h1M10 319h1M26 319h1M29 318h1M48 318h1M1 317h1M17 317h1M33 317h1M55 317h1M4 316h1M31 316h2M46 316h1M43 315h2M3 314h1M9 314h1M28 314h1M40 314h1M14 313h1M19 313h1M32 313h1M38 313h1M14 312h1M17 312h1M38 312h1M40 312h1M44 312h1M21 311h1M28 311h1M40 311h1M6 310h3M6 309h1M8 309h1M23 309h1M26 309h1M39 308h2M17 307h1M22 307h1M26 307h3M31 307h1M45 307h1M40 306h2M46 306h1M10 305h1M15 305h1M21 305h1M23 305h1M37 304h1M15 303h1M31 303h1M40 303h1M42 303h1M46 303h1M9 301h2M18 301h1M27 301h1M3 300h1M42 299h1M5 298h2M10 298h1M3 297h1M12 297h3M25 297h1M40 297h2M54 297h1M2 296h1M14 296h1M23 296h1M27 296h1M47 296h1M9 295h1M32 295h1M41 295h1M21 294h1M36 294h1M41 294h1M47 294h1M23 293h1M3 292h1M31 292h2M35 292h1M39 292h1M55 292h1M15 291h1M20 291h1M27 290h1M31 290h1M33 289h1M35 289h1M42 289h1M46 289h1M25 288h1M37 288h1M50 288h1M0 287h1M45 287h1M1 286h1M23 286h1M4 285h1M7 285h1M47 285h1M50 285h1M54 285h1M28 284h2M25 283h1M4 282h1M17 282h1M21 282h1M25 281h2M49 280h1M8 279h1M17 279h2M24 279h1M10 278h1M23 278h2M30 278h2M45 278h1M4 277h1M34 277h1M1 276h1M10 276h1M36 276h1M41 276h1M11 275h1M29 275h1M32 275h1M31 274h1M44 273h1M24 272h1M46 271h1M22 270h2M34 270h1M25 269h1M31 269h3M7 268h1M28 268h1M41 268h1M2 267h1M18 267h1M23 267h1M32 267h1M38 267h1M50 267h1M3 266h1M32 266h1M40 266h1M6 265h1M8 265h1M28 265h1M5 264h1M31 264h1M44 264h1M0 263h1M30 262h1M32 262h1M38 262h3M6 261h1M45 261h1M27 259h1M28 258h1M33 258h1M37 258h1M39 258h1M5 257h1M7 257h1M21 257h1M36 257h1M47 257h1M49 257h1M10 256h1M12 256h1M24 256h2M49 256h1M3 255h1M39 255h1M32 254h1M40 254h1M46 254h1M29 253h1M44 253h1M25 252h1M39 252h1M46 251h1M0 250h1M5 250h1M28 250h1M18 249h1M43 249h2M32 248h1M40 248h2M5 245h1M26 244h1M4 243h1M18 243h1M36 243h1M39 242h1M45 242h1M25 240h1M20 239h1M34 239h1M38 239h1M0 238h1M8 238h1M38 238h1M56 238h1M26 237h1M37 237h1M45 237h1M2 236h1M5 236h1M16 236h1M5 235h1M17 235h1M38 235h1M5 234h1M21 234h1M44 234h1M42 232h1M5 231h1M29 231h1M42 230h1M37 229h1M54 229h1M22 228h1M40 228h1M5 227h2M35 227h1M40 227h1M46 227h1M21 226h1M23 226h1M48 226h1M30 225h1M43 225h1M48 225h1M50 225h1M12 224h1M14 224h1M31 223h1M38 223h1M33 222h1M38 222h1M46 222h1M5 221h1M6 219h1M13 219h1M40 219h1M9 218h1M20 218h1M34 218h1M3 217h1M27 217h1M40 217h1M48 217h1M0 216h1M2 216h1M12 215h1M12 214h1M40 214h1M38 212h1M43 212h1M50 212h1M40 211h1M54 211h1M39 210h1M12 209h1M36 208h1M41 208h1M45 208h1M7 207h1M24 207h1M29 207h1M34 207h2M42 207h1M6 206h1M23 206h1M25 206h1M35 206h1M42 206h1M45 206h1M24 205h1M22 204h1M44 203h1M32 202h1M27 200h1M32 200h1M41 200h1M15 199h1M29 199h1M1 198h1M5 198h1M51 198h1M56 198h1M11 197h1M18 197h1M44 197h1M21 196h1M42 196h1M24 195h1M40 195h2M42 194h1M45 194h1M36 193h1M42 193h1M11 192h2M19 192h1M22 192h1M7 191h1M11 191h1M13 191h1M25 191h1M26 190h1M46 190h1M48 190h1M55 190h1M29 189h1M34 189h1M54 189h1M31 188h1M52 188h1M1 187h1M26 187h1M31 187h1M22 186h1M26 186h2M34 186h1M6 185h1M22 185h1M5 184h2M44 183h1M32 181h1M35 181h1M5 180h1M28 180h1M33 180h2M1 179h1M40 179h2M12 173h1M39 171h1M17 170h1M27 170h1M42 170h1M11 169h1M23 169h1M28 169h1M50 169h1M8 168h1M10 168h1M55 168h1M41 167h1M45 167h1M47 167h1M42 166h1M41 165h1M4 164h2M33 164h1M7 163h1M48 163h1M11 162h1M38 162h1M48 162h1M3 161h1M27 161h1M33 161h1M36 161h1M41 161h1M45 161h1M50 160h1M17 159h1M37 159h1M41 159h1M44 159h2M49 158h2M29 157h1M0 156h1M37 155h2M8 154h1M11 154h1M42 154h1M3 153h1M24 153h1M26 153h1M36 153h1M40 151h1M5 150h1M17 150h1M24 150h1M29 150h1M10 149h1M53 149h1M4 148h2M14 148h2M26 148h1M38 148h2M54 148h1M2 147h1M50 147h1M18 146h1M29 146h1M6 144h1M9 144h1M22 144h1M0 143h2M13 143h1M31 143h1M5 142h1M7 142h1M40 142h1M29 141h1M41 141h1M3 140h1M37 139h1M34 138h1M40 138h1M51 138h1M4 137h1M24 137h1M35 137h1M39 137h1M55 136h1M27 135h1M38 135h2M55 135h1M39 134h2M4 133h1M3 132h1M34 132h1M12 131h1M20 131h1M40 131h1M23 130h2M28 130h1M52 130h1M14 129h1M23 129h1M30 129h1M32 129h1M40 129h1M31 128h1M37 128h1M43 127h1M30 126h1M24 125h1M45 125h1M12 124h1M7 123h1M9 123h1M37 122h1M39 122h1M31 121h1M50 121h1M10 119h1M21 117h1M44 117h2M35 116h1M30 115h1M40 115h1M54 114h1M22 113h1M32 113h1M50 113h1M47 109h1M31 108h1M41 108h1M14 106h1M33 106h1M40 106h1M12 105h1M22 105h1M49 105h1M10 104h1M31 104h1M50 104h1M9 103h2M12 103h1M18 103h1M37 103h1M6 102h1M12 102h1M29 102h1M34 102h1M42 102h1M55 102h1M17 101h1M27 101h1M40 101h1M44 101h1M7 99h1M30 99h1M24 95h1M33 95h1M36 95h1M31 94h1M36 94h1M28 92h1M12 90h1M18 90h1M34 90h1M40 90h1M3 89h1M41 89h1M5 88h1M46 88h1M54 88h1M46 86h1M0 84h1M40 84h1M43 84h1M42 83h1M42 82h1M10 81h2M21 81h1M23 81h1M39 78h1M35 77h1M32 75h1M45 75h1M40 74h1M49 74h1M25 73h1M10 72h1M21 72h1M27 70h1M37 68h1M11 67h1M29 66h1M36 65h1M13 64h1M27 63h1M29 63h1M21 62h1M30 60h1M54 60h1M9 58h1M45 58h1M3 57h1M21 57h1M29 57h1M45 57h1M29 56h2M18 53h1M35 52h1M37 52h1M48 52h1M52 51h2M6 49h1M12 49h1M22 49h1M36 48h1M40 48h1M22 47h1M24 47h1M42 47h1M5 46h1M26 46h2M44 46h1M51 46h2M34 45h1M46 45h1M3 43h1M9 43h2M21 43h1M26 42h1M4 41h1M6 41h1M5 40h1M37 40h1M41 37h1M13 35h1M36 35h1M9 34h1M17 34h1M30 34h2M43 34h1M37 31h1M11 30h1M45 30h1M23 29h1M39 29h1M39 27h1M41 27h1M0 26h1M8 26h1M22 26h1M19 25h1M31 24h1M45 23h1M48 23h1M40 22h1M20 21h1M25 20h1M9 19h1M20 19h1M16 18h1M11 17h1M25 17h1M36 17h1M55 14h1M10 12h1M22 12h1M22 11h1M37 10h1M37 9h1M36 8h2M42 7h1M34 6h1M11 5h1M37 4h1M33 3h1M42 2h1M19 1h1M33 1h1M35 1h1M51 1h2M2 0h1M29 0h1M33 0h1"/>
<path stroke="#0029ff" d="M16 489h2M3 488h1M48 488h1M15 487h1M8 486h1M18 486h1M8 485h1M33 485h1M1 483h1M47 483h1M50 483h1M13 480h1M33 480h1M48 480h1M31 476h1M47 476h1M34 475h3M53 474h1M52 473h1M48 472h1M20 470h1M26 470h1M8 468h1M54 468h1M3 467h1M25 467h1M31 466h1M17 465h1M36 465h1M42 465h1M8 464h1M13 464h1M16 464h1M19 463h1M22 463h1M50 463h1M35 462h1M21 459h1M33 459h1M42 459h1M49 459h1M14 458h1M1 457h1M8 457h1M18 457h1M21 457h1M45 457h1M14 456h1M3 454h1M30 453h1M44 453h1M10 452h1M16 452h1M9 451h1M31 450h1M37 449h1M15 448h1M28 448h1M38 447h1M42 447h1M47 447h2M24 446h1M42 446h1M55 446h1M10 445h1M25 445h1M21 444h1M38 444h1M36 443h1M47 443h1M40 442h1M43 441h1M30 440h1M41 440h1M43 439h1M49 439h1M25 438h2M45 438h1M6 437h1M15 436h1M43 436h1M19 435h1M8 434h1M21 434h2M25 434h1M38 434h1M21 433h1M23 433h1M33 433h1M45 432h1M36 431h1M0 430h1M9 430h1M11 430h1M16 430h1M28 430h1M40 430h1M9 429h2M12 429h1M29 429h1M44 429h1M4 427h1M45 426h1M14 425h1M24 425h1M4 424h1M35 424h1M48 424h1M11 423h1M25 422h1M1 421h1M4 421h1M25 421h1M39 421h1M11 420h1M48 420h1M33 418h1M39 418h1M47 418h1M28 417h1M50 416h1M1 415h1M7 415h2M14 415h1M46 415h1M3 413h1M27 413h1M31 413h1M44 413h1M5 412h1M8 412h1M13 412h1M20 412h1M24 412h1M1 411h1M4 411h1M10 411h1M55 411h1M2 410h1M46 410h1M5 409h1M8 409h1M26 409h1M39 409h1M0 408h1M7 408h1M9 408h1M46 408h1M2 407h1M9 407h1M32 407h1M12 406h1M30 406h1M4 405h1M55 405h1M0 404h1M41 404h1M52 404h1M29 403h1M35 403h1M41 403h1M31 402h1M34 402h1M50 402h1M25 401h1M50 401h1M0 400h1M4 399h1M26 399h1M50 399h1M6 398h1M46 398h1M44 397h2M5 396h2M55 396h1M31 395h1M10 394h1M49 394h1M1 393h1M4 393h1M10 392h1M25 392h1M36 392h1M27 391h1M37 391h1M56 391h1M11 390h1M22 390h1M36 390h1M12 389h1M16 389h1M11 388h1M14 388h1M35 388h1M48 388h1M10 387h1M12 387h1M22 387h1M48 387h1M52 387h1M25 386h1M10 385h1M24 385h1M34 385h1M40 385h1M25 384h1M36 384h1M26 383h1M39 383h1M4 382h1M6 382h1M12 381h1M21 381h1M29 381h1M33 381h1M4 380h1M10 380h1M33 380h1M43 380h1M51 380h1M29 379h1M31 379h1M43 379h1M40 378h1M36 377h1M38 377h1M30 376h1M34 376h1M12 375h1M23 375h1M27 375h1M40 375h1M15 373h1M34 373h1M36 373h1M42 373h1M28 372h1M34 372h1M6 371h1M8 371h1M5 370h1M39 370h1M51 370h1M27 369h1M2 368h1M5 368h1M22 368h1M10 367h1M33 367h1M16 366h1M30 366h1M29 365h1M40 363h1M45 363h1M16 362h1M3 361h1M8 361h1M42 361h1M37 360h1M1 359h2M39 359h1M8 358h1M38 357h1M3 356h1M9 356h1M19 356h1M21 356h1M2 355h1M7 355h1M50 355h1M22 354h1M28 354h1M10 353h1M48 353h1M53 353h1M11 352h1M29 352h1M50 352h1M0 351h1M26 351h1M45 351h1M8 350h1M38 350h1M40 349h1M56 349h1M4 348h1M23 348h1M31 348h1M2 347h1M11 347h1M44 347h1M0 346h2M22 346h1M27 346h1M50 346h1M1 345h1M19 345h1M30 345h1M12 343h1M53 343h1M11 342h1M25 342h1M32 342h1M2 341h1M32 341h1M34 341h1M38 341h1M21 340h1M51 340h1M0 339h1M5 339h1M33 339h1M3 338h1M2 337h1M56 337h1M13 336h1M30 336h1M43 335h1M46 335h1M11 334h1M6 333h1M27 333h1M15 332h1M31 331h1M35 331h1M21 330h1M42 330h1M22 329h1M24 329h1M35 329h1M20 328h1M37 328h2M0 327h1M12 327h1M10 325h1M38 325h2M41 325h1M10 323h1M21 323h1M30 323h1M38 323h1M6 322h1M29 321h1M31 321h1M45 321h2M46 320h1M6 319h1M17 319h1M31 319h1M42 319h1M2 318h1M45 318h1M51 318h1M40 317h2M47 317h1M49 317h1M35 316h2M45 316h1M52 316h1M7 314h1M18 313h1M22 313h1M31 313h1M40 313h1M55 313h1M37 312h1M39 312h1M45 312h1M5 311h1M8 311h1M17 311h1M26 311h1M5 310h1M48 310h1M12 309h1M24 309h1M52 309h1M0 308h1M35 308h1M45 308h1M11 307h1M37 307h1M7 306h1M12 306h1M26 306h1M48 306h2M55 306h1M28 305h3M44 305h1M6 304h1M15 304h1M17 304h1M23 304h1M9 303h2M19 302h1M21 302h1M38 302h1M43 302h1M47 302h1M20 301h1M5 300h1M22 300h1M26 300h1M30 299h1M37 299h1M12 298h1M36 298h1M2 297h1M24 296h1M28 296h1M44 296h1M26 295h1M39 295h1M44 295h1M48 295h1M56 295h1M28 293h1M29 292h1M40 292h1M3 291h1M6 291h1M42 291h1M7 290h1M18 290h1M20 290h1M32 290h1M39 290h1M21 289h1M36 289h1M41 289h1M54 289h1M1 287h1M10 287h1M18 287h1M0 286h1M2 286h1M11 286h1M29 286h1M39 286h1M51 286h1M37 285h1M32 284h1M37 284h1M17 283h1M18 282h1M39 282h1M5 281h1M27 281h1M6 280h1M42 280h1M5 279h1M43 279h1M45 279h1M55 279h1M12 277h1M42 276h1M26 275h1M28 274h1M43 274h1M6 272h1M29 270h1M3 269h1M30 269h1M2 268h1M42 268h1M1 267h1M17 267h1M9 266h1M28 266h1M49 266h1M7 265h1M9 265h1M29 265h1M23 264h1M9 263h1M54 263h1M24 262h1M2 261h1M9 261h1M41 260h1M35 258h1M11 256h1M45 256h1M5 255h2M36 255h1M9 254h1M19 253h1M23 253h2M28 253h1M37 253h1M24 252h1M26 252h1M38 252h1M41 252h1M40 251h1M9 250h1M16 250h1M35 250h1M37 250h1M6 249h1M28 249h1M31 249h1M36 249h1M6 248h1M10 248h1M31 248h1M12 247h1M12 246h1M39 246h1M41 246h1M23 245h1M3 244h1M12 244h1M22 244h2M34 244h1M39 244h1M44 244h1M21 239h1M7 238h1M2 235h1M43 235h2M36 234h2M43 233h1M45 233h1M45 232h1M1 231h1M31 231h1M30 230h1M35 229h1M38 229h1M42 229h1M48 229h1M52 229h1M2 228h2M18 228h1M20 228h1M33 227h1M37 227h1M39 227h1M50 227h1M45 226h1M23 225h1M51 225h1M3 223h1M32 222h1M23 221h1M4 218h1M1 216h1M26 215h1M46 214h1M22 212h1M32 209h1M25 208h1M32 208h1M43 208h2M49 208h1M51 208h1M22 207h1M26 207h1M22 206h1M32 206h1M41 205h1M32 204h1M41 204h2M3 203h1M6 203h1M47 203h1M6 202h1M10 202h1M38 201h1M28 200h1M40 196h1M0 194h1M35 192h1M27 191h1M38 191h1M2 189h1M25 189h1M30 189h1M1 188h2M28 188h1M40 188h1M33 186h1M46 186h1M28 183h1M45 183h1M33 181h1M23 180h1M38 179h1M38 178h2M51 178h1M33 177h1M10 173h2M42 173h1M0 172h1M39 172h1M44 170h1M4 169h1M25 169h1M46 169h1M12 168h1M20 168h1M22 168h1M53 168h1M42 167h1M35 166h1M41 166h1M18 165h1M40 165h1M44 165h1M35 164h1M33 163h1M9 162h1M31 162h1M31 161h1M44 161h1M12 160h1M21 160h1M25 160h1M4 154h1M55 153h1M31 152h1M34 152h1M39 151h1M27 149h1M29 149h1M55 149h1M37 148h1M22 147h1M13 144h1M12 143h1M29 143h1M6 142h1M42 142h1M45 142h1M48 142h2M37 141h1M1 140h2M6 140h1M35 140h1M31 138h1M33 138h1M37 138h1M46 138h1M32 137h1M41 135h1M36 133h1M38 133h1M4 132h1M19 131h1M10 129h1M12 129h1M19 129h1M33 129h1M21 128h1M41 128h1M34 127h1M5 126h1M10 126h1M44 125h1M41 122h1M39 121h1M7 118h1M27 118h1M24 117h1M21 116h1M20 115h1M31 115h1M38 115h1M23 113h1M52 113h1M45 112h1M44 111h1M27 108h2M33 105h1M36 105h1M29 104h1M33 102h1M43 102h1M46 102h1M39 101h1M37 100h1M44 100h1M0 94h1M17 93h1M25 90h1M51 88h1M25 87h1M43 86h1M45 86h1M7 85h1M47 85h1M30 84h1M39 84h1M39 82h1M32 79h1M39 77h1M23 76h1M39 75h1M44 75h1M38 72h1M44 72h1M23 71h1M0 70h1M5 69h1M21 67h1M15 64h1M26 63h1M45 62h1M0 60h1M28 60h1M35 60h1M50 60h1M0 59h1M35 59h1M39 57h1M42 57h1M31 56h1M42 54h1M1 53h1M17 53h1M48 53h1M34 52h1M32 50h1M42 50h1M32 49h1M39 48h1M6 47h1M43 47h1M45 47h1M11 46h1M25 46h1M2 43h1M41 43h1M5 41h1M7 41h1M52 40h1M48 39h1M43 38h1M38 34h1M40 34h1M53 32h1M37 30h1M44 30h1M31 27h1M38 26h2M32 23h1M33 22h2M10 19h1M29 19h1M37 17h1M19 12h1M40 12h1M3 11h1M49 11h1M38 10h1M40 10h1M38 8h1M26 7h1M38 7h1M13 6h1M38 6h1M5 5h1M46 4h2M53 0h1"/>
<path stroke="#0038ff" d="M1 489h1M22 489h1M22 487h1M38 485h1M55 484h1M51 483h1M56 483h1M1 482h1M14 479h1M50 479h1M46 478h1M55 476h1M6 472h1M13 472h1M52 472h1M6 471h1M50 471h1M0 470h1M24 468h1M38 468h1M43 467h1M51 467h1M45 466h1M15 464h1M17 464h1M45 463h1M51 463h1M55 463h1M1 462h1M43 462h1M16 461h1M43 461h1M2 460h1M32 460h1M34 458h2M43 458h1M4 457h1M30 457h1M32 457h2M43 456h1M42 455h1M53 455h1M22 454h1M33 454h1M44 454h1M28 453h1M31 453h1M9 452h1M22 451h1M30 451h1M47 451h1M24 450h1M29 450h1M20 449h1M34 449h1M38 449h1M45 449h1M11 448h2M45 448h1M20 446h1M45 446h1M0 445h1M2 445h1M1 444h1M3 444h1M25 444h1M32 444h1M40 444h1M44 444h1M9 443h1M22 443h1M26 442h1M32 442h1M8 441h1M10 441h1M40 441h1M22 440h1M42 440h1M44 440h1M8 439h1M16 438h1M20 438h1M32 438h1M24 437h1M40 437h1M10 436h1M22 436h1M40 436h1M8 435h1M31 435h1M42 435h1M46 435h1M33 434h1M35 434h1M26 433h1M29 433h1M9 432h1M12 432h1M38 432h1M54 432h1M12 430h1M41 430h1M32 429h1M38 429h1M8 428h1M15 428h1M37 428h1M44 428h1M5 427h1M11 427h1M0 426h1M30 426h1M0 425h1M21 425h1M30 425h1M35 425h1M56 425h1M0 424h1M14 424h1M4 423h1M3 422h1M9 422h1M39 422h1M6 421h1M40 421h1M9 420h2M12 420h2M56 420h1M21 419h1M45 419h1M15 418h1M22 418h1M3 417h1M6 417h1M10 416h1M20 416h1M29 416h1M6 415h1M12 415h1M25 415h1M28 415h2M54 415h1M12 414h1M41 414h1M4 413h1M11 413h1M34 413h1M36 413h1M50 413h1M7 411h1M11 411h1M14 411h1M28 411h1M40 411h1M27 410h1M36 410h1M44 410h1M56 410h1M4 409h1M30 409h1M25 408h1M30 408h1M5 406h1M1 405h1M5 404h1M7 404h1M28 404h1M46 403h1M56 403h1M23 402h1M42 402h1M3 401h1M9 401h1M34 401h1M49 401h1M51 401h1M29 400h1M33 400h1M43 400h1M9 399h2M37 398h1M45 398h1M4 397h1M10 397h1M23 397h1M27 397h1M39 397h1M4 396h1M24 396h1M1 395h1M25 395h1M29 395h1M39 395h1M3 394h1M29 394h1M10 393h1M40 393h1M29 392h1M21 391h2M30 391h1M46 390h1M7 389h1M9 389h1M34 389h1M37 389h1M23 388h1M26 388h1M41 388h1M8 387h1M32 387h1M34 387h1M54 387h1M10 386h1M13 386h1M33 386h1M45 386h1M33 385h1M37 385h1M49 385h1M10 384h1M5 383h1M21 383h1M5 382h1M23 382h2M31 382h2M48 382h1M10 381h1M38 381h1M45 381h1M56 381h1M21 380h2M26 380h1M41 380h1M50 380h1M2 379h1M32 379h1M41 379h1M1 378h1M30 378h1M8 377h1M56 377h1M4 376h1M31 376h1M47 376h2M4 375h2M41 375h1M31 374h1M41 373h1M5 372h1M7 372h1M18 372h1M31 372h1M18 371h1M22 371h1M0 370h1M6 370h1M21 370h1M36 370h1M29 369h1M41 369h1M46 369h1M9 367h1M45 367h1M3 366h1M24 366h1M31 366h1M10 365h1M15 365h2M36 364h1M24 362h1M26 362h1M46 362h1M5 361h1M9 361h1M25 360h1M0 359h1M24 359h1M26 359h1M9 357h3M23 357h1M50 357h2M15 356h2M20 356h1M41 356h1M1 355h1M9 355h1M32 355h1M34 355h1M52 355h1M44 354h1M3 353h1M19 353h1M21 353h1M24 353h1M27 353h1M45 353h1M46 352h1M39 351h1M24 350h1M31 350h1M42 350h1M10 349h1M45 349h1M26 348h1M30 348h1M41 348h1M45 348h1M9 347h1M22 347h1M51 347h1M2 346h1M19 346h2M43 346h1M36 344h1M38 344h1M43 344h1M54 344h1M1 343h1M29 343h1M10 342h1M36 342h1M44 342h1M5 341h1M24 341h1M46 341h1M0 340h1M2 340h1M30 340h2M45 340h1M1 339h2M41 339h1M46 338h1M10 337h1M52 337h1M33 336h1M52 336h1M38 335h1M5 334h1M27 334h1M29 334h1M7 333h1M0 332h1M3 332h1M37 332h1M46 332h1M50 332h1M12 329h1M28 329h1M27 328h1M31 328h1M11 327h1M11 326h1M21 326h1M6 325h1M9 325h1M31 325h1M40 325h1M36 323h2M18 322h1M44 322h1M9 321h1M49 321h1M23 320h1M31 320h1M44 319h1M25 318h1M30 318h1M6 317h3M31 317h1M15 316h1M41 316h1M44 316h1M41 315h2M29 314h1M32 314h2M26 313h1M29 313h2M31 312h1M48 312h1M44 311h1M1 310h1M45 310h1M27 309h1M38 309h2M5 307h1M13 307h1M16 307h1M44 307h1M0 306h2M38 306h1M53 306h1M2 305h2M13 305h1M17 305h1M52 305h1M1 304h2M46 302h1M3 301h1M5 301h1M19 301h1M25 300h1M27 300h1M36 300h1M7 299h1M26 299h1M30 297h1M0 296h1M3 296h1M36 296h1M48 296h2M10 295h1M23 294h1M26 293h1M38 292h1M39 291h1M26 290h1M29 290h1M5 289h1M31 289h1M3 288h1M12 288h1M46 288h1M12 286h1M19 286h1M28 286h1M31 286h1M47 286h1M23 282h1M36 282h1M45 282h1M38 281h1M8 280h1M33 280h1M34 279h1M5 277h1M32 277h1M5 276h1M12 276h1M23 272h1M41 272h1M33 270h1M44 269h1M23 268h1M6 267h1M25 267h1M33 267h1M20 266h1M27 265h1M44 265h1M25 264h2M56 264h1M10 263h1M20 263h1M31 262h1M55 261h1M29 260h1M29 259h2M40 259h1M27 258h1M55 258h1M40 256h3M4 255h1M27 254h1M42 254h1M11 253h1M42 253h1M44 252h2M15 251h1M37 251h1M41 251h1M27 250h1M11 247h1M41 247h1M4 244h1M25 244h1M30 244h1M21 243h2M44 239h1M21 238h1M9 237h1M38 237h2M34 235h1M56 235h1M34 234h1M26 233h1M31 233h1M42 231h1M40 230h1M2 229h1M44 229h1M33 228h1M41 228h1M11 227h1M23 227h1M22 225h1M40 225h1M49 225h1M52 225h1M21 224h1M25 224h1M42 224h1M32 223h1M29 221h1M39 221h2M7 220h1M19 220h1M3 218h1M42 218h1M36 217h1M41 217h1M45 217h1M42 216h1M36 210h1M5 208h1M12 208h1M6 207h1M46 206h1M42 205h1M33 204h1M31 202h1M43 200h1M30 199h1M32 199h1M36 198h2M46 198h1M49 198h2M41 196h1M51 194h1M35 191h1M39 191h1M38 190h2M43 190h2M23 189h2M26 189h1M41 189h1M27 188h1M31 185h1M37 184h1M34 181h1M5 179h1M54 179h1M41 172h1M12 169h1M9 168h1M34 168h1M48 167h1M40 166h1M45 165h1M34 164h1M32 162h1M32 161h1M35 159h1M29 158h1M32 158h1M41 157h1M44 156h1M50 155h1M12 154h1M36 152h2M31 151h1M41 151h1M1 150h1M13 149h1M2 148h1M56 148h1M18 147h1M7 144h1M12 144h1M29 144h1M28 143h1M6 141h2M11 141h1M0 139h1M37 137h1M36 136h1M38 134h1M3 133h1M40 133h1M18 131h1M17 130h1M29 130h1M16 129h1M34 129h1M5 127h1M9 124h1M41 114h1M51 114h1M56 114h1M31 112h1M43 112h1M45 111h1M32 107h1M36 106h1M38 106h1M27 105h1M11 104h1M27 102h1M28 101h1M53 101h1M23 100h1M27 96h1M29 96h1M39 96h1M3 95h1M25 95h1M47 95h1M37 93h1M15 90h1M40 89h1M52 88h1M35 87h1M54 87h1M39 86h1M49 86h1M8 85h1M10 85h1M37 84h1M10 82h1M22 82h1M22 81h1M36 78h1M31 77h1M25 74h1M39 74h1M38 73h1M11 71h1M11 66h1M32 66h1M39 66h1M53 66h1M56 66h1M27 65h1M37 65h1M29 60h1M36 58h1M40 57h1M7 55h1M31 54h1M2 53h2M56 53h1M25 51h1M32 51h1M43 50h1M19 49h1M55 49h1M37 48h1M55 48h1M39 47h1M43 46h1M35 44h1M36 39h1M38 38h1M42 38h1M42 37h1M6 35h1M10 34h1M18 34h1M44 34h1M36 30h1M39 30h1M24 27h1M40 27h1M9 26h1M25 24h1M2 23h1M38 22h1M10 20h1M14 20h1M26 20h1M19 19h1M29 14h1M30 11h1M45 11h1M16 8h1M33 6h1M20 2h1M48 1h1M37 0h2"/>
<path stroke="#0047ff" d="M35 489h1M18 487h1M18 485h1M42 484h1M49 484h1M8 482h1M16 482h1M44 482h1M1 480h1M18 478h1M54 478h1M1 477h1M11 476h1M11 475h1M37 474h1M1 470h1M45 470h1M20 469h1M17 468h1M24 467h1M33 467h1M5 466h1M47 466h1M3 465h2M34 465h1M30 464h1M38 464h1M42 464h1M18 462h1M28 462h1M18 461h1M15 460h1M23 460h1M16 458h1M22 458h1M39 458h2M42 458h1M47 458h1M46 457h1M17 456h1M24 456h1M32 456h1M32 455h1M34 455h1M19 454h1M21 454h1M53 452h1M33 451h1M44 451h1M53 451h1M34 450h1M36 450h1M16 449h1M44 448h1M24 447h1M53 447h2M4 446h1M21 446h1M46 446h1M52 446h1M1 445h1M11 445h1M38 445h1M2 444h1M25 443h1M43 443h1M14 442h1M36 442h1M38 442h1M7 441h1M24 441h1M37 441h1M0 440h1M36 440h1M53 440h1M10 439h1M19 439h1M37 439h1M3 438h1M30 438h1M35 438h1M12 437h1M41 437h2M45 437h1M12 436h1M18 435h1M37 435h1M11 434h1M16 434h1M26 434h1M46 434h1M43 432h1M27 430h1M39 430h1M16 429h1M42 429h1M56 429h1M44 427h1M44 425h1M36 424h1M0 423h1M3 423h1M22 423h1M5 422h1M27 422h1M3 421h1M5 421h1M12 421h1M39 420h1M5 419h1M1 417h1M33 417h1M24 416h1M34 416h1M0 415h1M19 415h1M34 415h1M19 414h1M32 413h1M40 413h1M51 413h1M0 412h1M3 412h1M14 412h1M5 411h1M20 411h1M44 411h1M6 410h1M23 408h1M41 408h2M49 408h1M8 407h1M29 407h1M37 407h1M0 406h1M2 404h1M15 404h1M37 404h1M0 403h1M21 402h1M40 402h1M10 401h1M12 400h1M38 400h1M1 398h1M12 398h1M19 398h1M32 398h1M40 398h1M44 398h1M2 397h1M22 397h1M7 396h1M23 396h1M29 396h1M38 396h1M9 395h1M37 395h1M45 395h1M4 394h1M7 394h1M25 393h1M27 393h1M38 392h1M7 391h1M12 390h1M5 389h1M23 389h2M29 389h1M1 388h1M30 388h1M52 388h1M51 387h1M7 386h1M31 386h1M42 386h1M44 385h1M14 384h1M27 384h1M6 383h1M24 383h1M36 383h1M38 383h1M7 382h1M11 381h1M42 380h1M7 379h1M10 379h1M5 378h1M38 378h2M41 378h1M16 377h1M23 377h1M25 377h1M29 377h1M28 376h1M32 375h1M30 374h1M12 373h1M53 373h1M4 371h1M25 371h1M34 371h1M41 371h1M7 370h1M22 370h1M34 370h1M9 369h1M40 369h1M25 368h1M37 368h1M44 367h1M17 365h1M2 364h1M15 361h1M32 361h1M22 360h1M34 360h1M45 360h1M32 357h1M41 357h1M0 356h1M10 356h1M50 356h1M56 356h1M4 355h2M23 355h1M28 355h1M51 355h1M1 354h2M10 352h1M39 352h1M43 351h1M10 350h1M12 350h1M25 350h2M56 350h1M1 349h2M4 349h1M11 349h1M23 349h1M31 349h1M51 349h1M40 348h1M42 348h1M10 347h1M27 347h1M42 347h1M23 346h1M29 346h1M2 345h1M18 345h1M24 345h1M31 345h2M6 344h1M27 344h1M16 343h1M36 343h1M39 343h1M41 343h1M9 342h1M12 342h1M47 342h1M26 341h1M36 340h2M42 340h1M37 339h1M42 339h1M2 338h1M10 338h1M30 338h1M8 337h1M23 335h1M28 335h1M35 332h1M44 332h1M48 332h1M20 331h1M38 331h1M27 329h1M37 329h1M29 328h1M9 323h1M34 323h1M29 322h1M10 321h1M30 320h1M5 319h1M43 319h1M9 317h1M45 317h1M50 317h1M51 316h1M8 314h1M38 314h1M3 313h1M5 313h1M9 313h1M9 312h1M42 312h1M49 312h1M7 311h1M20 310h1M38 310h1M49 310h1M14 307h1M20 307h1M43 307h1M27 306h1M54 306h1M25 304h1M32 304h1M28 303h2M2 301h1M11 300h1M21 299h1M26 298h1M31 298h1M0 297h1M9 297h1M31 297h1M35 297h1M30 295h1M38 295h1M46 294h1M30 293h1M35 293h1M40 293h1M45 293h1M5 292h1M20 292h1M22 292h1M16 291h1M40 291h1M25 290h1M34 289h1M46 287h1M38 286h1M50 286h1M56 286h1M54 284h1M36 283h1M26 279h1M40 279h1M29 273h1M41 273h1M22 267h1M35 267h1M37 267h1M26 266h1M30 266h1M39 266h1M45 266h1M50 266h1M4 265h1M36 265h1M28 264h1M21 263h1M35 263h1M5 261h1M41 258h1M56 258h1M41 257h1M38 255h1M10 254h1M18 253h1M36 253h1M26 250h1M7 249h1M10 249h2M20 245h1M41 245h1M5 244h1M27 244h2M31 244h1M50 244h1M40 243h1M9 238h2M0 237h1M6 235h1M5 233h1M30 233h1M32 233h1M39 231h1M1 229h1M27 228h1M35 228h1M38 228h1M8 227h1M32 227h1M34 227h1M5 225h1M2 223h1M30 223h1M28 221h1M2 217h1M10 217h1M44 217h1M46 217h1M32 215h1M0 210h1M37 210h2M41 207h1M32 203h1M42 203h2M33 200h1M52 194h1M40 189h1M55 189h1M41 188h1M51 182h1M22 180h1M40 171h1M23 168h1M56 168h1M21 167h1M46 167h1M44 164h1M46 164h1M4 162h2M12 161h1M24 160h1M2 153h1M32 152h1M35 152h1M38 151h1M53 150h1M9 148h1M13 148h1M55 148h1M30 138h1M40 137h1M40 135h1M16 130h1M18 130h1M27 130h1M17 129h2M54 129h1M56 127h1M31 122h1M45 120h1M44 116h1M41 115h1M51 113h1M43 111h1M32 108h1M37 106h1M41 106h1M24 105h1M28 105h1M35 105h1M7 104h1M32 102h1M26 96h1M40 95h1M4 89h1M27 87h1M29 83h1M21 80h1M4 79h2M36 77h1M47 75h1M47 74h2M32 73h1M40 73h1M9 65h1M37 64h1M2 57h1M41 54h1M42 53h1M15 49h1M5 47h1M29 46h1M34 44h1M36 44h1M51 40h1M38 39h2M43 39h1M47 39h1M35 36h1M29 34h1M39 34h1M52 32h1M42 30h1M31 28h1M30 19h2M40 15h1M48 13h1M29 11h1M41 10h1M36 9h1M17 8h1M47 5h1M34 1h1M47 1h1"/>
<path stroke="#0057ff" d="M17 488h1M22 488h1M52 488h1M1 484h1M8 483h1M44 483h1M49 483h1M17 482h1M54 482h1M12 479h1M1 478h1M0 477h1M8 477h1M37 475h1M11 474h1M3 472h1M7 472h1M55 472h1M0 471h1M44 471h1M46 471h1M53 471h2M52 470h3M56 470h1M36 467h1M44 467h2M12 466h1M18 464h1M31 464h1M22 460h1M34 460h1M44 460h1M3 457h1M14 457h1M2 456h1M34 456h1M42 456h1M50 456h1M56 456h1M12 454h1M20 454h1M37 453h1M31 452h1M52 452h1M56 451h1M14 450h1M18 450h1M20 450h1M8 448h2M14 448h1M38 448h1M8 447h1M34 447h1M8 446h1M11 444h1M0 443h1M10 443h1M24 443h1M30 443h1M34 443h1M46 443h1M48 443h1M2 442h1M22 442h1M17 441h1M53 441h1M33 440h1M48 439h1M41 438h1M10 437h1M25 437h1M28 437h1M37 437h1M17 436h1M38 436h1M16 435h1M23 435h1M44 435h1M5 434h1M29 434h1M39 434h1M15 433h1M28 433h1M14 432h1M21 431h1M37 431h1M18 430h1M24 430h2M6 429h1M17 429h1M30 429h2M40 429h1M42 427h1M23 426h1M6 425h1M7 424h1M29 424h1M50 424h1M10 423h1M11 422h1M42 422h1M0 420h1M2 420h1M42 420h1M30 418h1M43 418h1M0 417h1M27 417h1M11 416h1M22 416h1M37 416h1M15 415h1M22 415h1M41 415h2M4 414h1M39 413h1M30 412h2M23 411h1M33 411h1M26 410h1M33 410h1M39 408h1M26 407h1M42 407h1M2 406h1M32 406h1M9 405h1M28 405h1M36 405h1M39 405h1M39 404h1M44 403h1M9 402h1M22 402h1M37 402h1M23 401h1M46 401h1M46 400h1M11 399h1M29 399h1M33 399h1M3 398h1M30 398h1M7 397h1M1 396h1M3 396h1M22 396h1M8 395h1M36 395h1M6 394h1M36 394h1M12 392h1M24 390h1M0 389h1M11 389h1M22 389h1M35 389h1M47 389h1M12 388h1M27 387h1M39 387h1M41 387h1M47 387h1M49 387h1M53 387h1M23 386h1M41 386h1M0 385h1M41 385h1M15 384h2M26 384h1M51 384h1M3 383h1M0 382h1M43 382h1M28 381h1M6 380h1M8 380h1M12 380h1M23 380h1M30 380h1M39 380h2M46 380h1M27 379h1M50 379h1M6 378h1M27 378h1M31 377h1M42 377h1M30 375h1M34 375h1M46 374h1M20 373h1M27 373h1M30 373h1M4 372h1M6 372h1M17 372h1M5 371h1M21 371h1M27 371h1M9 370h2M40 370h1M45 370h1M8 369h1M38 369h1M45 369h1M20 368h1M28 368h1M40 368h1M44 368h1M27 366h1M23 365h1M4 364h1M30 364h1M34 364h1M0 363h1M12 363h1M37 363h1M15 362h1M31 362h1M38 362h1M0 361h1M30 361h1M2 360h1M27 360h1M30 360h1M29 358h1M4 356h1M11 356h1M28 356h1M32 356h1M13 354h1M46 354h1M9 353h1M28 353h1M40 353h1M3 350h1M22 349h1M17 343h1M26 343h1M32 343h1M1 342h1M0 341h1M8 341h3M39 339h1M32 337h1M46 337h1M5 336h1M4 335h1M6 334h1M23 334h1M5 333h1M38 332h1M49 332h1M7 328h1M41 328h1M7 327h1M8 323h1M39 323h1M11 322h1M25 321h1M29 320h1M27 319h2M10 318h1M48 317h1M7 316h1M24 316h1M7 313h1M41 313h1M27 312h2M30 312h1M23 311h1M9 310h1M39 310h1M44 310h1M21 309h1M19 307h1M25 306h1M45 305h1M48 305h1M50 305h2M3 304h1M10 304h1M37 303h1M44 302h1M12 300h1M6 299h1M39 298h1M37 297h2M30 294h1M38 294h1M5 293h1M29 293h1M30 292h1M36 292h1M55 291h1M7 289h1M28 289h1M30 289h1M29 288h1M38 287h1M41 287h1M26 286h1M36 284h1M20 282h1M28 282h1M24 281h1M5 280h1M41 280h1M50 280h1M29 274h1M28 273h1M37 273h1M21 272h1M29 272h1M21 270h1M28 269h1M31 266h1M46 266h1M5 265h1M27 264h1M9 262h1M37 256h1M39 256h1M43 254h1M35 253h1M43 253h1M36 252h1M10 250h1M16 249h1M11 248h1M29 246h1M49 244h1M47 242h1M38 240h1M42 239h2M29 237h1M17 236h1M6 234h1M35 234h1M44 232h1M41 231h1M19 228h1M30 228h1M10 227h1M41 225h1M22 224h1M24 224h1M39 222h1M1 217h1M37 217h1M42 217h1M40 216h2M42 215h1M42 212h1M43 210h1M30 206h1M40 206h1M47 204h1M40 203h2M0 202h1M41 197h1M45 197h1M39 196h1M29 190h1M31 190h1M38 185h1M39 184h1M39 182h1M46 178h1M38 176h1M40 172h1M10 169h1M29 169h1M3 162h1M21 161h1M43 159h1M5 154h1M40 152h1M11 150h2M54 150h1M54 149h1M22 148h1M40 148h1M10 141h1M32 138h1M31 137h1M39 136h3M54 135h1M27 134h1M10 131h1M26 130h1M51 130h1M20 129h2M40 128h1M42 128h1M0 121h1M55 114h1M30 104h1M7 102h1M38 101h1M28 96h1M39 94h2M39 93h1M24 90h1M26 87h1M36 84h1M24 74h1M46 74h1M24 73h1M44 68h1M31 66h1M36 60h1M37 59h1M41 57h1M4 47h1M40 47h1M44 47h1M33 45h1M11 37h1M11 35h2M24 24h1M10 23h1M33 2h1M40 0h3"/>
<path stroke="#06f" d="M14 486h1M43 486h1M17 485h1M16 484h1M46 482h1M54 481h1M45 480h1M17 479h1M20 479h1M0 476h1M16 476h1M20 475h1M56 475h1M14 474h1M11 473h1M30 472h1M56 472h1M31 471h1M33 471h1M55 471h1M24 470h1M44 470h1M7 469h1M40 467h1M32 465h1M25 462h2M22 461h2M42 461h1M45 461h1M35 460h1M45 460h1M3 459h1M40 459h1M44 459h1M3 458h1M34 457h1M4 456h1M2 454h1M33 453h1M36 453h1M30 452h1M47 452h1M10 451h1M24 451h1M48 451h1M55 451h1M19 450h1M37 450h1M14 449h1M24 449h1M2 448h1M17 448h1M18 447h1M23 446h1M33 446h1M0 444h1M35 444h1M55 442h1M9 441h1M12 439h1M25 439h1M44 439h1M36 438h1M9 437h1M32 437h1M14 436h1M25 435h1M7 434h1M10 434h1M25 433h1M40 433h1M13 432h1M29 432h1M36 432h1M25 431h1M7 430h1M17 430h1M21 430h1M7 429h1M29 428h1M36 428h1M22 427h1M36 427h1M41 427h1M37 425h1M34 423h1M1 422h1M10 422h1M43 421h2M27 420h1M1 419h1M3 418h1M46 418h1M29 417h1M31 417h1M34 417h1M39 417h1M7 416h2M28 416h1M39 414h1M27 412h1M36 412h1M54 410h1M37 409h1M26 408h1M20 407h1M31 407h1M27 406h1M39 406h1M44 406h1M10 405h1M23 405h1M54 405h1M9 404h1M29 404h1M45 403h1M44 402h1M46 402h1M56 402h1M4 401h1M39 401h1M48 401h1M10 400h1M41 400h2M11 398h1M31 398h1M28 397h1M38 397h1M6 395h1M5 394h1M25 394h1M45 390h1M15 389h1M45 389h2M49 389h1M34 388h1M4 386h1M11 386h1M30 386h1M12 385h1M23 385h1M29 385h1M45 385h1M6 384h1M30 384h1M37 384h1M8 383h1M37 383h1M43 383h2M25 382h1M2 381h1M9 380h1M11 380h1M31 380h1M36 380h1M44 380h1M4 379h1M23 379h2M28 379h1M24 378h2M36 378h2M46 377h1M40 376h1M0 375h1M2 375h1M24 375h1M27 374h1M34 374h1M26 373h1M32 373h1M26 371h1M38 371h1M28 369h1M32 369h1M9 368h1M33 368h1M39 368h1M38 367h1M10 366h1M12 365h1M32 365h1M24 364h1M40 364h1M26 361h1M14 360h1M24 360h1M4 359h1M27 359h1M24 358h1M30 358h1M6 356h1M30 356h1M52 356h1M0 354h1M29 354h1M37 354h1M9 352h1M26 352h1M22 351h1M28 351h1M37 350h1M39 350h2M43 350h1M24 349h1M38 349h1M1 348h2M21 348h1M2 344h1M42 344h1M27 343h1M37 343h1M6 341h2M12 341h1M29 340h1M38 340h1M11 339h1M27 335h1M44 335h1M4 334h1M28 334h1M33 332h1M22 331h2M27 330h2M32 330h1M30 328h1M10 327h1M9 326h1M22 323h2M20 322h2M30 321h1M36 321h1M26 320h1M29 319h1M51 317h1M28 315h1M6 311h1M30 311h1M28 309h1M34 309h1M26 305h1M0 304h1M9 304h1M18 302h1M20 302h1M2 300h1M29 299h1M36 299h1M36 297h1M44 297h1M36 295h1M3 294h1M40 294h1M2 292h1M21 292h1M26 289h1M29 289h1M37 289h1M55 289h1M39 287h1M4 286h1M29 285h1M31 285h1M35 284h1M9 279h1M4 273h1M3 268h1M0 267h1M26 267h1M30 265h1M0 264h1M30 264h1M54 264h2M34 263h1M38 259h1M40 258h1M40 257h1M27 256h1M46 256h1M36 254h1M44 254h1M9 253h1M34 252h1M36 250h1M40 246h1M39 245h1M42 245h1M27 233h1M44 233h1M34 230h1M26 228h1M32 228h1M23 224h1M3 219h1M5 218h1M43 217h1M24 206h1M29 206h1M39 203h1M25 200h1M41 199h1M34 185h1M42 172h1M21 168h1M24 168h1M46 168h1M42 159h1M31 158h1M32 151h1M35 141h2M31 129h1M39 129h1M39 128h1M43 128h1M38 114h1M12 108h1M25 105h2M28 102h1M39 100h1M24 96h2M40 81h1M40 68h1M41 53h1M40 39h1M28 28h1M32 27h1M39 22h1M30 14h1M43 0h1"/>
<path stroke="#0075ff" d="M48 489h1M18 488h1M16 487h1M13 483h1M18 483h1M55 483h1M30 482h1M30 481h1M33 481h1M46 480h1M17 475h1M30 475h1M3 474h1M0 472h1M31 472h1M51 471h1M6 469h1M41 469h1M20 467h1M4 466h1M9 465h1M0 463h1M46 463h1M20 462h1M45 462h1M2 461h1M15 461h1M21 458h1M42 457h1M52 456h1M29 455h1M40 455h1M1 454h1M11 454h1M40 454h1M8 453h1M10 453h1M36 452h1M45 452h1M37 451h1M52 451h1M54 451h1M15 450h1M17 450h1M44 450h1M41 448h1M10 447h1M13 447h1M10 446h1M25 446h1M32 446h1M23 445h1M10 444h1M28 444h1M38 443h1M9 442h1M11 442h1M30 442h1M26 441h1M45 440h2M6 439h1M19 438h1M21 437h1M46 437h1M3 436h1M25 436h1M13 434h1M2 433h1M27 433h1M44 432h1M52 432h1M11 428h1M16 428h1M22 426h1M9 425h1M36 425h1M5 423h1M0 421h1M11 421h1M41 420h1M8 417h1M2 416h1M17 416h2M21 416h1M5 414h1M36 414h1M40 414h1M48 413h1M6 412h1M22 412h1M28 412h1M30 411h2M36 411h1M45 410h1M28 409h1M38 409h1M44 409h2M24 408h1M25 407h1M44 407h1M21 406h1M24 402h2M28 402h1M35 402h1M26 401h1M39 400h1M44 400h1M40 399h1M18 398h1M3 397h1M5 397h1M36 397h1M12 396h1M28 395h1M44 395h1M28 394h1M37 394h1M11 392h1M2 391h1M23 390h1M15 388h1M53 388h1M14 387h1M50 387h1M32 386h1M50 386h1M5 384h1M23 384h1M1 382h1M8 382h1M1 381h1M29 380h1M32 380h1M41 377h1M31 375h1M20 372h1M29 372h1M35 372h1M38 372h1M9 371h1M24 370h1M21 368h1M46 368h1M11 365h1M41 365h1M25 362h1M30 362h1M25 361h1M1 360h1M15 360h1M44 360h1M31 358h1M7 357h1M44 357h1M45 356h1M48 356h1M35 355h1M27 351h1M1 350h1M32 350h1M34 350h1M45 350h1M5 344h1M0 343h1M38 343h1M54 343h1M37 342h1M11 341h1M10 339h1M12 336h1M28 333h1M21 331h1M24 331h1M29 331h1M41 323h1M30 322h1M50 321h1M44 320h1M5 318h1M5 316h1M27 313h2M39 313h1M22 309h1M29 309h1M28 308h1M15 307h1M37 306h1M12 305h1M42 305h1M31 304h1M9 298h1M32 296h1M4 293h1M22 291h1M11 287h2M5 286h1M27 286h1M32 286h1M28 285h1M25 284h1M4 281h1M7 280h1M35 280h1M37 280h2M39 279h1M42 272h1M10 269h1M42 266h1M44 266h1M31 263h1M35 259h1M9 255h1M10 253h1M34 253h1M40 253h1M42 252h1M7 248h2M40 247h1M45 234h1M30 221h2M0 217h1M40 212h1M0 211h1M30 207h1M31 206h1M41 206h1M41 198h1M43 191h1M30 188h1M35 185h3M39 185h1M45 179h1M43 168h1M37 162h1M4 161h2M37 161h1M6 154h2M37 151h1M11 149h2M12 148h1M30 137h1M11 129h1M24 129h1M45 128h1M34 105h1M29 101h1M38 100h1M41 82h1M41 81h1M46 75h1M41 68h1M43 68h1M42 39h1M36 36h1"/>
<path stroke="#0085ff" d="M56 489h1M1 487h1M20 487h1M37 486h2M1 485h1M53 483h1M45 482h1M56 482h1M19 479h1M10 477h1M34 477h1M19 476h1M50 476h1M1 475h1M42 473h1M5 471h1M34 471h1M25 469h1M31 469h1M7 468h1M19 466h1M26 465h1M41 465h1M32 464h1M41 464h1M20 463h1M22 462h2M40 462h1M44 462h1M32 458h1M38 458h1M44 457h1M31 456h1M44 456h1M29 454h1M38 454h1M42 454h2M46 453h1M23 451h1M46 451h1M49 451h1M51 451h1M33 450h1M45 450h2M44 449h1M25 448h1M1 447h1M15 447h1M17 447h1M25 447h1M31 446h1M24 445h1M41 445h1M12 444h1M6 443h1M23 443h1M35 443h1M7 442h1M39 441h1M42 441h1M44 441h1M3 440h1M9 440h1M37 440h1M38 439h1M7 438h1M4 437h1M31 436h1M22 435h1M26 435h1M30 434h1M43 433h1M26 432h1M32 432h1M37 432h1M53 432h1M12 431h1M22 430h1M22 428h1M42 428h1M21 427h1M10 421h1M6 420h1M4 419h1M11 419h1M25 419h1M41 418h1M2 417h1M45 417h1M27 416h1M38 416h1M42 416h1M9 415h1M1 414h1M3 414h1M24 414h1M12 413h1M26 413h1M29 412h1M12 411h1M4 410h1M37 406h1M41 406h1M12 405h1M29 405h1M31 404h1M25 403h1M38 403h2M38 402h1M1 400h1M5 400h1M7 400h1M36 398h1M37 397h1M0 396h1M10 395h1M26 391h1M28 389h1M38 388h1M5 387h1M11 387h1M13 387h1M38 387h1M29 386h1M37 386h1M36 385h1M42 385h1M22 384h1M7 383h1M45 383h1M39 381h1M26 379h1M5 377h1M28 377h1M0 376h1M21 372h1M11 371h1M36 369h1M12 368h1M31 365h1M7 361h1M26 360h1M46 360h1M23 359h1M42 359h1M5 356h1M51 356h1M45 355h1M23 354h1M36 354h1M4 353h1M18 353h1M23 353h1M44 353h1M47 353h1M56 352h1M44 351h1M21 349h1M32 349h1M37 349h1M24 348h1M4 347h1M1 344h1M28 344h2M3 343h1M46 343h1M32 336h1M42 335h1M30 332h1M36 332h1M28 328h1M22 322h1M25 320h1M21 319h1M9 318h1M39 314h1M29 311h1M25 310h1M29 308h1M12 307h1M11 305h1M49 305h1M26 304h1M12 303h1M30 298h1M24 297h1M37 295h1M40 295h1M25 289h1M31 288h1M41 288h1M45 288h1M39 281h1M39 280h1M44 279h1M5 273h1M29 271h1M36 267h1M39 257h1M46 255h1M32 249h1M43 245h1M6 233h1M43 232h1M30 231h1M29 230h1M43 229h1M31 228h1M9 227h1M43 218h1M10 216h1M46 203h1M37 201h1M40 197h1M29 188h1M44 157h1M41 142h1M39 73h1M42 68h1M36 59h1M41 39h1M41 30h1M40 11h2M39 0h1"/>
<path stroke="#0094ff" d="M3 489h1M19 489h1M20 488h1M35 488h1M43 488h1M13 486h1M15 486h1M17 486h1M13 485h1M43 485h1M17 484h1M43 483h1M50 481h1M36 480h1M43 480h1M43 477h1M46 476h1M0 475h1M3 475h1M0 473h1M5 472h1M4 471h1M6 470h1M12 468h1M15 468h1M34 467h1M30 466h1M40 464h1M8 463h1M37 463h1M3 461h1M41 461h1M10 457h1M11 456h1M19 456h1M33 452h1M11 451h1M29 451h1M42 451h1M50 451h1M30 450h1M23 449h1M36 448h1M16 447h1M26 447h1M9 446h1M37 446h1M40 446h1M40 445h1M4 444h1M42 443h1M45 443h1M3 442h1M23 442h1M42 442h1M44 442h1M54 442h1M3 441h1M11 441h1M20 441h1M36 441h1M45 439h1M40 438h1M5 437h1M30 437h1M30 436h1M36 436h1M39 436h1M44 436h1M45 435h1M14 434h1M23 434h2M1 433h1M16 433h1M24 433h1M30 433h1M22 431h1M54 430h1M21 428h1M25 428h1M31 428h1M12 426h1M7 425h1M40 425h1M46 425h1M37 424h1M2 423h1M0 422h1M24 419h1M43 417h1M19 416h1M41 416h1M5 415h1M23 414h1M27 414h1M12 412h1M23 412h1M50 412h1M0 411h1M7 407h1M3 405h1M1 404h1M36 403h1M29 402h2M28 399h1M23 398h1M27 396h1M5 395h1M26 393h1M39 393h1M10 389h1M25 389h1M13 388h1M24 387h1M28 386h1M38 386h1M11 385h1M21 385h1M35 385h1M29 384h1M0 381h1M9 381h1M41 381h1M37 379h1M7 378h1M55 377h1M24 373h1M10 372h1M0 371h1M24 371h1M40 371h1M42 371h1M44 370h1M42 368h1M40 365h1M32 363h1M41 363h1M23 361h1M32 359h1M0 357h1M31 357h1M27 356h1M47 354h1M42 351h1M11 348h1M27 348h1M26 345h1M0 344h1M31 342h1M46 342h1M25 341h1M27 341h1M23 336h1M36 329h1M11 323h1M43 320h1M2 316h1M6 316h1M44 313h1M26 310h2M11 309h1M30 307h1M0 305h2M31 296h1M24 292h1M26 292h1M21 291h1M25 291h1M28 290h1M2 288h1M42 287h1M43 286h1M26 282h1M41 270h1M29 269h1M27 266h1M43 266h1M37 257h1M38 256h1M43 252h1M46 252h1M34 229h1M34 228h1M41 212h1M40 182h1M45 164h1M36 159h1M37 136h1M46 128h1M44 112h1M40 96h1M40 82h1"/>
<path stroke="#00a3ff" d="M53 488h1M8 487h1M1 486h1M42 485h1M42 483h1M43 482h1M1 481h1M11 481h1M36 477h1M9 476h1M36 476h1M52 471h1M15 470h1M31 470h1M36 470h1M51 470h1M23 469h1M20 466h1M26 466h1M35 466h1M7 465h1M21 465h1M40 465h1M12 463h1M32 462h1M37 462h1M27 460h1M33 458h1M12 456h1M39 456h1M22 455h1M28 454h1M46 454h1M3 453h1M45 453h1M25 452h1M43 452h1M10 448h1M29 448h1M3 446h1M41 446h1M7 445h1M29 443h1M4 441h1M21 441h1M29 441h1M2 440h1M5 440h1M12 440h1M28 440h1M22 439h1M2 438h1M7 437h2M9 436h1M55 434h1M3 433h1M5 432h2M4 431h1M32 431h1M40 431h1M3 429h1M28 429h1M45 429h1M52 429h1M10 428h1M40 428h1M46 427h1M40 426h1M26 425h1M17 424h1M21 424h1M40 423h1M42 423h1M23 422h1M42 419h1M9 417h1M11 417h1M26 415h1M28 414h1M21 412h1M40 412h1M24 410h1M27 409h1M24 404h1M37 403h1M40 403h1M39 402h1M41 399h1M10 398h1M21 397h1M29 397h1M2 396h1M28 396h1M25 388h1M46 388h1M44 387h1M49 386h1M50 385h2M7 384h1M28 384h1M41 384h1M9 383h1M46 383h1M42 382h1M8 381h1M4 378h1M29 378h1M51 378h1M3 377h1M27 377h1M40 377h1M3 375h1M39 373h2M36 372h1M10 371h1M23 370h1M38 368h1M9 366h1M32 366h1M25 365h1M32 364h1M28 363h1M30 363h1M46 363h1M0 360h1M23 360h1M45 354h1M2 350h1M11 350h1M5 347h1M44 346h1M7 324h1M12 323h1M10 320h1M39 315h1M29 312h1M9 311h1M27 311h1M23 292h1M25 292h1M27 292h1M42 288h1M45 286h1M26 285h1M34 280h1M36 280h1M34 267h1M37 259h1M38 257h1M29 244h1M40 231h1M30 190h1M38 136h1"/>
<path stroke="#00b2ff" d="M51 488h1M43 487h1M16 486h1M20 486h1M46 484h1M16 483h1M30 483h1M42 481h1M46 481h1M3 480h1M35 479h1M30 477h1M30 476h1M34 476h1M9 475h1M4 473h2M20 473h1M14 472h1M3 471h1M25 471h1M45 471h1M5 470h1M30 470h1M13 469h1M32 469h1M56 469h1M26 468h1M30 468h2M30 467h2M39 467h1M28 466h1M40 466h1M39 465h1M7 464h1M28 464h1M31 463h1M4 462h1M40 461h1M11 460h1M40 460h1M10 456h1M41 456h1M25 455h1M41 455h1M4 454h1M42 453h1M11 452h1M28 452h1M46 452h1M4 450h1M16 450h1M28 450h1M11 449h1M28 449h1M3 448h1M0 447h1M7 447h1M9 447h1M14 447h1M19 447h1M28 446h1M34 446h1M6 445h1M24 444h1M5 442h1M29 442h1M39 442h1M29 440h1M9 439h1M28 438h1M31 437h1M39 437h1M7 435h1M0 434h1M4 433h1M7 433h1M37 433h1M4 432h1M7 432h1M27 428h1M43 427h1M25 425h1M23 424h1M23 423h1M27 423h1M33 423h1M45 422h1M46 421h1M46 420h1M42 417h1M38 415h1M20 414h1M22 414h1M37 411h1M55 410h1M19 407h1M21 407h1M24 406h1M45 402h1M24 399h1M27 399h1M27 398h1M37 393h1M39 392h1M26 389h2M48 389h1M24 388h1M29 388h1M45 388h1M23 387h1M36 387h1M5 386h1M38 385h1M40 384h1M42 384h1M25 383h1M42 383h1M56 382h1M6 377h2M30 377h1M3 376h1M26 374h1M25 373h1M23 372h2M11 370h1M45 368h1M36 363h1M36 362h1M31 359h1M7 358h1M42 358h1M31 356h1M0 355h1M7 350h1M3 344h1M31 343h1M0 342h1M31 341h1M24 339h1M4 336h1M6 324h1M42 323h1M5 317h1M3 316h1M40 315h1M24 311h2M23 310h1M7 307h1M29 307h1M27 305h1M5 304h1M28 304h1M11 303h1M29 298h1M30 296h1M4 294h1M29 294h1M37 294h1M37 293h1M46 293h1M28 292h1M37 292h1M42 286h1M27 282h1M11 276h1M45 270h1M24 264h1M36 259h1M31 232h2M42 225h1M40 185h1"/>
<path stroke="#0cf" d="M18 489h1M20 489h1M45 489h1M1 488h1M8 488h1M54 487h1M56 487h1M32 485h1M35 485h1M34 484h1M34 483h1M34 482h1M38 481h1M34 479h1M42 478h1M2 477h1M11 477h1M31 477h1M42 477h1M37 476h1M31 475h1M47 475h1M30 474h1M10 473h1M26 473h1M4 472h1M24 472h1M38 472h1M2 471h1M7 471h1M37 471h2M3 470h1M37 470h1M40 470h1M2 468h1M10 468h1M36 468h1M9 467h1M12 467h1M41 467h1M9 466h1M23 466h1M44 466h1M22 465h1M27 465h1M0 464h1M4 464h1M22 464h1M26 463h1M40 463h1M36 462h1M9 461h1M36 461h1M9 460h1M31 460h1M24 459h1M39 459h1M11 458h1M25 457h1M56 457h1M20 456h1M28 456h2M38 456h1M7 455h1M21 455h1M26 455h1M32 454h1M4 453h1M7 453h1M29 452h1M32 452h1M7 451h1M12 451h1M11 450h1M40 450h1M22 449h1M39 449h1M30 448h1M47 448h1M12 447h1M44 447h1M5 446h1M7 446h1M37 443h1M39 443h1M10 442h1M21 440h1M30 439h1M11 438h1M17 438h1M26 437h1M8 436h1M21 436h1M46 436h1M6 435h1M28 435h1M36 435h1M56 434h1M4 430h1M55 429h1M32 428h1M31 427h2M40 427h1M31 426h1M44 426h1M2 425h1M13 425h1M5 424h1M16 424h1M26 424h2M17 423h1M4 422h1M40 422h1M44 422h1M45 421h1M3 419h1M41 419h1M42 418h1M36 417h1M29 414h1M38 414h1M45 413h1M21 411h1M24 411h1M40 408h1M10 406h2M45 406h1M24 405h1M38 405h1M27 402h1M27 400h1M12 399h1M44 399h1M2 398h1M25 396h1M26 394h2M36 393h1M25 391h1M0 387h1M24 386h1M42 381h1M38 380h1M4 377h1M39 377h1M23 376h1M24 374h2M40 372h1M42 372h1M39 371h1M39 365h1M35 364h1M35 356h1M42 356h1M30 354h1M28 352h1M21 351h1M10 348h1M4 344h1M30 344h1M2 343h1M28 343h1M27 342h1M29 329h2M10 326h1M45 320h1M29 315h1M43 313h1M24 310h1M6 307h1M4 304h1M27 304h1M23 291h2M30 288h1M27 285h1M24 282h2M46 270h1M37 252h1M44 245h1M30 232h1"/>
<path stroke="#00e6f7" d="M44 489h1M54 489h1M33 488h1M55 488h2M33 487h1M51 487h1M55 487h1M42 486h1M46 485h1M20 484h1M30 484h1M32 484h1M45 484h1M17 483h1M38 483h1M45 483h2M52 483h1M42 482h1M11 480h2M20 480h1M44 480h1M18 479h1M21 478h1M38 478h1M42 475h1M25 473h1M25 472h1M39 472h1M41 471h1M18 470h1M15 469h1M37 469h1M39 469h1M18 468h1M42 468h1M11 467h1M22 467h1M35 467h1M32 466h1M39 466h1M11 465h1M24 465h1M28 465h1M30 465h1M21 464h1M28 463h1M0 461h1M5 461h1M3 460h1M10 459h3M32 459h1M10 458h1M27 457h1M29 457h1M38 457h2M43 457h1M18 456h1M51 456h1M4 455h1M24 455h1M23 454h1M25 454h2M2 453h1M32 453h1M41 453h1M6 452h1M40 452h1M27 451h2M12 450h1M47 450h1M32 448h1M37 448h1M39 448h1M11 446h2M38 446h1M7 444h1M29 444h1M39 444h1M46 442h1M5 441h2M46 441h1M7 439h1M39 439h1M18 438h1M38 437h1M4 436h1M7 436h1M41 436h1M24 435h1M39 435h1M9 433h2M55 433h2M29 431h3M6 430h1M23 430h1M54 429h1M13 428h1M45 428h1M49 428h1M12 427h2M22 424h1M18 423h1M38 423h1M15 422h1M18 422h1M22 422h1M28 422h1M31 422h1M47 422h1M23 420h1M26 420h1M45 420h1M22 419h1M2 418h1M44 418h1M10 417h1M44 417h1M30 416h1M2 415h1M21 414h1M7 412h1M10 412h1M39 411h1M23 410h1M28 408h1M45 408h1M11 405h1M26 402h1M36 402h1M23 400h1M28 400h1M40 400h1M36 396h2M42 396h1M27 395h1M35 386h1M31 381h2M28 378h1M26 376h1M41 367h1M41 364h1M29 363h1M31 363h1M37 362h1M32 360h1M34 356h1M27 352h1M29 332h1M31 332h1M32 328h1M21 310h1M36 293h1M46 286h1M40 245h1"/>
<path stroke="#15ffe2" d="M34 489h1M37 489h1M49 488h1M54 488h1M35 486h1M20 485h1M47 485h1M31 484h1M32 483h1M31 481h1M43 481h1M36 478h1M32 477h1M37 477h1M45 477h1M21 476h1M19 475h1M32 475h1M32 474h1M3 473h1M26 471h1M30 471h1M36 471h1M39 471h1M42 471h1M25 470h1M39 470h1M50 470h1M38 469h1M40 469h1M32 468h1M37 468h1M7 467h1M21 466h2M46 466h1M23 465h1M31 465h1M37 465h1M26 464h1M36 464h1M39 464h1M3 463h1M5 463h1M23 463h2M27 463h1M38 462h1M37 461h1M26 460h1M31 459h1M4 458h1M28 458h1M0 457h1M6 456h1M22 456h1M6 453h1M12 453h1M36 451h1M41 451h1M45 451h1M6 450h1M21 450h1M12 449h1M27 449h1M16 448h1M26 448h1M39 447h1M41 447h1M46 447h1M5 445h1M27 443h1M41 443h1M44 443h1M23 441h1M5 439h1M29 439h1M29 438h1M16 436h1M26 436h1M2 434h1M31 434h1M12 433h3M36 433h1M31 432h1M27 431h1M3 430h1M52 430h1M41 429h1M49 429h1M23 428h1M49 427h1M10 426h1M13 426h1M21 426h1M46 426h1M49 426h1M10 425h1M31 425h1M39 425h1M24 424h2M32 424h1M38 424h1M43 424h1M43 423h1M9 421h1M31 421h1M47 421h1M47 420h1M36 418h1M23 416h1M36 416h1M39 416h1M27 415h1M0 414h1M31 414h1M37 414h1M2 411h1M32 410h1M27 408h1M29 408h1M4 406h1M23 404h1M30 404h1M24 401h1M27 401h1M38 401h1M42 399h1M39 398h1M7 395h1M26 395h1M39 394h1M37 387h1M0 386h1M39 386h1M39 385h1M0 383h1M9 382h1M24 377h1M32 368h1M32 367h1M31 364h1M31 360h1M44 356h1M29 353h1M31 353h1M46 353h1M25 345h1M32 344h1M28 341h1M39 328h1M22 310h1"/>
<path stroke="#29ffce" d="M49 489h3M34 488h1M49 487h1M33 486h1M31 485h1M43 484h1M33 482h1M55 482h1M2 480h1M31 480h1M44 477h1M2 476h1M44 475h1M2 473h1M24 473h1M41 473h1M2 472h1M26 472h1M32 472h1M24 471h1M56 471h1M2 470h1M14 470h1M9 469h1M12 469h1M26 469h1M36 469h1M55 469h1M11 466h1M25 465h1M11 464h1M23 464h1M4 463h1M7 463h1M21 463h1M32 463h1M38 463h1M9 462h1M11 462h1M29 462h1M32 461h1M41 460h1M5 459h1M28 459h1M5 458h1M27 458h1M37 458h1M26 457h1M30 454h1M1 453h1M27 453h1M44 452h1M25 450h1M4 449h1M47 449h1M7 448h1M12 445h1M32 441h1M10 440h1M11 439h1M41 439h1M5 438h1M32 434h1M37 434h1M6 433h1M8 433h1M44 433h1M38 431h1M45 431h1M12 428h1M24 428h1M15 427h1M11 426h1M11 425h1M49 425h1M16 423h1M24 423h1M36 423h1M45 423h2M33 422h1M36 422h1M23 421h1M36 421h1M15 420h1M25 420h1M36 420h1M23 419h1M30 417h1M40 416h1M2 414h1M26 414h1M0 413h1M11 412h1M39 412h1M29 411h1M22 407h1M24 407h1M23 406h1M25 406h1M37 405h1M45 399h1M38 398h1M26 396h1M38 393h1M37 388h1M7 387h1M46 387h1M6 386h1M5 381h1M37 380h1M31 373h1M39 372h1M24 361h1M44 350h1M29 341h1M9 337h1M42 313h1"/>
<path stroke="#3effb9" d="M8 489h1M29 489h1M42 489h1M50 488h1M42 487h1M50 487h1M15 483h1M20 482h1M4 480h1M31 479h1M37 479h1M42 479h1M44 479h1M31 478h1M34 478h1M38 477h1M3 476h1M10 476h1M38 476h1M45 476h1M10 475h1M46 473h1M40 471h1M23 470h1M32 470h1M55 470h1M2 469h1M14 469h1M17 469h2M22 469h1M29 467h1M42 467h1M2 466h1M38 465h1M24 464h1M29 464h1M29 463h1M41 463h1M12 461h1M28 460h1M4 459h1M29 459h1M6 458h1M41 454h1M11 453h1M25 453h1M5 452h1M39 452h1M41 452h1M25 451h1M41 450h1M17 449h3M40 449h2M31 448h1M28 447h1M45 447h1M39 445h1M28 443h1M28 442h1M6 440h1M39 440h1M37 438h1M45 436h1M29 435h1M6 434h1M31 433h1M7 431h1M39 431h1M55 430h1M23 429h1M9 428h1M41 428h1M7 426h1M1 425h1M38 425h1M10 424h3M31 424h1M46 424h1M49 424h1M15 423h1M26 423h1M32 423h1M41 423h1M2 422h1M33 421h1M42 421h1M28 420h1M0 419h1M45 418h1M32 417h1M30 415h1M32 411h1M26 406h1M2 405h1M4 400h1M38 394h1M44 388h1M38 384h1M36 379h1M3 378h1M27 376h1M23 371h1M41 368h1M23 358h1M30 353h1M30 341h1M32 332h1M40 328h1M40 323h1"/>
<path stroke="#52ffa5" d="M36 484h1M38 482h1M20 481h1M37 481h1M44 481h1M30 480h1M4 479h1M37 478h1M32 476h1M45 475h1M32 473h1M40 473h1M40 472h1M42 472h1M17 470h1M46 470h1M30 469h1M0 468h1M40 468h1M0 466h1M29 466h1M42 466h2M25 463h1M39 462h1M11 461h1M29 461h1M38 461h1M25 460h1M29 460h1M26 459h1M25 458h1M11 457h1M0 456h1M30 456h1M6 455h1M10 455h2M0 454h1M5 454h1M26 452h1M5 450h1M27 450h1M0 449h1M40 448h1M39 446h1M28 445h1M5 444h1M5 443h1M7 443h1M45 441h1M11 440h1M31 440h1M28 439h1M40 439h1M6 438h1M29 437h1M27 436h1M23 431h1M5 429h1M6 427h2M6 426h1M9 423h1M29 423h3M41 421h1M2 419h1M36 419h1M40 417h1M23 415h1M30 414h1M3 411h1M5 410h1M45 407h1M25 404h1M28 398h2M40 392h1M36 389h1M45 380h1M2 378h1M41 372h1M31 361h1M31 344h1"/>
<path stroke="#67ff90" d="M28 489h1M42 480h1M5 477h1M2 474h1M32 471h1M13 470h1M0 469h1M22 468h1M39 468h1M41 468h1M2 467h1M10 467h1M38 466h1M6 465h1M29 465h1M5 464h1M36 463h1M10 461h1M39 461h1M24 460h1M36 460h1M9 458h1M29 458h1M12 457h1M36 457h1M40 457h1M7 456h1M12 455h1M27 455h1M7 454h1M7 452h1M42 452h1M6 451h1M40 451h1M30 449h1M32 449h1M0 448h1M11 447h1M41 442h1M45 442h1M42 439h1M27 434h1M0 433h1M11 433h1M6 431h1M26 431h1M28 431h1M44 431h1M26 428h1M5 426h1M9 426h1M15 426h1M42 425h1M28 424h1M40 424h1M8 423h1M44 423h1M14 421h1M33 420h1M35 418h1M24 415h1M37 415h1M23 407h1M3 406h1M42 406h1M25 405h1M38 404h1M23 399h1M36 386h1M7 381h1M24 365h1"/>
<path stroke="#7bff7b" d="M42 488h1M21 486h1M51 486h1M2 484h1M38 484h1M31 483h1M36 483h1M31 482h1M34 480h1M27 479h1M46 475h1M0 474h1M46 474h1M9 473h1M30 473h2M39 473h1M44 473h1M9 472h1M9 470h1M41 470h1M3 468h1M6 467h1M6 466h1M24 466h1M6 462h1M30 462h1M5 460h1M25 459h1M8 458h1M12 458h1M36 458h1M7 457h1M37 457h1M41 457h1M5 455h1M9 453h1M39 453h2M5 449h1M4 448h1M29 446h1M9 445h1M27 445h1M29 445h1M27 444h1M22 441h1M27 441h1M38 440h1M39 438h1M24 436h1M29 436h1M21 435h1M30 432h1M5 431h1M45 430h1M3 425h1M8 424h1M41 424h1M12 422h1M21 422h1M30 422h1M2 421h1M15 421h1M29 421h1M31 416h1M36 388h1M6 387h1M31 387h1M45 387h1M3 381h2M37 369h1"/>
<path stroke="#90ff67" d="M2 488h1M21 488h1M34 486h1M2 485h1M20 483h1M37 483h1M27 480h1M36 479h1M2 475h1M42 474h1M16 470h1M21 470h1M9 468h1M21 468h1M4 467h1M7 466h1M33 466h1M41 466h1M0 465h1M2 465h1M30 463h1M0 462h1M2 462h1M41 462h1M24 461h1M28 461h1M4 460h1M10 460h1M12 460h1M39 460h1M7 459h1M24 457h1M28 457h1M0 455h1M28 455h1M12 452h1M7 450h1M27 447h1M9 444h1M28 441h1M32 440h1M42 436h1M5 433h1M28 432h1M42 430h1M15 424h1M12 423h1M25 423h1M37 422h1M28 421h1M9 416h1M32 416h1M21 415h1M24 376h2"/>
<path stroke="#a5ff52" d="M55 489h1M21 487h1M34 487h1M4 485h1M37 484h1M32 482h1M37 482h1M34 481h1M37 480h1M38 479h1M44 478h1M23 476h1M44 476h1M29 475h1M11 472h1M11 471h1M21 471h1M23 471h1M19 469h1M42 469h1M6 468h1M5 467h1M21 467h1M38 467h1M34 466h1M25 464h1M27 464h1M12 462h1M42 462h1M4 461h1M6 460h1M36 459h1M41 458h1M25 456h1M37 456h1M29 453h1M39 451h1M23 450h1M29 447h1M41 441h1M27 437h1M6 436h1M28 436h1M42 433h1M46 433h1M5 430h1M44 430h1M28 428h1M48 426h1M50 426h1M15 425h1M42 424h1M21 423h1M41 422h1M31 415h1M26 405h1M6 381h1"/>
<path stroke="#b9ff3e" d="M2 489h1M46 489h1M28 485h1M44 484h1M38 480h1M32 478h1M28 476h1M42 476h1M29 474h1M31 474h1M34 474h1M21 473h1M37 473h1M12 472h1M21 472h1M23 472h1M7 470h1M4 469h1M16 469h1M21 469h1M0 467h1M32 467h1M37 466h1M5 465h1M6 463h1M9 463h1M7 462h1M7 460h1M37 460h1M41 459h1M21 456h1M23 455h1M39 450h1M27 440h1M27 438h1M5 435h1M27 435h1M42 432h1M41 425h1M9 424h1M44 424h1M28 423h1M39 423h1M14 422h1M29 422h1M7 417h1M30 387h1"/>
<path stroke="#ceff29" d="M47 489h1M46 488h1M47 486h1M37 485h1M9 482h1M32 480h1M2 478h1M21 477h1M6 475h1M9 474h1M38 474h1M44 474h1M22 473h2M37 472h1M4 470h1M3 469h1M4 468h1M23 468h1M28 468h1M6 464h1M39 463h1M7 461h1M30 460h1M24 458h1M26 456h1M6 454h1M24 454h1M27 454h1M0 453h1M24 453h1M5 451h1M26 450h1M6 449h1M6 448h1M27 448h1M40 447h1M27 442h1M38 441h1M39 424h1M14 423h1M13 422h1M32 422h1M32 420h1M39 384h1"/>
<path stroke="#e2ff15" d="M4 489h1M46 487h1M28 486h1M23 482h1M22 481h1M28 480h1M30 478h1M29 477h1M6 476h1M7 474h1M23 474h1M7 473h1M22 472h1M22 471h1M27 471h1M22 470h1M42 470h1M23 467h1M10 463h1M10 462h1M26 461h1M0 460h1M6 459h1M9 459h1M31 455h1M42 450h1M7 449h1M10 449h1M5 448h1M42 438h1M36 434h1M41 433h1M42 431h1M4 429h1M50 428h1M13 421h1M32 421h1M22 420h1M28 387h2"/>
<path stroke="#f7f600" d="M43 489h1M4 488h1M37 488h1M47 487h1M46 486h1M44 485h1M11 483h1M36 482h1M9 481h2M22 480h1M28 479h1M32 479h1M12 478h1M29 476h1M22 475h2M25 475h2M6 474h1M22 474h1M45 474h1M29 473h1M38 473h1M10 472h1M10 471h1M12 470h1M11 469h1M29 469h1M11 468h1M9 464h1M25 461h1M30 461h1M7 458h1M6 457h1M27 456h1M39 454h1M24 452h1M27 452h1M31 449h1M27 446h1M5 436h1M45 433h1M41 432h1M47 426h1M20 424h1M19 422h1M22 421h1M34 419h1"/>
<path stroke="#ffc600" d="M47 488h1M36 487h2M23 486h1M30 485h1M9 484h3M28 484h1M21 483h1M0 482h1M10 482h2M32 481h1M36 481h1M2 479h1M45 478h1M6 477h1M9 477h1M12 477h1M12 476h1M25 474h1M28 471h1M10 469h1M28 467h1M10 464h1M11 463h1M3 462h1M21 462h1M24 462h1M31 462h1M6 461h1M27 461h1M31 461h1M37 459h1M5 456h1M30 455h1M39 455h1M5 453h1M9 450h1M29 449h1M38 438h1M32 433h1M52 428h2M27 427h1M51 427h2M18 425h1M13 423h1M19 423h2M20 422h1M30 421h1M35 419h1M34 418h1"/>
<path stroke="#ff9700" d="M27 489h1M36 489h1M36 488h1M38 487h1M36 486h1M3 485h1M34 485h1M45 485h1M9 483h2M21 479h2M30 479h1M23 478h1M3 477h1M23 477h1M22 476h1M7 475h1M21 475h1M41 475h1M26 474h2M41 474h1M6 473h1M36 473h1M36 472h1M12 471h1M10 470h1M38 470h1M5 468h1M27 462h1M38 459h1M40 456h1M9 449h1M5 447h1M7 440h1M27 439h1M51 428h1M24 427h1M28 427h2M48 427h1M50 427h1M53 427h1M18 424h1M21 421h1M20 420h1"/>
<path stroke="#ff6800" d="M33 489h1M23 488h1M38 488h1M23 487h1M27 486h1M3 484h1M22 484h1M0 483h1M12 483h1M23 481h1M23 480h1M45 479h1M3 478h1M7 477h1M22 477h1M7 476h1M24 475h1M27 475h1M40 475h1M28 470h1M28 469h1M29 468h1M37 467h1M27 466h1M5 462h1M5 457h1M31 454h1M22 450h1M27 432h1M25 427h2M55 427h1M28 426h2M19 424h1M21 420h1"/>
<path stroke="#ff3900" d="M23 489h1M12 484h1M21 480h1M3 479h1M9 478h1M26 476h1M40 476h1M21 474h1M28 472h1M41 472h1M11 470h1M5 469h1M10 450h1M55 428h1M16 426h1M17 425h1M20 421h1"/>
<path stroke="#f30900" d="M0 489h1M38 489h1M44 488h1M27 487h1M12 481h1M24 474h1M40 474h1M27 467h1M38 460h1M27 459h1M26 451h1M54 428h1M54 427h1M17 426h1M16 425h1"/>
<path stroke="#b90000" d="M27 488h1M44 487h1M44 486h1M36 485h1M22 478h1"/>
<path stroke="#800000" d="M29 483h1M12 482h1M21 482h1M21 481h1M23 479h1M9 471h1M56 428h1M56 427h1"/>
<path stroke="#800000" d="M5 489h3M9 489h4M24 489h3M30 489h3M39 489h3M0 488h1M5 488h3M9 488h4M24 488h3M28 488h5M39 488h3M45 488h1M0 487h1M2 487h6M9 487h4M24 487h3M28 487h5M39 487h3M45 487h1M0 486h1M2 486h6M9 486h4M24 486h3M29 486h4M39 486h3M45 486h1M0 485h1M5 485h3M9 485h4M21 485h7M29 485h1M39 485h3M0 484h1M4 484h4M21 484h1M23 484h5M29 484h1M39 484h3M2 483h6M22 483h7M39 483h3M2 482h6M22 482h1M24 482h6M39 482h3M0 481h1M2 481h6M24 481h6M39 481h3M0 480h1M5 480h3M9 480h2M24 480h3M29 480h1M39 480h3M0 479h1M5 479h3M9 479h3M24 479h3M29 479h1M39 479h3M0 478h1M5 478h3M10 478h2M24 478h6M39 478h3M24 477h5M39 477h3M5 476h1M24 476h2M27 476h1M39 476h1M41 476h1M5 475h1M12 475h1M28 475h1M39 475h1M4 474h2M12 474h1M28 474h1M39 474h1M12 473h1M27 473h2M27 472h1M29 472h1M29 471h1M27 470h1M29 470h1M27 469h1M27 468h1"/>
</g>
<rect class="ln" x="72.5" y="205.4" width="554" height="490"/>
<path class="ln" d="M72.5 205.4h-3.5M72.5 266.65h-3.5M72.5 327.9h-3.5M72.5 389.15h-3.5M72.5 450.4h-3.5M72.5 511.65h-3.5M72.5 572.9h-3.5M72.5 634.15h-3.5M72.5 695.4h-3.5"/>
<defs><linearGradient id="cb" x1="0" y1="0" x2="0" y2="1"><stop offset="0" stop-color="#800000"/><stop offset="0.025" stop-color="#9c0000"/><stop offset="0.05" stop-color="#b90000"/><stop offset="0.075" stop-color="#d60000"/><stop offset="0.1" stop-color="#f30900"/><stop offset="0.125" stop-color="#ff2100"/><stop offset="0.15" stop-color="#ff3900"/><stop offset="0.175" stop-color="#ff5000"/><stop offset="0.2" stop-color="#ff6800"/><stop offset="0.225" stop-color="#ff8000"/><stop offset="0.25" stop-color="#ff9700"/><stop offset="0.275" stop-color="#ffaf00"/><stop offset="0.3" stop-color="#ffc600"/><stop offset="0.325" stop-color="#ffde00"/><stop offset="0.35" stop-color="#f7f600"/><stop offset="0.375" stop-color="#e2ff15"/><stop offset="0.4" stop-color="#ceff29"/><stop offset="0.425" stop-color="#b9ff3e"/><stop offset="0.45" stop-color="#a5ff52"/><stop offset="0.475" stop-color="#90ff67"/><stop offset="0.5" stop-color="#7bff7b"/><stop offset="0.525" stop-color="#67ff90"/><stop offset="0.55" stop-color="#52ffa5"/><stop offset="0.575" stop-color="#3effb9"/><stop offset="0.6" stop-color="#29ffce"/><stop offset="0.625" stop-color="#15ffe2"/><stop offset="0.65" stop-color="#00e5f7"/><stop offset="0.675" stop-color="#0cf"/><stop offset="0.7" stop-color="#00b3ff"/><stop offset="0.725" stop-color="#09f"/><stop offset="0.75" stop-color="#0080ff"/><stop offset="0.775" stop-color="#06f"/><stop offset="0.8" stop-color="#004cff"/><stop offset="0.825" stop-color="#03f"/><stop offset="0.85" stop-color="#001aff"/><stop offset="0.875" stop-color="#00f"/><stop offset="0.9" stop-color="#0000f3"/><stop offset="0.925" stop-color="#0000d6"/><stop offset="0.95" stop-color="#0000b9"/><stop offset="0.975" stop-color="#00009c"/><stop offset="1" stop-color="#000080"/></linearGradient></defs>
<rect x="641.5" y="194.4" width="14" height="457.9" fill="url(#cb)" stroke="#000" stroke-width="0.8"/>
<path class="ln" d="M655.5 194.4h3.5M655.5 251.637h3.5M655.5 308.875h3.5M655.5 366.112h3.5M655.5 423.35h3.5M655.5 480.587h3.5M655.5 537.825h3.5M655.5 595.062h3.5M655.5 652.3h3.5"/>
<clipPath id="cp"><rect x="72.5" y="715.7" width="554" height="139.7"/></clipPath>
<g clip-path="url(#cp)"><g transform="translate(72.5,0) scale(0.06250,0.1)" fill="none" stroke="#1f77b4" stroke-linejoin="round"><path d="M0 7482l1 150l1-143l1 99l1-81l1 104l1-156l1 140l1-107l1 126l1-133l1 104l1-91l1 163l1-176l1 125l1-110l1 156M18 7849l1 236l1-218l1 196l1-308l1 280l1-159l1 171l1-151l1 136l1-174l1 162l1-241l1 287l1-235l1 208l1-224l1 232l1-186l1 128l1-122l1 212l1-228l1 167l1-134l1 175l1-206l1 158l1-163l1 187l1-274l1 289l1-179l1 122l1-123l1 200l1-242l1 159l1-147l1 164l1-142l1 144l1-242l1 265l1-282l1 277l1-162l1 163l1-167l1 163l1-126l1 124l1-97l1 106l1-84l1 102l1-129l1 102l1-69l1 68l1-70l1 106l1-113l1 89M82 7513l1 170l1-211l1 288l1-294l1 105l1-222l1 282l1-179l1 113l1-118l1 95l1-96l1 81l1-117l1 141l1-203l1 206l1-208l1 172l1-106l1 121l1-121l1 135l1-155l1 115l1-76l1 106l1-141l1 131l1-98l1 159l1-179l1 124l1-137l1 136l1-95l1 79l1-113l1 111l1-113l1 117l1-105l1 133M126 7849l1 171l1-209l1 333l1-328l1 377l1-381l1 262l1-266l1 192l1-221l1 243l1-164l1 106l1-133l1 194l1-203l1 177l1-141l1 147l1-162l1 171l1-125l1 153l1-127l1 225l1-294l1 235l1-191l1 197l1-168l1 159l1-154l1 126l1-87l1 147l1-143l1 93l1-102l1 179l1-207l1 185l1-161l1 136l1-250l1 257l1-94l1 59l1-162l1 222l1-155l1 109l1-180l1 235l1-280l1 210l1-141l1 126l1-124l1 144l1-155l1 140l1-137l1 188l1-163l1 102l1-194l1 215l1-128l1 226l1-234l1 136l1-247l1 232l1-113l1 147l1-158l1 107l1-168l1 156l1-103l1 102l1-118l1 142l1-114l1 88l1-107l1 236l1-257l1 112l1-95l1 119l1-164l1 200l1-207l1 135l1-118l1 168l1-198l1 195l1-129l1 156l1-281l1 226l1-126l1 117l1-86l1 83l1-102l1 156l1-167l1 127l1-137l1 177l1-214l1 236l1-261l1 257l1-156l1 174l1-175l1 230l1-227l1 176l1-146l1 197l1-240l1 206l1-211l1 191l1-190l1 175l1-180l1 168l1-124l1 111l1-172l1 185l1-157l1 125l1-191l1 186l1-154l1 162l1-136l1 104l1-118l1 124l1-169l1 208l1-155l1 116l1-129l1 139l1-133l1 172l1-153l1 157l1-218l1 205l1-148l1 124l1-137l1 278l1-327l1 193l1-120l1 142l1-178l1 197l1-298l1 267l1-237l1 219l1-184l1 172l1-129l1 62l1-68l1 93l1-53l1 46l1-54l1 99l1-96l1 61l1-108l1 196l1-207l1 127l1-158l1 169l1-82l1 84l1-82l1 140l1-190l1 270l1-204l1 104l1-91l1 93l1-106l1 116l1-77l1 128l1-158l1 145l1-150l1 154l1-154l1 147l1-145l1 88l1-93l1 215l1-255l1 198l1-201l1 110l1-84l1 131l1-183l1 126l1-100l1 158l1-144l1 90l1-85l1 90l1-184l1 207l1-189l1 192l1-148l1 116l1-114l1 148l1-221l1 223l1-188l1 275l1-201l1 273l1-333l1 274l1-188l1 276l1-295l1 271l1-240l1 157l1-143l1 127l1-193l1 183l1-189l1 203l1-135l1 152l1-137l1 118l1-115l1 139l1-157l1 142l1-158l1 275l1-270l1 207l1-237l1 154l1-137l1 155l1-184l1 169l1-122l1 160l1-218l1 238l1-178l1 138l1-146l1 182l1-225l1 158l1-146l1 168l1-121l1 116l1-97l1 115l1-195l1 206l1-145l1 179l1-164l1 208l1-217l1 154l1-129l1 152l1-184l1 166l1-150l1 192l1-156l1 212l1-230l1 135l1-113l1 125l1-116l1 135l1-172l1 218l1-228l1 223l1-220l1 195l1-188l1 144l1-149l1 144l1-157l1 247l1-263l1 134l1-147l1 169l1-227l1 213l1-174l1 163l1-140l1 264l1-298l1 247l1-235l1 249l1-444l1 323l1-154l1 309l1-354l1 313l1-286l1 255l1-261l1 205l1-196l1 155l1-104l1 116l1-161l1 138l1-136l1 239l1-189l1 163l1-198l1 105l1-53l1 77l1-84l1 196l1-189l1 86l1-93l1 144l1-126l1 132l1-136l1 123l1-113l1 224l1-243l1 170l1-176l1 227l1-300l1 236l1-484l1 491l1-211l1 210l1-174l1 338l1-297l1 167l1-195l1 168l1-217l1 352l1-342l1 249l1-196l1 151l1-120l1 98l1-91l1 165l1-192l1 120l1-224l1 316l1-199l1 153l1-139l1 154l1-186l1 175l1-155l1 173l1-242l1 257l1-175l1 247l1-288l1 193l1-276l1 242l1-233l1 252l1-192l1 156l1-103l1 100l1-113l1 105l1-151l1 203l1-268l1 341l1-262l1 146l1-235l1 238l1-123l1 244l1-291l1 221l1-182l1 136l1-149l1 128l1-186l1 188l1-111l1 155l1-172l1 163l1-175l1 187l1-175l1 168l1-176l1 176l1-154l1 254l1-237l1 143l1-159l1 133l1-204l1 290l1-234l1 290l1-284l1 137l1-161l1 198l1-183l1 131l1-135l1 167l1-251l1 255l1-113l1 109l1-173l1 217l1-179l1 104l1-114l1 116l1-119l1 112l1-164l1 192l1-159l1 166l1-151l1 117l1-94l1 85l1-147l1 211l1-183l1 127l1-93l1 168l1-205l1 258l1-220l1 117l1-134l1 82l1-207l1 231l1-139l1 104l1-87l1 117l1-136l1 119l1-112l1 126l1-250l1 249l1-134l1 149l1-106l1 110l1-70l1 52l1-81l1 75l1-56l1 73l1-91l1 214M658 7469l1 144l1-143l1 132l1-118l1 99l1-96l1 121l1-116l1 150l1-268l1 201l1-160l1 165l1-119l1 132l1-110l1 86l1-85l1 97l1-170l1 203l1-136l1 95l1-100l1 129l1-104l1 113l1-121l1 147l1-134l1 90l1-229l1 265l1-185l1 189l1-134l1 107l1-112l1 113l1-106l1 146l1-125l1 174l1-179l1 97l1-90l1 108l1-132l1 199l1-154l1 88l1-93l1 114l1-153l1 115l1-118l1 179l1-199l1 142l1-177l1 174l1-97l1 93l1-121l1 142l1-112l1 133l1-136l1 111l1-109l1 102l1-116l1 123l1-137l1 137l1-150l1 141l1-147l1 113l1-96l1 167l1-186l1 169l1-148l1 100l1-126l1 136l1-112l1 92l1-114l1 120l1-108l1 100l1-90l1 83l1-112l1 136l1-122l1 120l1-135l1 120l1-91l1 115l1-108l1 78l1-111l1 166l1-142l1 101l1-155l1 210l1-200l1 166l1-123l1 127l1-157l1 133l1-112l1 116l1-83l1 147l1-174l1 160l1-137M783 8305l1-240l1 211l1-169l1 188l1-127l1 171l1-204l1 186l1-140l1 136l1-146l1 86l1-73l1 58l1-79l1 81l1-111l1 94l1-46l1 106l1-123l1 172l1-196l1 107l1-85l1 43l1-53l1 96l1-100l1 112l1-149l1 130l1-118l1 130l1-199l1 253l1-147l1 243l1-390l1 306l1-153l1 100l1-117l1 170l1-151l1 128l1-205l1 240l1-177l1 177l1-187l1 175l1-201l1 224l1-157l1 113l1-113l1 157l1-267l1 234l1-157l1 201l1-261l1 241l1-174l1 198l1-180l1 220l1-230l1 156l1-181l1 154l1-274l1 280l1-104l1 107l1-116l1 79l1-157l1 170l1-118l1 119l1-119l1 81l1-103l1 105l1-140l1 165l1-176l1 170l1-123l1 138l1-152l1 319l1-285l1 124l1-135l1 175l1-189l1 158l1-113l1 167l1-155l1 156l1-156l1 130l1-106l1 86l1-78l1 74l1-77l1 62l1-94l1 104l1-92l1 204l1-285l1 174l1-70l1 102l1-132l1 94l1-122l1 144l1-121l1 183l1-263l1 337l1-252l1 157l1-181l1 168l1-200l1 157l1-156l1 166l1-149l1 141l1-246l1 235l1-131l1 155l1-188l1 203l1-173l1 228l1-211l1 119l1-183l1 185l1-111l1 200l1-208l1 119l1-110l1 137l1-149l1 126l1-201l1 232l1-236l1 318l1-272l1 195l1-122l1 115l1-105l1 116l1-120l1 161l1-122l1 108l1-134l1 122l1-135l1 126l1-170l1 176l1-125l1 138l1-139l1 109l1-180l1 195l1-176l1 159l1-147l1 113l1-118l1 114l1-161l1 118l1-100l1 99l1-114l1 103l1-107l1 76l1-86l1 247l1-495l1 329l1-84l1 74l1-191l1 238l1-129l1 131l1-117l1 111l1-185l1 173l1-212l1 204l1-94l1 175l1-199l1 203l1-149l1 160l1-216l1 201l1-264l1 244l1-157l1 219l1-166l1 154l1-175l1 179l1-198l1 242l1-169l1 172l1-202l1 161l1-261l1 276l1-217l1 217l1-181l1 139l1-93l1 135l1-139l1 88l1-136l1 180l1-123l1 83l1-189l1 197l1-102l1 97l1-93l1 99l1-180l1 184l1-129l1 124l1-111l1 57l1-48l1 64l1-92l1 90l1-99l1 78l1-42l1 145l1-175l1 88l1-66l1 84l1-102l1 95l1-133l1 136l1-106l1 112l1-99l1 253l1-260l1 123l1-117l1 189l1-236l1 125l1-90l1 104l1-116l1 206l1-306l1 270l1-288l1 273l1-224l1 172l1-198l1 188l1-134l1 159l1-263l1 236l1-115l1 109l1-172l1 211l1-161l1 200l1-311l1 230l1-131M1097 7532l1-78l1 94l1-121l1 146l1-114l1 102l1-98l1 111l1-79l1 106l1-153l1 172l1-163l1 217l1-161l1 98l1-90l1 111l1-144l1 148l1-120l1 226M1120 8179l1 124l1-127l1 156l1-222l1 280l1-224l1 162l1-129l1 98l1-92l1 155l1-142l1 146l1-208l1 111l1-123l1 117l1-73l1 153l1-159l1 79l1-120l1 143l1-124l1 95l1-106l1 87l1-37l1 48l1-101l1 197l1-144l1 76l1-162l1 180l1-120l1 83l1-141l1 195l1-131l1 142l1-139l1 90l1-91l1 193l1-218l1 174l1-141l1 143l1-126l1 107l1-111l1 148l1-161l1 154l1-247l1 371l1-246l1 69l1-72l1 111l1-165l1 130l1-77l1 80l1-32l1 159l1-177l1 78l1-74l1 64l1-85l1 48l1-74l1 104l1-72l1 36l1-59l1 57l1-75l1 87l1-87l1 63l1-71l1 114l1-61l1 64l1-150l1 146l1-38l1 29l1-108l1 141l1-95l1 40l1-70l1 87l1-68l1 82l1-198l1 216l1-112l1 120l1-96l1 53l1-118l1 153l1-89l1 115l1-157l1 104l1-111l1 113l1-85l1 57l1-187l1 188l1-94l1 218l1-248l1 209l1-188l1 125l1-116l1 167l1-161l1 77l1-52l1 88l1-107l1 87l1-138l1 194l1-117l1 78l1-167l1 174l1-78l1 73l1-143l1 123l1-88l1 108l1-128l1 106l1-176l1 153l1-69l1 164l1-200l1 131l1-87l1 92l1-99l1 96l1-104l1 63l1-62l1 185l1-215l1 101l1-87l1 132l1-140l1 106l1-134l1 160l1-147l1 153l1-159l1 140l1-209l1 234l1-132l1 119l1-97l1 106l1-129l1 99l1-72l1 106l1-140l1 132l1-95l1 126l1-173l1 138l1-130l1 147l1-119l1 93l1-112l1 189l1-205l1 159l1-174l1 127l1-95l1 100l1-97l1 69l1-107l1 150l1-130l1 97l1-85l1 93l1-128l1 127l1-187l1 232l1-108l1 122l1-144l1 102l1-143l1 181l1-203l1 179l1-112l1 115l1-243l1 262l1-161l1 194l1-190l1 169l1-197l1 191l1-161l1 177l1-203l1 239l1-225l1 237l1-289l1 291l1-271l1 272l1-272l1 236l1-231l1 302l1-356l1 243l1-230l1 261l1-324l1 343l1-228l1 201l1-227l1 212l1-291l1 281l1-156l1 129l1-135l1 121l1-245l1 271l1-172l1 167l1-147l1 124l1-173l1 245l1-249l1 211l1-213l1 274l1-293l1 281l1-302l1 352l1-285l1 260l1-275l1 182l1-186l1 219l1-253l1 213l1-213l1 230l1-199l1 239l1-289l1 353l1-278l1 180l1-192l1 151l1-159l1 187l1-171l1 134l1-167l1 180l1-152l1 150l1-153l1 144l1-165l1 227l1-213l1 158l1-160l1 163l1-183l1 241l1-170l1 167l1-207l1 164l1-167l1 182l1-196l1 234l1-269l1 234l1-213l1 152l1-143l1 177l1-194l1 157l1-164l1 203l1-176l1 148l1-96l1 154l1-187l1 123l1-111l1 106l1-114l1 167l1-179l1 126l1-167l1 153l1-121l1 169l1-158l1 197l1-263l1 198l1-166l1 174l1-153l1 165l1-193l1 196l1-179l1 155l1-213l1 348l1-379l1 247l1-167l1 212l1-190l1 144l1-107l1 156l1-130l1 223l1-262l1 112l1-105l1 152l1-171l1 157l1-64l1 104l1-173l1 177l1-96l1 71l1-109l1 97l1-158l1 221l1-143l1 134l1-158l1 99l1-102l1 175l1-215l1 135l1-110l1 95l1-130l1 179l1-144l1 108l1-89l1 58l1-71l1 95l1-147l1 163l1-112l1 143l1-272l1 263l1-112l1 111l1-123l1 86l1-78l1 100l1-193l1 209l1-124l1 170l1-219l1 236l1-184l1 118l1-137l1 179l1-134l1 166l1-168l1 167l1-170l1 220l1-242l1 178l1-135l1 112l1-211l1 263l1-168l1 196l1-208l1 189l1-198l1 159l1-166l1 168l1-97l1 164l1-205l1 193l1-160l1 175l1-218l1 186l1-207l1 306l1-236l1 104l1-99l1 212l1-300l1 182l1-127l1 242l1-269l1 246l1-243l1 164l1-145l1 219l1-212l1 123l1-158l1 221l1-276l1 226l1-140l1 91l1-137l1 177l1-200l1 229l1-198l1 174l1-236l1 230l1-164l1 140l1-202l1 169l1-129l1 219l1-199l1 180l1-183l1 165l1-229l1 217l1-167l1 204l1-225l1 240l1-231l1 197l1-187l1 155l1-198l1 269l1-240l1 197l1-229l1 240l1-190l1 182l1-226l1 284l1-244l1 188l1-147l1 161l1-178l1 127l1-181l1 137l1-77l1 102l1-148l1 140l1-120l1 143l1-176l1 205l1-161l1 128l1-123l1 133l1-170l1 160l1-140l1 220l1-282l1 221l1-209l1 197l1-149l1 148l1-274l1 341l1-243l1 175l1-162l1 195l1-174l1 230l1-215l1 164l1-184l1 275l1-234l1 257l1-234l1 140l1-155l1 152l1-186l1 188l1-151l1 164l1-235l1 270l1-206l1 257l1-295l1 204l1-147l1 184l1-195l1 161l1-148l1 154l1-157l1 130l1-148l1 176l1-232l1 183l1-159l1 177l1-158l1 136l1-107l1 144l1-171l1 168l1-118l1 95l1-155l1 246l1-194l1 131l1-126l1 105l1-106l1 219l1-230l1 139l1-154l1 153l1-180l1 191l1-144l1 155l1-181l1 143l1-115l1 172l1-234l1 217l1-181l1 123l1-112l1 96l1-105l1 98l1-155l1 181l1-343l1 334l1-197l1 194l1-150M1751 7593l1-121l1 111l1-111l1 87l1-133l1 160l1-120l1 123l1-121l1 91l1-100l1 128l1-157l1 198l1-143l1 92l1-101l1 109l1-95l1 81l1-95l1 120l1-97l1 109l1-149l1 125l1-111l1 120l1-161l1 186l1-218l1 191l1-87l1 89l1-96l1 119l1-127l1 118l1-140l1 148l1-140l1 113l1-135l1 115l1-132l1 130l1-100l1 192l1-214l1 125l1-112l1 116l1-110l1 103l1-113l1 130l1-142l1 162M1810 8103l1 153l1-124l1 186l1-219l1 186l1-119l1 68l1-118l1 111l1-100l1 121l1-106l1 84l1-112l1 142l1-120l1 125l1-99l1 119l1-115l1 78l1-138l1 239l1-252l1 167l1-86l1 70l1-131l1 131l1-190l1 261l1-197l1 150l1-153l1 168l1-149l1 190l1-208l1 359l1-315l1 161l1-183l1 214l1-317l1 317l1-160l1 120l1-112l1 238l1-226l1 145l1-161l1 115l1-93l1 160l1-185l1 153l1-111l1 109l1-114l1 108l1-93l1 93l1-111l1 91l1-113l1 119l1-113l1 102l1-123l1 113l1-127l1 107l1-179l1 180l1-190l1 221l1-179l1 139l1-157l1 139l1-110l1 122l1-136l1 143l1-130l1 100l1-121l1 164l1-148l1 88l1-113l1 143l1-100l1 167l1-244l1 198l1-127l1 125l1-127l1 266l1-304l1 180l1-144l1 135l1-139l1 140l1-202l1 208l1-167l1 180l1-187l1 155l1-188l1 293l1-265l1 196l1-182l1 142l1-234l1 251l1-157l1 144l1-155l1 129l1-126l1 142l1-195l1 226l1-148l1 121l1-190l1 194l1-87l1 58l1-71l1 84l1-78l1 152l1-275l1 219l1-93l1 139l1-114l1 126l1-169l1 153l1-122l1 164l1-185l1 245l1-308l1 179l1-144l1 167l1-196l1 168l1-156l1 162l1-165l1 183l1-194l1 211l1-208l1 167l1-170l1 186l1-191l1 295l1-322l1 202l1-209l1 174l1-146l1 206l1-206l1 132l1-153l1 166l1-151l1 173l1-203l1 177l1-251l1 256l1-180l1 153l1-80l1 83l1-144l1 119l1-157l1 167l1-157l1 212l1-134l1 126l1-84l1 71l1-193l1 243l1-165l1 113l1-147l1 180l1-155l1 150l1-131l1 192l1-195l1 154l1-163l1 197l1-214l1 182l1-147l1 132l1-127l1 153l1-154l1 145l1-145l1 143l1-187l1 307l1-263l1 212l1-148l1 129l1-108l1 89l1-229l1 214l1-310l1 329l1-128l1 120l1-120l1 198l1-268l1 241l1-189l1 123l1-161l1 154l1-95l1 80l1-89l1 193l1-205l1 203l1-224l1 205l1-197l1 142l1-117l1 122l1-145l1 123l1-237l1 256l1-169l1 274l1-318l1 213l1-163l1 153l1-126l1 133l1-96l1 84l1-89l1 78l1-58l1 61l1-60l1 57l1-90l1 74l1-100l1 100l1-115l1 136l1-122l1 221l1-168l1 100l1-101l1 83l1-127l1 132l1-141l1 157l1-202l1 203l1-140l1 186l1-195l1 168l1-163l1 140l1-113l1 203l1-178l1 156l1-184l1 258l1-284l1 139l1-143l1 206l1-245l1 249l1-269l1 233l1-142l1 131l1-210l1 183l1-130l1 131l1-185l1 154l1-108l1 97l1-93l1 156l1-191l1 141l1-86l1 118l1-158l1 123l1-119l1 244l1-273l1 320l1-285l1 209l1-278l1 312l1-267l1 155l1-185l1 152l1-159l1 206l1-186l1 155l1-141l1 164l1-165l1 124l1-93l1 115l1-137l1 123l1-114l1 164l1-196l1 148l1-104l1 210l1-232l1 208l1-148l1 186l1-189l1 172l1-159l1 153l1-158l1 105l1-113l1 179l1-215l1 166l1-145l1 190l1-167l1 211l1-237l1 189l1-195l1 131l1-170l1 175l1-166l1 166l1-233l1 252l1-177l1 123l1-153l1 184l1-147l1 118l1-87l1 147l1-187l1 148l1-121l1 132l1-135l1 139l1-234l1 392l1-305l1 131l1-107l1 144l1-130l1 73l1-109l1 104l1-251l1 288l1-152l1 186l1-156l1 141l1-133l1 98l1-144l1 244l1-211l1 169l1-234l1 198l1-124l1 150l1-181l1 144l1-129l1 191l1-177l1 107l1-174l1 205l1-190l1 267l1-195l1 131l1-132l1 114l1-252l1 301l1-156l1 98l1-104l1 179l1-155l1 87l1-105l1 143l1-220l1 193l1-142l1 126l1-112l1 131l1-93l1 63l1-146l1 178l1-102l1 95l1-107l1 95l1-177l1 218l1-188l1 216l1-205l1 166l1-181l1 158l1-177l1 185l1-202l1 210l1-193l1 290l1-283l1 215l1-234l1 239l1-250l1 189l1-194l1 181l1-168l1 302l1-387l1 254l1-208l1 324l1-220l1 117l1-210l1 235l1-151l1 118l1-139l1 151l1-181l1 152l1-131l1 106l1-146l1 233l1-157l1 79l1-170l1 211l1-102l1 245l1-246l1 85l1-180l1 159l1-113l1 126l1-112l1 106l1-111l1 119l1-67l1 104l1-90l1 77l1-98l1 90l1-100l1 244l1-238l1 192l1-194l1 164l1-182l1 143l1-110l1 64l1-109l1 132l1-133l1 109l1-100l1 132l1-132l1 119l1-130l1 89l1-107l1 148l1-142l1 136l1-130l1 115l1-200l1 265l1-187l1 81l1-118l1 273l1-260l1 222l1-269l1 142l1-208l1 226l1-76l1 84l1-94l1 111l1-159l1 160l1-119l1 128l1-104l1 171l1-254l1 235l1-204l1 166l1-135l1 121l1-178l1 214l1-153l1 131l1-151l1 164l1-202l1 202l1-214l1 203l1-139l1 119l1-129l1 169l1-241l1 279l1-195l1 119l1-126l1 142l1-176l1 204l1-173l1 277l1-367l1 264l1-180l1 126l1-99l1 281l1-264l1 117l1-159l1 187l1-160l1 125l1-91l1 75l1-183l1 331l1-252l1 119l1-97l1 82l1-93l1 125l1-147l1 138l1-119l1 101l1-148l1 144l1-85l1 178l1-232l1 166l1-89l1 65l1-75l1 94l1-98l1 145l1-147l1 123l1-163l1 125l1-133l1 143l1-105l1 151l1-215l1 225l1-146l1 124l1-141l1 100l1-104l1 91l1-65l1 114l1-143l1 285l1-297l1 108l1-247l1 248l1-132l1 245l1-246l1 139l1-131l1 125l1-114l1 201l1-247l1 176l1-220l1 237l1-311l1 294l1-115l1 81l1-150l1 233l1-191l1 129l1-129l1 156l1-215l1 438l1-339l1 108l1-187l1 181l1-235l1 234l1-96l1 98l1-146l1 162l1-108l1 98l1-136l1 132l1-130l1 226l1-203l1 100l1-101l1 137l1-134l1 127l1-262l1 251l1-141l1 200l1-227l1 152l1-102l1 87l1-203l1 242l1-147l1 103l1-76l1 62l1-54l1 49l1-73l1 71l1-80l1 96l1-150l1 116l1-24l1 86l1-133l1 159l1-92l1 85l1-126l1 255l1-213l1 44l1-73l1 116l1-74l1 22l1-79l1 190l1-161l1 101l1-112l1 73l1-180l1 247l1-147l1 87l1-97l1 156l1-136l1 104l1-190l1 188l1-114l1 130l1-190l1 157l1-123l1 151l1-172l1 277l1-304l1 175l1-149l1 155l1-163l1 278l1-278l1 144l1-127l1 298l1-375l1 214l1-181l1 143l1-176l1 192l1-185l1 209l1-171l1 163l1-216l1 326l1-242l1 155l1-163l1 172l1-189l1 188l1-158l1 237l1-314l1 246l1-122l1 119l1-123l1 121l1-82l1 132l1-196l1 156l1-120l1 177l1-168l1 121l1-141l1 201l1-187l1 139l1-150l1 86l1-76l1 128l1-192l1 165l1-157l1 141l1-107l1 168l1-263l1 200l1-208l1 234l1-143l1 167l1-238l1 253l1-212l1 159l1-190l1 215l1-283l1 234l1-319l1 402l1-246l1 179l1-193l1 231l1-228l1 223l1-230l1 163l1-135l1 212l1-213l1 203l1-192l1 177l1-161l1 104l1-100l1 181l1-205l1 155l1-182l1 178l1-217l1 230l1-151l1 131l1-146l1 130l1-128l1 111l1-131l1 139l1-96l1 110l1-100l1 121l1-316l1 286l1-101l1 79l1-144l1 215l1-143l1 100l1-115l1 262l1-247l1 60l1-131l1 166l1-139l1 185l1-102l1 88l1-120l1 104l1-110l1 169l1-207l1 127l1-61l1 135l1-172l1 118l1-125l1 134l1-159l1 143l1-135l1 121l1-101l1 170l1-149l1 163l1-221l1 228l1-252l1 220l1-236l1 201l1-137l1 142l1-138l1 126l1-135l1 128l1-141l1 174l1-160l1 207l1-285l1 234l1-195l1 263l1-260l1 270l1-231l1 130l1-154l1 128l1-223l1 273l1-224l1 174l1-135l1 136l1-131l1 286l1-397l1 332l1-247l1 125l1-148l1 206l1-209l1 200l1-206l1 182l1-212l1 174l1-139l1 137l1-135l1 184l1-205l1 235l1-201l1 176l1-226l1 304l1-252l1 203l1-237l1 237l1-237l1 193l1-222l1 206l1-117l1 153l1-227l1 198l1-134l1 132l1-178l1 220l1-146l1 117l1-89l1 157l1-191l1 135l1-115l1 152l1-193l1 166l1-87l1 71l1-79l1 119l1-167l1 195l1-149l1 118l1-193l1 206l1-156l1 166l1-211l1 265l1-217l1 148l1-197l1 179l1-179l1 243l1-254l1 184l1-207l1 223l1-198l1 199l1-271l1 283l1-209l1 196l1-192l1 209l1-162l1 147l1-147l1 158l1-166l1 171l1-200l1 242l1-153l1 166l1-192l1 166l1-212l1 255l1-194l1 162l1-176l1 221l1-190l1 146l1-161l1 166l1-181l1 154l1-140l1 199l1-254l1 189l1-291l1 297l1-136l1 148l1-291l1 277l1-146l1 190l1-194l1 181l1-224l1 180l1-170l1 165l1-145l1 152l1-162l1 163l1-205l1 209l1-189l1 148l1-216l1 234l1-188l1 191l1-266l1 203l1-140l1 222l1-253l1 156l1-207l1 199l1-76l1 88l1-169l1 214l1-112l1 212l1-220l1 93l1-172l1 154l1-141l1 178l1-109l1 129l1-158l1 150l1-122l1 98l1-120l1 156l1-120l1 100l1-78l1 83l1-158l1 140l1-148l1 183l1-122l1 93l1-124l1 101l1-115l1 203l1-135l1 79l1-170l1 184l1-60l1 35l1-30l1 56l1-60l1 70l1-90l1 126l1-120l1 169l1-177l1 159l1-238l1 199l1-133l1 121l1-118l1 106l1-153l1 191l1-183l1 152l1-325l1 327l1-136l1 156l1-145l1 133l1-135l1 101l1-191l1 161l1-56l1 106l1-117l1 161l1-149l1 59l1-88l1 224l1-217l1 87l1-65l1 149l1-294l1 296l1-208l1 162l1-247l1 324l1-271l1 221l1-130l1 274l1-322l1 182l1-150l1 247l1-239l1 149l1-214l1 245l1-262l1 242l1-215l1 259l1-251l1 179l1-166l1 192l1-256l1 244l1-211l1 243l1-241l1 163l1-173l1 175l1-309l1 300l1-280l1 296l1-297l1 274l1-233l1 222l1-156l1 178l1-171l1 177l1-167l1 173l1-162l1 150l1-156l1 163l1-127l1 141l1-147l1 141l1-133l1 153l1-144l1 184l1-157l1 112l1-179l1 183l1-136l1 205l1-216l1 186l1-178l1 176l1-192l1 181l1-198l1 190l1-163l1 181l1-168l1 156l1-169l1 190l1-308l1 324l1-214l1 202l1-184l1 202l1-279l1 224l1-247l1 228l1-162l1 150l1-94l1 103l1-80l1 91l1-258l1 291l1-230l1 238l1-126l1 108l1-127l1 191l1-228l1 201l1-142l1 148l1-143l1 130l1-127l1 240l1-273l1 134l1-146l1 183l1-188l1 153l1-181l1 209l1-159l1 145l1-130l1 149l1-272l1 234l1-122l1 137l1-121l1 96l1-148l1 212l1-218l1 161l1-101l1 91l1-189l1 202l1-176l1 161l1-96l1 115l1-131l1 216l1-214l1 98l1-211l1 225l1-188l1 204l1-158l1 137l1-178l1 130l1-118l1 114l1-86l1 162l1-175l1 105l1-123l1 154l1-133l1 102l1-128l1 120l1-119l1 95l1-90l1 89l1-126l1 133l1-128l1 208l1-217l1 268l1-247l1 191l1-189l1 211l1-212l1 201l1-255l1 236l1-245l1 245l1-202l1 212l1-173l1 136l1-147l1 155l1-176l1 176l1-143l1 149l1-158l1 192l1-155l1 166l1-189l1 119l1-108l1 99l1-82l1 78l1-88l1 93l1-106l1 193l1-393l1 369l1-162l1 108l1-120l1 99l1-103l1 122l1-98l1 132l1-175l1 155l1-130l1 124l1-110l1 167l1-177l1 135l1-116l1 121l1-131l1 98l1-125l1 124l1-155l1 149l1-113l1 144l1-174l1 146l1-131l1 138l1-145l1 172l1-163l1 116l1-128l1 148l1-255l1 215l1-117l1 103l1-110l1 284l1-360l1 303l1-242l1 121l1-111l1 107l1-142l1 212l1-222l1 185l1-141l1 262l1-280l1 177l1-166l1 180l1-136l1 216l1-289l1 177l1-131l1 182l1-168l1 120l1-161l1 181l1-133l1 259l1-248l1 132l1-156l1 154l1-140l1 275l1-240l1 221l1-219l1 256l1-370l1 276l1-194l1 190l1-197l1 209l1-190l1 170l1-177l1 166l1-174l1 167l1-213l1 206l1-205l1 251l1-267l1 372l1-364l1 252l1-257l1 193l1-118l1 82l1-111l1 123l1-185l1 246l1-239l1 234l1-152l1 158l1-335l1 279l1-133l1 140l1-172l1 255l1-265l1 222l1-170l1 140l1-182l1 279l1-239l1 145l1-144l1 159l1-156l1 157l1-148l1 179l1-170l1 330l1-365l1 231l1-255l1 325l1-300l1 188l1-152l1 121l1-152l1 137l1-135l1 140l1-103l1 119l1-150l1 127l1-122l1 319l1-330l1 206l1-170l1 122l1-117l1 132l1-133l1 120l1-87l1 127l1-129l1 185l1-235l1 314l1-281l1 154l1-122l1 105l1-243l1 221l1-107l1 106l1-126l1 151l1-157l1 142l1-126l1 116l1-187l1 222l1-281l1 336l1-225l1 117l1-99l1 105l1-115l1 105l1-115l1 201l1-237l1 166l1-173l1 239l1-288l1 198l1-122l1 103l1-133l1 173l1-124l1 118l1-126l1 236l1-264l1 130l1-144l1 131l1-137l1 144l1-182l1 193l1-215l1 250l1-215l1 150l1-120l1 119l1-180l1 231l1-170l1 71l1-142l1 106l1-136l1 165l1-129l1 91l1-118l1 140l1-128l1 110l1-98l1 76l1-80l1 129l1-166l1 116l1-89l1 62l1-78l1 97l1-98l1 91l1-146l1 106l1-61l1 71l1-67l1 135l1-149l1 84l1-159l1 215l1-114l1 107l1-114l1 88l1-198l1 239l1-175l1 185l1-346l1 343l1-208l1 203l1-304l1 279l1-191l1 294l1-265l1 178l1-192l1 196l1-211l1 186l1-153l1 171l1-166l1 205l1-192l1 271l1-277l1 161l1-120l1 148l1-131l1 147l1-153l1 137l1-107l1 129l1-142l1 195l1-233l1 150l1-114l1 109l1-100l1 82l1-179l1 253l1-166l1 89l1-173l1 157l1-116l1 138l1-163M3519 7594l1-111l1 93l1-190l1 233l1-168l1 204l1-222l1 162l1-146l1 139l1-116l1 113l1-112l1 109M3534 8004l1 70l1-110l1 108l1-91l1 90l1-115l1 139l1-98l1 87l1-109l1 114l1-56l1 54l1-64l1 118l1-259l1 268l1-136l1 132l1-107l1 80l1-98l1 69l1-71l1 84l1-206l1 232l1-159l1 155l1-139l1 122l1-136l1 165l1-138l1 114l1-190l1 266l1-197l1 148l1-179l1 215l1-170l1 109l1-206l1 367l1-283l1 114l1-214l1 217l1-163l1 152l1-158l1 167l1-138l1 185l1-202l1 199l1-245l1 246l1-202l1 246l1-317l1 304l1-254l1 250l1-210l1 176l1-188l1 284l1-292l1 221l1-210l1 135l1-148l1 144l1-139l1 130l1-139l1 161l1-122l1 135l1-170l1 152l1-185l1 208l1-144l1 162l1-151l1 122l1-123l1 63l1-159l1 264l1-174l1 112l1-121l1 100l1-101l1 144l1-134l1 150l1-140l1 163l1-247l1 219l1-136l1 106l1-204l1 293l1-200l1 120l1-165l1 164l1-120l1 98l1-95l1 105l1-155l1 145l1-243l1 274l1-149l1 150l1-146l1 148l1-157l1 208l1-338l1 433l1-279l1 121l1-111l1 80l1-122l1 126l1-109l1 148l1-184l1 144l1-96l1 80l1-108l1 229l1-246l1 194l1-145l1 166l1-212l1 144l1-150l1 167l1-147l1 66l1-113l1 233l1-215l1 108l1-103l1 118l1-119l1 146l1-127l1 101l1-127l1 126l1-92l1 103l1-153l1 124l1-123l1 157l1-146l1 142l1-197l1 195l1-140l1 122l1-91l1 93l1-81l1 84l1-139l1 255l1-214l1 118l1-109l1 86l1-86l1 113l1-141l1 167l1-142l1 103l1-102l1 93l1-100l1 137l1-154l1 123l1-94l1 83l1-106l1 165l1-142l1 162l1-146l1 66l1-78l1 124l1-144l1 87l1-122l1 186l1-122l1 64l1-94l1 75l1-66l1 126l1-149l1 94l1-56l1 95l1-109l1 87l1-55l1 89l1-90l1 92l1-78l1 55l1-75l1 93l1-197l1 273l1-253l1 300l1-212l1 197l1-209l1 196l1-144l1 192l1-342l1 320l1-153l1 161l1-154l1 151l1-158l1 170l1-123l1 124l1-138l1 159l1-157l1 147l1-111l1 140l1-117l1 124l1-115l1 155l1-139l1 135l1-371l1 352l1-111l1 103l1-233l1 241l1-67l1 143l1-146l1 69l1-42l1 162l1-157l1 78l1-111l1 139l1-93l1 60l1-163l1 159l1-55l1 69l1-119l1 72l1-47l1 110l1-200l1 156l1-34l1 54l1-72l1 71l1-131l1 160l1-126l1 106l1-149l1 148l1-120l1 182l1-148l1 78l1-203l1 202l1-79l1 85l1-127l1 136l1-155l1 163l1-114l1 118l1-95l1 65l1-122l1 187l1-149l1 94l1-89l1 75l1-112l1 87l1-35l1 63l1-116l1 88l1-148l1 211l1-323l1 263l1-76l1 86l1-71l1 74l1-100l1 123l1-169l1 218l1-235l1 142l1-98l1 118l1-122l1 125l1-138l1 133l1-225l1 334l1-257l1 122l1-143l1 140l1-125l1 185l1-172l1 164l1-175l1 109l1-101l1 122l1-138l1 167l1-170l1 129l1-132l1 264l1-193l1 98l1-121l1 116l1-115l1 70l1-114l1 128l1-102l1 162l1-156l1 151l1-160l1 136l1-135l1 133l1-128l1 169l1-197l1 181l1-162l1 150l1-147l1 155l1-127l1 138l1-147l1 209l1-254l1 160l1-228l1 267l1-211l1 164l1-113l1 122l1-118l1 180l1-189l1 156l1-150l1 182l1-206l1 202l1-167l1 137l1-160l1 218l1-212l1 142l1-146l1 148l1-156l1 157l1-131l1 371l1-363l1 262l1-296l1 193l1-210M3967 7615l1-107l1 154l1-154l1 107l1-99l1 126l1-134l1 135l1-139l1 157l1-162l1 108l1-197l1 202l1-107l1 134l1-149l1 129M3986 8104l1 214l1-106l1 143l1-123l1 91l1-219l1 391l1-298l1 158l1-187l1 138l1-90l1 149l1-226l1 249l1-297l1 228l1-121l1 154l1-182l1 137l1-135l1 152l1-151l1 198l1-173l1 119l1-343l1 338l1-160l1 176l1-212l1 170l1-388l1 405l1-141l1 168l1-161l1 150l1-217l1 229l1-169l1 170l1-366l1 330l1-190l1 234l1-158l1 151l1-222l1 222l1-196l1 176l1-158l1 170l1-197l1 192l1-216l1 345l1-419l1 372l1-330l1 298l1-217l1 260l1-271l1 251l1-258l1 203l1-246l1 263l1-172l1 201l1-187l1 246l1-229l1 187l1-181l1 206l1-203l1 148l1-190l1 168l1-245l1 250l1-151l1 161l1-193l1 180l1-149l1 245l1-224l1 198l1-233l1 166l1-141l1 123l1-157l1 171l1-130l1 177l1-272l1 233l1-180l1 221l1-220l1 232l1-230l1 171l1-150l1 96l1-106l1 155l1-270l1 341l1-304l1 235l1-194l1 136l1-192l1 171l1-96l1 108l1-220l1 223l1-67l1 31l1-48l1 90l1-68l1 60l1-64l1 50l1-73l1 68l1-73l1 160l1-154l1 265l1-243l1 49l1-41l1 139l1-170l1 176l1-162l1 91l1-193l1 208l1-202l1 249l1-162l1 244l1-423l1 311l1-395l1 380l1-193l1 194l1-167l1 348l1-315l1 192l1-190l1 127l1-282l1 265l1-175l1 256l1-236l1 145l1-129l1 165l1-237l1 213l1-149l1 167l1-167l1 182l1-169l1 135l1-236l1 231l1-140l1 105l1-69l1 68l1-162l1 192l1-119l1 139l1-176l1 128l1-240l1 293l1-295l1 297l1-193l1 149l1-130l1 183l1-186l1 186l1-181l1 160l1-232l1 352l1-362l1 268l1-186l1 206l1-264l1 340l1-347l1 262l1-254l1 284l1-274l1 305l1-374l1 313l1-174l1 220l1-231l1 173l1-170l1 189l1-295l1 293l1-256l1 231l1-190l1 278l1-284l1 228l1-220l1 178l1-191l1 198l1-175l1 200l1-238l1 209l1-182l1 176l1-184l1 183l1-258l1 308l1-226l1 138l1-142l1 148l1-153l1 170l1-342l1 405l1-217l1 157l1-151l1 145l1-180l1 148l1-125l1 132l1-237l1 292l1-238l1 189l1-172l1 191l1-176l1 165l1-245l1 258l1-205l1 226l1-191l1 163l1-179l1 177l1-146l1 166l1-189l1 194l1-219l1 153l1-133l1 153l1-190l1 202l1-178l1 177l1-144l1 142l1-154l1 238l1-247l1 172l1-126l1 117l1-93l1 103l1-151l1 155l1-103l1 80l1-137l1 228l1-212l1 141l1-246l1 313l1-243l1 239l1-174l1 122l1-289l1 323l1-126l1 90l1-121l1 154l1-125l1 118l1-130l1 138l1-152l1 213l1-247l1 151l1-145l1 203l1-153l1 84l1-89l1 176l1-176l1 102l1-99l1 127l1-209l1 194l1-111l1 121l1-146l1 240l1-244l1 150l1-228l1 252l1-191l1 195l1-220l1 185l1-147l1 170l1-154l1 103l1-118l1 136l1-113l1 178l1-248l1 187l1-136l1 159l1-139l1 206l1-208l1 163l1-128l1 155l1-145l1 102l1-303l1 322l1-152l1 149l1-195l1 224l1-188l1 234l1-256l1 202l1-303l1 317l1-194l1 128l1-152l1 149l1-203l1 235l1-280l1 283l1-199l1 145l1-161l1 187l1-157l1 126l1-137l1 150l1-158l1 153l1-120l1 140l1-141l1 139l1-246l1 265l1-204l1 281l1-272l1 269l1-235l1 176l1-176M4405 7632l1-129l1 119l1-111l1 93l1-137l1 127l1-112l1 92l1-121l1 143l1-172l1 200l1-151l1 165M4420 8009l1 312l1-153l1 223l1-304l1 262l1-209l1 197l1-234l1 192l1-123l1 166l1-168l1 102l1-74l1 75l1-79l1 128l1-183l1 166l1-113l1 263l1-275l1 126l1-165l1 170l1-118l1 254l1-241l1 100l1-123l1 149l1-173l1 122l1-176l1 186l1-138l1 121l1-158l1 356l1-342l1 266l1-302l1 179l1-139l1 135l1-185l1 210l1-179l1 123l1-102l1 135l1-208l1 148l1-104l1 157l1-306l1 366l1-204l1 149l1-165l1 155l1-280l1 292l1-205l1 337l1-376l1 226l1-191l1 217l1-162l1 168l1-253l1 235l1-148l1 209l1-251l1 236l1-238l1 262l1-246l1 206l1-184l1 166l1-187l1 154l1-215l1 234l1-146l1 178l1-169l1 107l1-159l1 152l1-132l1 149l1-155l1 175l1-136l1 99l1-225l1 232l1-169l1 164l1-155l1 162l1-118l1 105l1-206l1 195l1-188l1 306l1-264l1 178l1-151l1 107l1-140l1 208l1-345l1 294l1-216l1 213l1-193l1 182l1-133l1 169l1-173l1 120l1-191l1 227l1-180l1 123l1-150l1 195l1-199l1 135l1-137l1 150l1-147l1 140l1-181l1 277l1-388l1 230l1-184l1 178l1-121l1 116l1-106l1 91l1-139l1 199l1-175l1 150l1-181l1 152l1-201l1 252l1-238l1 172l1-148l1 171l1-172l1 243l1-241l1 89l1-102l1 195l1-188l1 118l1-174l1 148l1-119l1 96l1-117l1 205l1-197l1 76l1-127l1 110l1-112l1 79l1-104l1 224l1-241l1 96l1-137l1 127l1-129l1 138l1-130l1 179l1-171l1 151l1-176l1 105l1-134l1 109l1-187l1 365l1-284l1 66l1-91l1 104l1-124l1 67l1-95l1 94l1-98l1 89l1-123l1 101l1-101l1 122l1-150l1 117l1-126l1 88l1-106l1 89l1-125l1 88l1-82l1 60l1-92l1 172l1-198l1 101l1-110l1 69l1-91l1 86l1-93l1 56l1-76l1 82l1-98l1 105l1-174l1 151l1-130l1 86l1-69l1 86l1-61l1 73l1-76l1 95l1-87l1 128l1-77l1 85l1-68l1 76l1-114l1 137l1-62l1 78l1-89l1 125l1-125l1 140l1-68l1 74l1-70l1 79l1-68l1 94l1-71l1 82l1-72l1 85l1-71l1 111l1-136l1 114l1-98l1 118l1-64l1 100l1-112l1 113l1-90l1 83l1-68l1 91l1-81l1 86l1-66l1 92l1-77l1 79l1-62l1 110l1-144l1 228l1-237l1 142l1-92l1 121l1-86l1 81l1-121l1 178l1-158l1 181l1-182l1 200l1-132l1 170l1-158l1 99l1-97l1 147l1-123l1 71l1-124l1 140l1-84l1 102l1-85l1 58l1-55l1 101l1-131l1 176l1-148l1 141l1-129l1 81l1-53l1 55l1-66l1 104l1-138l1 163l1-104l1 46l1-61l1 91l1-72l1 66l1-103l1 126l1-128l1 132l1-97l1 124l1-141l1 139l1-134l1 114l1-90l1 167l1-195l1 152l1-147l1 110l1-205l1 190l1-102l1 158l1-118l1 84l1-209l1 218l1-136l1 121l1-112l1 159l1-136l1 74l1-143l1 136l1-91l1 69l1-37l1 50l1-69l1 91l1-81l1 88l1-153l1 136l1-116l1 107l1-56l1 29l1-79l1 85l1-61l1 32l1-50l1 78l1-104l1 186l1-181l1 102l1-164l1 172l1-86l1 92l1-142l1 174l1-189l1 155l1-99l1 108l1-171l1 171l1-143l1 293l1-289l1 197l1-252l1 252l1-155l1 144l1-114l1 179l1-161l1 107l1-156l1 173l1-116l1 135l1-171l1 183l1-380l1 376l1-248l1 292l1-269l1 344l1-269l1 103l1-90l1 108l1-103l1 146l1-109l1 58l1-209l1 197l1-71l1 72l1-56l1 70l1-151l1 131l1-80l1 99l1-211l1 178l1-86l1 107l1-140l1 122l1-78l1 71l1-175l1 162l1-139l1 171l1-86l1 118l1-131l1 137l1-168l1 117l1-126l1 121l1-102l1 115l1-110l1 103l1-142l1 182l1-173l1 151l1-73l1 78l1-70l1 135l1-132l1 125l1-141l1 120l1-171l1 286l1-218l1 217l1-277l1 207l1-167l1 236l1-216l1 208l1-225l1 213l1-192l1 166l1-183l1 222l1-271l1 455l1-508l1 307l1-212l1 183l1-188l1 225l1-236l1 196l1-226l1 185l1-188l1 236l1-220l1 171l1-206l1 178l1-266l1 357l1-277l1 164l1-175l1 162l1-168l1 169l1-166l1 174l1-218l1 197l1-240l1 289l1-213l1 183l1-194l1 173l1-198l1 316l1-268l1 224l1-177l1 167l1-253l1 208l1-103l1 110l1-114l1 144l1-154l1 118l1-170l1 226l1-168l1 117l1-88l1 103l1-120l1 145l1-162l1 156l1-122l1 94l1-76l1 76l1-219l1 208l1-166l1 213l1-251l1 243l1-164l1 176l1-294l1 278l1-143l1 140l1-182l1 181l1-120l1 92l1-152l1 259l1-209l1 138l1-133l1 129l1-184l1 189l1-123l1 127l1-237l1 284l1-178l1 237l1-281l1 185l1-209l1 261l1-254l1 199l1-172l1 208l1-218l1 227l1-226l1 210l1-308l1 269l1-202l1 232l1-195l1 203l1-231l1 202l1-179l1 207l1-150l1 125l1-168l1 184l1-156l1 143l1-135l1 217l1-248l1 186l1-144l1 165l1-206l1 338l1-503l1 443l1-266l1 257l1-261l1 138l1-173l1 204l1-211l1 197l1-171l1 144l1-244l1 232l1-134l1 164l1-147l1 100l1-123l1 178l1-159l1 161l1-176l1 187l1-219l1 185l1-125l1 157l1-165l1 264l1-254l1 157l1-229l1 268l1-243l1 273l1-288l1 207l1-201l1 241l1-153l1 179l1-159l1 87l1-92l1 165l1-175l1 111l1-129l1 167l1-145l1 108l1-85l1 115l1-87l1 34l1-187l1 245l1-123l1 146l1-157l1 97l1-48l1 93l1-119l1 87l1-102l1 102l1-140l1 207l1-161l1 120l1-73l1 74l1-102l1 154l1-126l1 103l1-95l1 178l1-187l1 110l1-113l1 168l1-147l1 123l1-114l1 114l1-166l1 226l1-227l1 211l1-171l1 226l1-169l1 179l1-223l1 190l1-122l1 174l1-171l1 190l1-157l1 31l1-69l1 86l1-86l1 92l1-84l1 95l1-90l1 229l1-301l1 129l1-50l1 227l1-265l1 107l1-140l1 125l1-129l1 115l1-116l1 132l1-172l1 187l1-185l1 180l1-216l1 424l1-344l1 145l1-158l1 155l1-118l1 134l1-217l1 208l1-145l1 151l1-131l1 139l1-192l1 261l1-230l1 199l1-196l1 240l1-206l1 216l1-168l1 171l1-166l1 178l1-171l1 165l1-191l1 138l1-181l1 244l1-240l1 215l1-175l1 124l1-125l1 164l1-132l1 200l1-239l1 155l1-180l1 184l1-152l1 92l1-156l1 173l1-218l1 187l1-133l1 182l1-152l1 152l1-224l1 181l1-211l1 209l1-147l1 122l1-232l1 233l1-103l1 123l1-161l1 139l1-129l1 118l1-115l1 114l1-227l1 289l1-225l1 263l1-262l1 166l1-138l1 233l1-225l1 131l1-145l1 159l1-182l1 198l1-221l1 214l1-159l1 291l1-310l1 276l1-259l1 190l1-196l1 189l1-162l1 169l1-163l1 168l1-162l1 113l1-119l1 106l1-245l1 454l1-309l1 159l1-184l1 98l1-58l1 138l1-128l1 45l1-48l1 115l1-108l1 28l1-52l1 137l1-161l1 128l1-175l1 188l1-153l1 130l1-152l1 160l1-195l1 222l1-211l1 168l1-88l1 101l1-198l1 198l1-183l1 193l1-152l1 122l1-150l1 162l1-163l1 155l1-181l1 196l1-163l1 165l1-165l1 200l1-171l1 122l1-153l1 207l1-325l1 319l1-198l1 223l1-250l1 233l1-206l1 159l1-139l1 193l1-223l1 251l1-235l1 151l1-135l1 134l1-102l1 103l1-105l1 144l1-176l1 268l1-263l1 132l1-135l1 138l1-342l1 353l1-108l1 155l1-196l1 163l1-139l1 151l1-368l1 411l1-172l1 119l1-138l1 144l1-108l1 194l1-285l1 373l1-351l1 198l1-115l1 162l1-143l1 108l1-123l1 108l1-125l1 146l1-141l1 155l1-154l1 165l1-206l1 214l1-141l1 92l1-90l1 123l1-123l1 124l1-129l1 90l1-100l1 117l1-138l1 173l1-172l1 200l1-190l1 167l1-258l1 200l1-135l1 145l1-254l1 271l1-205l1 216l1-164l1 92l1-204l1 232l1-137l1 104l1-130l1 120l1-157l1 196l1-148l1 116l1-122l1 213l1-211l1 122l1-107l1 94l1-245l1 241l1-71l1 92l1-168l1 162l1-97l1 143l1-83l1 38l1-93l1 111l1-83l1 138l1-146l1 154l1-132l1 116l1-118l1 56l1-82l1 154l1-150l1 73l1-39l1 53l1-138l1 261l1-206l1 112l1-109l1 105l1-156l1 159l1-110l1 133l1-139l1 173l1-161l1 154l1-166l1 192l1-279l1 263l1-194l1 218l1-217l1 152l1-217l1 206l1-146l1 219l1-193l1 95l1-75l1 100l1-119l1 129l1-104l1 110l1-136l1 372l1-383l1 225l1-191l1 86l1-80l1 87l1-177l1 293l1-214l1 150l1-154l1 166l1-189l1 147l1-168l1 162l1-146l1 185l1-185l1 202l1-202l1 144l1-155l1 143l1-133l1 164l1-162l1 112l1-131l1 148l1-186l1 209l1-197l1 169l1-231l1 230l1-249l1 252l1-230l1 225l1-297l1 400l1-314l1 235l1-204l1 204l1-165l1 178l1-245l1 207l1-172l1 203l1-175l1 305l1-392l1 269l1-210l1 250l1-265l1 230l1-195l1 175l1-205l1 216l1-187l1 186l1-229l1 335l1-301l1 185l1-294l1 273l1-218l1 207l1-174l1 237l1-377l1 366l1-225l1 214l1-196l1 173l1-175l1 178l1-236l1 234l1-200l1 245l1-212l1 148l1-158l1 129l1-143l1 202l1-193l1 192l1-312l1 309l1-191l1 163l1-183l1 190l1-193l1 157l1-106l1 114l1-216l1 256l1-247l1 226l1-119l1 137l1-204l1 171l1-184l1 241l1-170l1 120l1-168l1 223l1-342l1 277l1-175l1 177l1-105l1 123l1-258l1 364l1-368l1 244l1-145l1 120l1-98l1 194l1-366l1 311l1-205l1 151l1-186l1 386l1-370l1 251l1-298l1 208l1-242l1 240l1-203l1 196l1-210l1 261l1-178l1 107l1-133l1 155l1-216l1 161l1-111l1 117l1-147l1 184l1-167l1 163l1-156l1 149l1-120l1 144l1-159l1 129l1-140l1 123l1-168l1 189l1-150l1 131l1-150l1 171l1-267l1 182l1-256l1 284l1-214l1 206l1-224l1 184l1-144l1 140l1-190l1 164l1-187l1 204l1-198l1 138l1-178l1 166l1-137l1 140l1-168l1 232l1-243l1 219l1-225l1 106l1-96l1 77l1-86l1 96l1-129l1 158l1-143l1 86l1-87l1 67l1-148l1 166l1-132l1 95l1-122l1 145l1-125l1 69l1-126l1 107l1-133l1 100l1-79l1 105l1-127l1 60l1-94l1 76l1-72l1 60l1-86l1 98l1-153l1 126l1-123l1 96l1-97l1 86l1-106l1 69l1-147l1 112l1-93l1 88l1-96l1 138l1-171l1 116l1-90l1 80l1-71l1 107l1-79l1 102l1-103l1 194l1-259l1 167l1-179l1 214l1-87l1 95l1-70l1 146l1-134l1 82l1-61l1 76l1-129l1 151l1-74l1 106l1-124l1 192l1-145l1 76l1-60l1 74l1-69l1 165l1-144l1 116l1-148l1 169l1-153l1 137l1-119l1 100l1-187l1 191l1-61l1 96l1-100l1 98l1-185l1 195l1-374l1 405l1-110l1 105l1-94l1 133l1-115l1 190l1-178l1 160l1-227l1 311l1-248l1 210l1-224l1 248l1-205l1 262l1-238l1 167l1-177l1 239l1-269l1 268l1-322l1 270l1-169l1 168l1-98l1 91l1-121l1 134l1-133l1 147l1-118l1 90l1-128l1 134l1-89l1 90l1-73l1 69l1-57l1 69l1-96l1 124l1-240l1 216l1-152l1 177l1-127l1 98l1-40l1 63l1-78l1 181l1-226l1 196l1-236l1 166l1-146l1 155l1-61l1 79l1-175l1 194l1-150l1 230l1-176l1 132l1-155l1 214l1-180l1 110l1-137l1 193l1-261l1 229l1-149l1 204l1-206l1 263l1-272l1 194l1-145l1 146l1-175l1 212l1-229l1 228l1-172l1 195l1-205l1 190l1-178l1 357l1-377l1 240l1-294l1 228l1-158l1 261l1-286l1 209l1-163l1 166l1-145l1 270l1-263l1 139l1-147l1 242l1-234l1 163l1-138l1 164l1-202l1 166l1-188l1 154l1-206l1 255l1-238l1 240l1-344l1 324l1-142l1 146l1-174l1 204l1-268l1 212l1-126l1 187l1-236l1 203l1-145l1 157l1-221l1 208l1-128l1 128l1-141l1 213l1-200l1 156l1-177l1 167l1-120l1 134l1-150l1 196l1-150l1 120l1-151l1 166l1-139l1 146l1-184l1 137l1-99l1 84l1-133l1 155l1-87l1 42l1-29l1 40l1-100l1 144l1-143l1 268l1-216l1 48l1-94l1 96l1-87l1 152l1-154l1 85l1-118l1 137l1-105l1 142l1-122l1 70l1-153l1 185l1-192l1 183l1-252l1 231l1-109l1 115l1-134l1 127l1-117l1 164l1-232l1 185l1-101l1 78l1-149l1 164l1-137l1 159l1-112l1 138l1-104l1 118l1-194l1 176l1-166l1 339l1-296l1 268l1-286l1 174l1-224l1 233l1-190l1 190l1-211l1 197l1-206l1 207l1-178l1 184l1-206l1 233l1-167l1 136l1-161l1 167l1-206l1 232l1-248l1 203l1-182l1 231l1-229l1 181l1-204l1 184l1-117l1 87l1-132l1 145l1-277l1 288l1-154l1 255l1-274l1 138l1-159l1 211l1-230l1 172l1-130l1 132l1-96l1 121l1-101l1 85l1-101l1 124l1-118l1 113l1-118l1 91l1-122l1 221l1-185l1 103l1-80l1 65l1-102l1 82l1-89l1 82l1-58l1 94l1-164l1 204l1-115l1 112l1-136l1 109l1-89l1 71l1-71l1 90l1-90l1 69l1-94l1 76l1-136l1 195l1-105l1 72l1-92l1 138l1-120l1 129l1-212l1 213l1-121l1 189l1-172l1 70l1-118l1 141l1-172l1 199l1-145l1 118l1-206l1 219l1-108l1 103l1-98l1 196l1-175l1 107l1-125l1 131l1-144l1 177l1-146l1 109l1-114l1 161l1-168l1 127l1-186l1 189l1-163l1 176l1-145l1 191l1-174l1 150l1-163l1 116l1-164l1 177l1-235l1 231l1-185l1 174l1-91l1 57l1-86l1 125l1-123l1 130l1-152l1 122l1-125l1 107l1-144l1 115l1-74l1 175l1-179l1 97l1-163l1 147l1-99l1 175l1-143l1 65l1-79l1 161l1-179l1 126M6172 7387l1 84l1-97l1 94l1-83l1 100l1-107l1 127l1-124l1 121l1-112l1 106l1-142l1 179l1-146l1 97l1-82l1 100l1-98l1 97l1-84M6193 8336l1-167l1 151l1-305l1 278l1-151l1 122l1-130l1 162l1-273l1 205l1-190l1 130l1-147l1 154l1-113l1 130l1-156l1 167l1-212l1 173l1-207l1 182l1-152l1 130l1-135l1 158l1-196l1 232l1-257l1 169l1-131l1 101l1-96l1 102l1-218l1 300l1-252l1 207l1-170l1 258l1-207l1 112l1-126l1 168l1-184l1 119l1-147l1 175l1-144l1 138l1-149l1 129l1-193l1 198l1-168l1 215l1-163l1 129l1-198l1 258l1-189l1 185l1-233l1 186l1-154l1 164l1-142l1 151l1-181l1 207l1-133l1 106l1-263l1 270l1-139l1 215l1-370l1 277l1-135l1 149l1-144l1 161l1-196l1 275l1-207l1 130l1-130l1 122l1-102l1 129l1-159l1 204l1-172l1 192l1-201l1 146l1-166l1 188l1-185l1 201l1-256l1 226l1-208l1 197l1-166l1 150l1-172l1 231l1-238l1 173l1-190l1 185l1-180l1 155l1-143l1 131l1-166l1 193l1-213l1 178l1-207l1 231l1-177l1 143l1-153l1 166l1-270l1 230l1-191l1 233l1-216l1 170l1-165l1 185l1-181l1 208l1-190l1 151l1-146l1 249l1-382l1 292l1-178l1 176l1-188l1 262l1-239l1 183l1-189l1 243l1-236l1 193l1-138l1 157l1-131l1 302l1-331l1 182l1-144l1 168l1-225l1 235l1-199l1 165l1-149l1 125l1-120l1 175l1-167l1 164l1-215l1 210l1-173l1 150l1-235l1 230l1-172l1 176l1-174l1 137l1-138l1 142l1-170l1 201l1-221l1 173l1-139l1 150l1-154l1 293l1-300l1 162l1-238l1 214l1-166l1 194l1-178l1 157l1-150l1 120l1-142l1 119l1-109l1 132l1-171l1 163l1-139l1 150l1-144l1 149l1-149l1 317l1-326l1 226l1-228l1 185l1-162l1 188l1-176l1 110l1-168l1 238l1-151l1 93l1-211l1 207l1-109l1 244l1-208l1 122l1-87l1 102l1-102l1 116l1-155l1 104l1-47l1 54l1-99l1 135l1-118l1 97l1-89l1 161l1-203l1 165l1-130l1 120l1-156l1 138l1-145l1 124l1-63l1 71l1-173l1 155l1-157l1 178l1-295l1 430l1-256l1 102l1-112l1 164l1-153l1 302l1-274l1 92l1-100l1 89l1-85l1 75l1-87l1 84l1-62l1 97l1-85l1 157l1-174l1 77l1-57l1 106l1-112l1 74l1-85l1 103l1-125l1 178l1-167l1 96l1-103l1 114l1-135l1 157l1-180l1 213l1-169l1 103l1-91l1 191l1-210l1 136l1-122l1 139l1-162l1 136l1-111l1 130l1-220l1 242l1-191l1 145l1-168l1 155l1-154l1 279l1-276l1 160l1-116l1 120l1-146l1 163l1-180l1 220l1-147l1 169l1-243l1 134l1-77l1 102l1-92l1 65l1-41l1 27l1-100l1 158l1-163l1 143l1-67l1 116l1-200l1 168l1-87l1 127l1-143l1 108l1-203l1 369l1-286l1 149l1-219l1 276l1-227l1 163l1-125l1 117l1-142l1 133l1-129l1 135l1-95l1 97l1-112l1 115l1-127l1 63l1-107l1 106l1-97l1 82l1-62l1 109l1-121l1 196l1-239l1 145l1-149l1 137l1-151l1 180l1-142l1 158l1-158l1 201l1-227l1 166l1-150l1 104l1-98l1 164l1-232l1 223l1-175l1 141l1-130l1 196l1-195l1 137l1-218l1 222l1-150l1 179l1-165l1 134l1-116l1 168l1-200l1 134l1-126l1 166l1-193l1 118l1-97l1 135l1-150l1 114l1-106l1 143l1-152l1 115l1-132l1 145l1-248l1 205l1-123l1 131l1-109l1 140l1-116l1 111l1-112l1 128l1-126l1 166l1-247l1 278l1-207l1 173l1-269l1 233l1-190l1 416l1-362l1 150l1-135l1 205l1-193l1 113l1-121l1 146l1-136l1 172l1-313l1 379l1-228l1 98l1-136l1 141l1-95l1 336l1-336l1 155l1-210l1 218l1-181l1 132l1-233l1 247l1-126l1 105l1-88l1 99l1-155l1 156l1-140l1 192l1-168l1 153l1-185l1 199l1-184l1 162l1-178l1 187l1-155l1 154l1-163l1 207l1-168l1 184l1-186l1 182l1-336l1 320l1-189l1 232l1-222l1 245l1-215l1 182l1-188l1 216l1-256l1 267l1-316l1 274l1-214l1 188l1-304l1 336l1-193l1 299l1-310l1 157l1-133l1 148l1-152l1 136l1-184l1 170l1-109l1 105l1-82l1 105l1-102l1 81l1-44l1 60l1-88l1 181l1-282l1 264l1-205l1 163l1-146l1 228l1-220l1 125l1-83l1 136l1-97l1 41l1-93l1 108l1-85l1 68l1-57l1 83l1-160l1 241l1-174l1 105l1-114l1 79l1-83l1 142l1-172l1 135l1-130l1 223l1-273l1 254l1-210l1 227l1-307l1 284l1-182l1 132l1-158l1 167l1-137l1 191l1-251l1 219l1-149l1 147l1-122l1 181l1-262l1 206l1-128l1 127l1-125l1 159l1-118l1 97l1-128l1 91l1-85l1 119l1-234l1 228l1-113l1 124l1-150l1 158l1-251l1 238l1-131l1 133l1-141l1 204l1-175l1 171l1-216l1 169l1-175l1 243l1-311l1 198l1-148l1 132l1-144l1 138l1-189l1 296l1-423l1 291l1-144l1 116l1-137l1 123l1-230l1 237l1-135l1 141l1-206l1 152l1-144l1 130l1-192l1 191l1-268l1 226l1-90l1 109l1-123l1 141l1-101l1 200l1-312l1 220l1-147l1 128l1-125l1 147l1-135l1 125l1-96l1 86l1-100l1 111l1-96l1 117l1-133l1 196l1-257l1 182l1-118l1 106l1-97l1 98l1-86l1 85l1-93l1 166l1-163l1 94l1-113l1 155l1-142l1 111l1-114l1 110l1-140l1 229l1-304l1 271l1-161l1 140l1-212l1 200l1-163l1 122l1-108l1 154l1-124l1 111l1-91l1 99l1-93l1 121l1-177l1 149l1-111l1 196l1-213l1 136l1-122l1 137l1-191l1 191l1-108l1 107l1-117l1 119l1-120l1 147l1-159l1 149l1-138l1 163l1-214l1 215l1-198l1 204l1-210l1 147l1-149l1 194l1-172l1 101l1-179l1 191l1-165l1 178l1-114l1 116l1-216l1 200l1-89l1 156l1-188l1 143l1-163l1 230l1-282l1 208l1-212l1 224l1-156l1 164l1-221l1 193l1-107l1 121l1-90l1 202l1-206l1 102l1-110l1 123l1-87l1 116l1-181l1 133l1-123l1 73l1-53l1 55l1-92l1 100l1-174l1 224l1-150l1 76l1-114l1 156l1-138l1 136l1-130l1 133l1-124l1 142l1-211l1 199l1-131l1 147l1-145l1 224l1-258l1 216l1-150l1 132l1-180l1 201l1-159l1 266l1-239l1 146l1-167l1 218l1-180l1 108l1-116l1 151l1-182l1 157l1-193l1 256l1-298l1 227l1-125l1 177l1-173l1 191l1-218l1 189l1-199l1 269l1-262l1 244l1-328l1 287l1-237l1 251l1-392l1 345l1-176l1 165l1-103l1 110l1-157l1 192l1-237l1 367l1-293l1 169l1-246l1 238l1-271l1 284l1-236l1 282l1-185l1 121l1-146l1 128l1-120l1 140l1-120l1 101l1-124l1 200l1-208l1 184l1-203l1 182l1-126l1 43l1-61l1 93l1-145l1 196l1-153l1 88l1-113l1 140l1-71l1 78l1-87l1 67l1-128l1 103l1-52l1 79l1-65l1 162l1-177l1 87l1-93l1 96l1-234l1 247l1-162l1 172l1-128l1 173l1-138l1 134l1-176l1 206l1-162l1 147l1-297l1 292l1-167l1 165l1-154l1 279l1-262l1 163l1-229l1 241l1-264l1 242l1-192l1 157l1-137l1 183l1-187l1 131l1-111l1 163l1-232l1 205l1-157l1 162l1-184l1 274l1-264l1 245l1-247l1 203l1-191l1 262l1-279l1 194l1-170l1 245l1-240l1 179l1-227l1 235l1-187l1 173l1-158l1 234l1-221l1 215l1-213l1 127l1-178l1 162l1-153l1 165l1-146l1 85l1-97l1 215l1-371l1 342l1-230l1 198l1-135l1 104l1-183l1 211l1-215l1 190l1-116l1 128l1-156l1 172l1-177l1 155l1-207l1 259l1-217l1 294l1-218l1 116l1-131l1 128l1-153l1 151l1-120l1 118l1-215l1 242l1-137l1 93l1-147l1 174l1-147l1 124l1-75l1 82l1-160l1 177l1-116l1 142l1-152l1 81l1-107l1 85l1-132l1 145l1-98l1 145l1-139l1 93l1-109l1 116l1-178l1 178l1-121l1 131l1-145l1 164l1-159l1 141l1-141l1 167l1-187l1 163l1-165l1 139l1-138l1 150l1-127l1 88l1-194l1 220l1-125l1 131l1-124l1 156l1-161l1 171l1-135l1 144l1-117l1 123l1-146l1 257l1-287l1 195l1-132l1 164l1-257l1 212l1-116l1 259l1-273l1 191l1-201l1 155l1-155l1 166l1-151l1 155l1-191l1 249l1-254l1 194l1-171l1 136l1-152l1 146l1-137l1 149l1-143l1 138l1-140l1 192l1-173l1 103l1-112l1 118l1-164l1 123l1-76l1 76l1-79l1 80l1-61l1 71l1-130l1 172l1-198l1 244l1-200l1 184l1-202l1 120l1-52l1 46l1-67l1 107l1-77l1 101l1-130l1 144l1-219l1 168l1-72l1 80l1-112l1 140l1-172l1 152l1-213l1 223l1-171l1 183l1-252l1 205l1-240l1 282l1-205l1 245l1-219l1 145l1-146l1 178l1-174l1 170l1-164l1 186l1-192l1 140l1-134l1 163l1-166l1 181l1-185l1 230l1-239l1 200l1-226l1 207l1-179l1 173l1-166l1 166l1-152l1 165l1-177l1 174l1-184l1 212l1-298l1 253l1-158l1 125l1-214l1 254l1-150l1 243l1-282l1 170l1-273l1 260l1-239l1 267l1-202l1 204l1-180l1 146l1-154l1 135l1-146l1 141l1-117l1 258l1-272l1 144l1-128l1 147l1-149l1 186l1-162l1 86l1-113l1 104l1-112l1 103l1-82l1 133l1-240l1 180l1-56l1 67l1-94l1 182l1-300l1 196l1-114l1 150l1-163l1 170l1-113l1 92l1-132l1 110l1-119l1 130l1-86l1 113l1-140l1 179l1-188l1 155l1-262l1 353l1-214l1 145l1-174l1 235l1-172l1 173l1-232l1 208l1-119l1 137l1-166l1 172l1-165l1 135l1-153l1 218l1-203l1 127l1-81l1 112l1-140l1 89l1-129l1 122l1-75l1 208l1-224l1 93l1-137l1 117l1-86l1 77l1-103l1 158l1-165l1 101l1-115l1 101l1-80l1 81l1-109l1 123l1-111l1 129l1-210l1 203l1-136l1 104l1-133l1 154l1-138l1 249l1-219l1 112l1-208l1 311l1-322l1 233l1-236l1 215l1-149l1 167l1-118l1 115l1-115l1 101l1-110l1 144l1-115l1 120l1-197l1 178l1-98l1 58l1-55l1 111l1-87l1 113l1-188l1 137l1-51l1 92l1-92l1 61l1-77l1 83l1-102l1 94l1-72l1 169l1-283l1 222l1-184l1 199l1-240l1 203l1-190l1 184l1-178l1 183l1-234l1 208l1-171l1 161l1-165l1 137l1-158l1 224l1-234l1 176l1-126l1 163l1-209l1 218l1-183l1 197l1-219l1 130l1-73l1 151l1-158l1 185l1-207l1 146l1-141l1 120l1-108l1 249l1-272l1 186l1-157l1 215l1-175l1 113l1-119l1 182l1-201l1 140l1-176l1 211l1-211l1 223l1-181l1 159l1-153l1 137l1-192l1 181l1-156l1 244l1-239l1 161l1-228l1 275l1-201l1 264l1-316l1 254l1-221l1 268l1-289l1 209l1-171l1 201l1-215l1 206l1-215l1 246l1-301l1 234l1-151l1 158l1-135l1 163l1-166l1 192l1-172l1 92l1-132l1 177l1-149l1 129l1-212l1 221l1-152l1 209l1-227l1 253l1-325l1 218l1-132l1 132l1-214l1 256l1-176l1 195l1-260l1 242l1-171l1 173l1-193l1 180l1-186l1 165l1-175l1 163l1-262l1 301l1-239l1 196l1-195l1 199l1-181l1 231l1-259l1 190l1-202l1 325l1-371l1 275l1-177l1 154l1-148l1 164l1-172l1 172l1-216l1 270l1-215l1 144l1-154l1 286l1-261l1 185l1-342l1 291l1-99l1 153l1-159l1 126l1-141l1 162l1-145l1 159l1-142l1 137l1-178l1 204l1-168l1 147l1-165l1 311l1-333l1 175l1-160l1 166l1-163l1 211l1-218l1 178l1-200l1 175l1-179l1 296l1-316l1 246l1-192l1 251l1-260l1 163l1-179l1 153l1-123l1 172l1-161l1 82l1-101l1 231l1-214l1 106l1-130l1 161l1-153l1 194l1-189l1 131l1-68l1 66l1-76l1 58l1-71l1 124l1-145l1 97l1-102l1 214l1-289l1 194l1-144l1 156l1-103l1 240l1-260l1 127l1-115l1 120l1-223l1 251l1-141l1 111l1-87l1 88l1-90l1 100l1-139l1 144l1-87l1 74l1-247l1 225l1-31l1 59l1-51l1 85l1-82l1 37l1-59l1 62l1-101l1 137l1-107l1 50l1-63l1 53l1-101l1 101l1-69l1 80l1-83l1 50l1-227l1 214l1-42l1 152l1-201l1 118l1-152l1 191l1-115l1 138l1-176l1 103l1-219l1 236l1-136l1 126l1-229l1 272l1-197l1 208l1-206l1 194l1-171l1 263l1-225l1 162l1-138l1 159l1-177l1 175l1-252l1 263l1-139l1 111l1-141l1 150l1-132l1 102l1-143l1 165l1-161l1 125l1-107l1 87l1-127l1 156l1-117l1 93l1-127l1 141l1-146l1 171l1-172l1 219l1-266l1 178l1-163l1 127l1-124l1 134l1-229l1 197l1-104l1 171l1-325l1 229l1-66l1 94l1-269l1 276l1-116l1 149l1-164l1 220l1-170l1 122l1-306l1 297l1-75l1 75l1-82l1 95l1-70l1 90l1-114l1 143l1-97l1 109l1-146l1 98l1-102l1 158l1-219l1 240l1-184l1 132l1-88l1 86l1-86l1 46l1-32l1 77l1-117l1 78l1-97l1 133l1-120l1 96l1-90l1 76l1-92l1 86l1-215l1 297l1-176l1 140l1-92l1 89l1-116l1 92l1-58l1 124l1-243l1 209l1-182l1 172l1-92l1 103l1-126l1 99l1-83l1 98l1-176l1 161l1-99l1 87l1-166l1 214l1-207l1 153l1-158l1 173l1-305l1 348l1-168l1 138l1-170l1 136l1-110l1 157l1-183l1 178l1-152l1 171l1-172l1 158l1-152l1 302l1-347l1 231l1-172l1 115l1-182l1 213l1-237l1 273l1-219l1 193l1-152l1 124l1-180l1 230l1-197l1 150l1-121l1 113l1-99l1 99l1-116l1 125l1-86l1 72l1-92l1 100l1-158l1 191l1-205l1 194l1-184l1 175l1-111l1 76l1-110l1 128l1-123l1 95l1-96l1 156l1-155l1 72l1-127l1 141l1-138l1 127l1-190l1 190l1-137l1 164l1-168l1 146l1-193l1 187l1-214l1 261l1-208l1 184l1-122l1 111l1-132l1 210l1-205l1 450l1-405l1 132l1-111l1 92l1-102l1 163l1-290l1 231l1-101l1 158l1-124l1 111l1-144l1 273l1-287l1 181l1-212l1 206l1-169l1 160l1-102l1 57l1-89l1 65l1-65l1 58l1-81l1 90l1-138l1 139l1-104l1 133l1-108l1 111l1-108l1 89l1-165l1 230l1-252l1 198l1-192l1 162l1-108l1 189l1-130l1 68l1-143l1 182l1-124l1 84l1-101l1 149l1-140l1 110l1-86l1 89l1-100l1 109l1-163l1 154l1-100l1 88l1-130l1 125l1-87l1 170l1-237l1 154l1-112l1 144l1-186l1 157l1-152l1 163l1-135l1 247l1-288l1 249l1-153l1 71l1-176l1 159l1-132l1 185l1-187l1 117l1-82l1 115l1-164l1 156l1-94l1 99l1-79l1 117l1-120l1 86l1-91l1 121l1-163l1 163l1-129l1 109l1-133l1 174l1-268l1 210l1-133l1 161l1-165l1 146l1-192l1 225l1-148l1 240l1-296l1 192l1-127l1 130l1-127l1 158l1-188l1 181l1-165l1 115l1-109l1 121l1-132l1 168l1-175l1 139l1-154l1 197l1-162l1 120l1-144l1 111l1-134l1 154l1-136l1 129l1-138l1 149l1-175l1 179l1-157l1 245l1-292l1 179l1-163l1 194l1-202l1 171l1-253l1 298l1-186l1 100l1-76l1 126l1-189l1 203l1-129l1 164l1-136l1 92l1-135l1 122l1-86l1 107l1-146l1 168l1-85l1 59l1-59l1 77l1-139l1 253l1-184l1 159l1-152l1 57l1-108l1 220l1-167l1 101l1-139l1 106l1-86l1 152l1-226l1 132l1-54l1 68l1-228l1 245l1-117l1 245l1-255l1 149l1-247l1 166l1-227l1 227l1-97l1 107l1-172l1 149l1-125l1 153l1-145l1 240l1-339l1 239l1-213l1 235l1-225l1 208l1-177l1 177l1-139l1 149l1-194l1 169l1-153l1 168l1-158l1 230l1-275l1 487l1-432l1 202l1-279l1 256l1-229l1 243l1-182l1 156l1-229l1 285l1-267l1 187l1-141l1 156l1-195l1 186l1-104l1 109l1-225l1 236l1-113l1 100l1-186l1 197l1-107l1 80l1-83l1 130l1-135l1 101l1-110l1 128l1-84l1 98l1-258l1 294l1-132l1 135l1-145l1 224l1-233l1 162l1-109l1 152l1-168l1 108l1-128l1 121l1-111l1 127l1-130l1 142l1-145l1 241l1-263l1 340l1-370l1 230l1-211l1 179l1-221l1 261l1-236l1 185l1-208l1 183l1-167l1 175l1-173l1 164l1-260l1 299l1-228l1 238l1-236l1 180l1-207l1 230l1-234l1 214l1-244l1 232l1-219l1 234l1-244l1 315l1-266l1 252l1-282l1 228l1-267l1 367l1-284l1 175l1-185l1 195l1-234l1 227l1-194l1 191l1-242l1 235l1-134l1 138l1-118l1 101l1-146l1 149l1-120l1 147l1-238l1 217l1-137l1 181l1-212l1 232l1-209l1 157l1-144l1 146l1-172l1 154l1-128l1 132l1-182l1 316l1-297l1 149l1-180l1 214l1-241l1 263l1-317l1 297l1-187l1 207l1-193l1 287l1-310l1 246l1-246l1 186l1-143l1 166l1-251l1 231l1-158l1 217l1-197l1 165l1-190l1 208l1-178l1 139l1-127l1 133l1-173l1 137l1-134l1 126l1-126l1 196l1-177l1 132l1-152l1 148l1-135l1 134l1-203l1 264l1-258l1 206l1-237l1 227l1-217l1 211l1-192l1 197l1-298l1 289l1-192l1 288l1-294l1 181l1-199l1 256l1-166l1 237l1-240l1 175l1-174l1 135l1-194l1 268l1-233l1 158l1-140l1 123l1-89l1 100l1-105l1 88l1-170l1 197l1-114l1 161l1-157l1 99l1-126l1 325l1-329l1 159l1-207l1 158l1-127l1 163l1-150l1 86l1-43l1 146l1-199l1 71l1-91l1 133l1-102l1 84l1-105l1 111l1-50l1 52l1-48l1 49l1-67l1 74l1-232l1 204l1-51l1 212l1-283l1 145l1-70l1 69l1-109l1 137l1-126l1 127l1-119l1 131l1-91l1 77l1-165l1 157l1-158l1 216l1-172l1 113l1-110l1 124l1-111l1 187l1-184l1 127l1-107l1 98l1-107l1 131l1-120l1 172l1-198l1 143l1-176l1 174l1-201l1 220l1-277l1 265l1-259l1 295l1-257l1 245l1-201l1 225l1-262l1 215l1-258l1 228l1-160l1 140l1-234l1 212l1-263l1 287l1-209l1 171l1-129l1 148l1-208l1 219l1-184l1 216l1-249l1 259l1-167l1 222l1-289l1 221l1-140l1 143l1-226l1 208l1-156l1 260l1-202l1 110l1-193l1 235l1-171l1 170l1-225l1 177l1-115l1 229l1-222l1 116l1-186l1 366l1-418l1 366l1-246l1 153l1-162l1 137l1-153l1 152l1-225l1 242l1-157l1 155l1-122l1 117l1-156l1 181l1-135l1 153l1-146l1 124l1-88l1 143l1-173l1 101l1-92l1 136l1-187l1 159l1-113l1 94l1-108l1 182l1-210l1 112l1-250l1 264l1-107l1 90l1-120l1 163l1-232l1 219l1-124l1 95l1-106l1 105l1-89l1 76l1-94l1 84l1-24l1 38l1-83l1 97l1-132l1 213l1-355l1 260l1-74l1 98l1-181l1 181l1-120l1 105l1-121l1 125l1-187l1 220l1-125l1 118l1-159l1 169l1-157l1 182l1-197l1 213l1-179l1 177l1-191l1 125l1-153l1 216l1-165l1 111l1-155l1 234l1-196l1 127l1-175l1 168l1-152l1 255l1-259l1 218l1-213l1 153l1-149l1 173l1-296l1 385l1-295l1 203l1-192l1 172l1-141l1 173l1-190l1 145l1-242l1 214l1-116l1 203l1-208l1 237l1-263l1 152l1-140l1 184l1-157l1 138l1-148l1 149l1-194l1 200l1-237l1 218l1-144l1 147l1-124l1 121l1-123l1 142l1-184l1 187l1-146l1 166l1-189l1 224l1-207l1 201l1-202l1 272l1-268l1 211l1-196l1 174l1-170l1 157l1-218l1 237l1-222l1 209l1-199l1 222l1-181l1 186l1-184l1 161l1-150l1 142l1-206l1 205l1-257l1 285l1-174l1 128l1-130l1 134l1-171l1 170l1-173l1 197l1-182l1 157l1-112l1 123l1-148l1 142l1-136l1 98l1-76l1 84l1-84l1 134l1-229l1 193l1-164l1 203l1-120l1 87l1-123l1 98l1-254l1 396l1-189l1 119l1-140l1 93l1-72l1 73l1-70l1 59l1-71l1 183l1-256l1 164l1-77l1 89l1-105l1 163l1-164l1 181l1-175l1 102l1-90l1 114l1-140l1 133l1-134l1 134l1-157l1 366l1-343l1 152l1-129l1 113l1-139l1 175l1-151l1 199l1-214l1 111l1-128l1 121l1-112l1 123l1-124l1 97l1-362l1 377l1-146l1 137l1-188l1 222l1-195l1 154l1-158l1 154l1-168l1 186l1-217l1 220l1-218l1 238l1-202l1 143l1-167l1 195l1-246l1 210l1-169l1 201l1-155l1 143l1-169l1 171l1-166l1 152l1-242l1 244l1-189l1 183l1-126l1 128l1-162l1 170l1-86l1 65l1-64l1 173l1-272l1 207l1-169l1 183l1-128l1 78l1-94l1 158l1-172l1 205l1-253l1 264l1-349l1 221l1-118l1 98l1-91l1 171l1-153l1 163l1-174l1 115l1-134l1 124l1-114l1 240l1-265l1 150l1-233l1 243l1-143l1 111l1-140l1 188l1-136l1 116l1-128l1 148l1-374l1 374l1-137l1 227l1-223l1 101l1-93l1 111l1-94l1 112l1-125l1 102l1-221l1 194l1-196l1 265l1-172l1 77l1-215l1 276l1-168l1 119l1-157l1 274l1-324l1 175l1-118l1 122l1-207l1 178l1-90l1 95l1-127l1 178l1-142l1 99l1-117l1 131l1-78l1 97" stroke-width="0.17" vector-effect="non-scaling-stroke"/><path d="M17 7652L18 7849M81 8030L82 7513M125 7546L126 7849M657 8213L658 7469M782 7507L783 8305M1096 8112L1097 7532M1119 7742L1120 8179M1750 8156L1751 7593M1809 7603L1810 8103M3518 7982L3519 7594M3533 7582L3534 8004M3966 8130L3967 7615M3985 7619L3986 8104M4404 8170L4405 7632M4419 7638L4420 8009M6171 8289L6172 7387M6192 7417L6193 8336" stroke-width="0.12" vector-effect="non-scaling-stroke"/></g></g>
<rect class="ln" x="72.5" y="715.7" width="554" height="139.7"/>
<path class="ln" d="M72.5 749.8h-3.5M72.5 814.1h-3.5M72.5 855.4v3.5M164.833 855.4v3.5M257.167 855.4v3.5M349.5 855.4v3.5M441.833 855.4v3.5M534.167 855.4v3.5M626.5 855.4v3.5"/>
<filter id="gs" x="0" y="0" width="720" height="900" filterUnits="userSpaceOnUse"><feColorMatrix type="saturate" values="0"/></filter>
<g filter="url(#gs)"><text x="359.6" y="32.1" font-size="19" text-anchor="middle" textLength="334" lengthAdjust="spacingAndGlyphs">2017-06-08 22:00-23:00 (250.00_Hz)</text>
<text x="65.8" y="50.7" font-size="15.85" text-anchor="end" textLength="31.7205" lengthAdjust="spacingAndGlyphs">1.00</text>
<text x="65.8" y="85.7" font-size="15.85" text-anchor="end" textLength="31.7205" lengthAdjust="spacingAndGlyphs">0.75</text>
<text x="65.8" y="120.7" font-size="15.85" text-anchor="end" textLength="31.7205" lengthAdjust="spacingAndGlyphs">0.50</text>
<text x="65.8" y="155.7" font-size="15.85" text-anchor="end" textLength="31.7205" lengthAdjust="spacingAndGlyphs">0.25</text>
<text x="65.8" y="190.7" font-size="15.85" text-anchor="end" textLength="31.7205" lengthAdjust="spacingAndGlyphs">0.00</text>
<text x="348.6" y="124.3" font-size="19" text-anchor="middle" textLength="224.4" lengthAdjust="spacingAndGlyphs">Currently No Meteo Data</text>
<text x="65.8" y="210.7" font-size="15.85" text-anchor="end" textLength="9.063" lengthAdjust="spacingAndGlyphs">2</text>
<text x="65.8" y="271.95" font-size="15.85" text-anchor="end" textLength="31.7205" lengthAdjust="spacingAndGlyphs">1.75</text>
<text x="65.8" y="333.2" font-size="15.85" text-anchor="end" textLength="22.6575" lengthAdjust="spacingAndGlyphs">1.5</text>
<text x="65.8" y="394.45" font-size="15.85" text-anchor="end" textLength="31.7205" lengthAdjust="spacingAndGlyphs">1.25</text>
<text x="65.8" y="455.7" font-size="15.85" text-anchor="end" textLength="9.063" lengthAdjust="spacingAndGlyphs">1</text>
<text x="65.8" y="516.95" font-size="15.85" text-anchor="end" textLength="31.7205" lengthAdjust="spacingAndGlyphs">0.75</text>
<text x="65.8" y="578.2" font-size="15.85" text-anchor="end" textLength="22.6575" lengthAdjust="spacingAndGlyphs">0.5</text>
<text x="65.8" y="639.45" font-size="15.85" text-anchor="end" textLength="31.7205" lengthAdjust="spacingAndGlyphs">0.25</text>
<text x="65.8" y="700.7" font-size="15.85" text-anchor="end" textLength="9.063" lengthAdjust="spacingAndGlyphs">0</text>
<text transform="translate(24.2,450.3) rotate(-90)" font-size="15.85" text-anchor="middle" textLength="136.5" lengthAdjust="spacingAndGlyphs">FFT Frequenz [Hz]</text>
<text x="662" y="200.3" font-size="15.85" text-anchor="start" textLength="31.7205" lengthAdjust="spacingAndGlyphs">2.00</text>
<text x="662" y="257.537" font-size="15.85" text-anchor="start" textLength="31.7205" lengthAdjust="spacingAndGlyphs">1.75</text>
<text x="662" y="314.775" font-size="15.85" text-anchor="start" textLength="31.7205" lengthAdjust="spacingAndGlyphs">1.50</text>
<text x="662" y="372.012" font-size="15.85" text-anchor="start" textLength="31.7205" lengthAdjust="spacingAndGlyphs">1.25</text>
<text x="662" y="429.25" font-size="15.85" text-anchor="start" textLength="31.7205" lengthAdjust="spacingAndGlyphs">1.00</text>
<text x="662" y="486.487" font-size="15.85" text-anchor="start" textLength="31.7205" lengthAdjust="spacingAndGlyphs">0.75</text>
<text x="662" y="543.725" font-size="15.85" text-anchor="start" textLength="31.7205" lengthAdjust="spacingAndGlyphs">0.50</text>
<text x="662" y="600.962" font-size="15.85" text-anchor="start" textLength="31.7205" lengthAdjust="spacingAndGlyphs">0.25</text>
<text x="662" y="658.2" font-size="15.85" text-anchor="start" textLength="31.7205" lengthAdjust="spacingAndGlyphs">0.00</text>
<text x="65.8" y="755.1" font-size="15.85" text-anchor="end" textLength="18.126" lengthAdjust="spacingAndGlyphs">40</text>
<text x="65.8" y="819.4" font-size="15.85" text-anchor="end" textLength="18.126" lengthAdjust="spacingAndGlyphs">20</text>
<text x="71.6" y="872.5" font-size="15.85" text-anchor="middle" textLength="9.3492" lengthAdjust="spacingAndGlyphs">0</text>
<text x="163.933" y="872.5" font-size="15.85" text-anchor="middle" textLength="18.6984" lengthAdjust="spacingAndGlyphs">10</text>
<text x="256.267" y="872.5" font-size="15.85" text-anchor="middle" textLength="18.6984" lengthAdjust="spacingAndGlyphs">20</text>
<text x="348.6" y="872.5" font-size="15.85" text-anchor="middle" textLength="18.6984" lengthAdjust="spacingAndGlyphs">30</text>
<text x="440.933" y="872.5" font-size="15.85" text-anchor="middle" textLength="18.6984" lengthAdjust="spacingAndGlyphs">40</text>
<text x="533.267" y="872.5" font-size="15.85" text-anchor="middle" textLength="18.6984" lengthAdjust="spacingAndGlyphs">50</text>
<text x="625.6" y="872.5" font-size="15.85" text-anchor="middle" textLength="18.6984" lengthAdjust="spacingAndGlyphs">60</text>
<text transform="translate(39.4,786.0) rotate(-90)" font-size="15.85" text-anchor="middle" textLength="63.5" lengthAdjust="spacingAndGlyphs">SPL [dB]</text>
<text x="349.3" y="890" font-size="15.85" text-anchor="middle" textLength="79.5" lengthAdjust="spacingAndGlyphs">time [min]</text></g>
</svg>
</body></html>
